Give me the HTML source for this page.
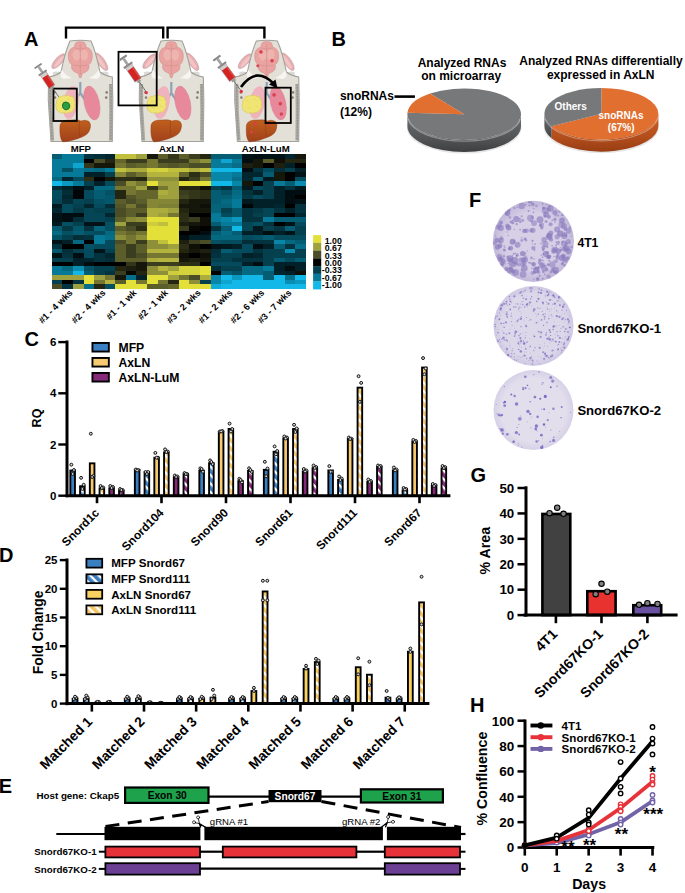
<!DOCTYPE html>
<html><head><meta charset="utf-8"><style>
html,body{margin:0;padding:0;background:#fff;}
body{width:685px;height:893px;overflow:hidden;}
svg{display:block;font-family:"Liberation Sans", sans-serif;}
</style></head><body>
<svg width="685" height="893" viewBox="0 0 685 893">
<rect width="685" height="893" fill="#fff"/>
<defs>
<pattern id="hb" patternUnits="userSpaceOnUse" width="6" height="6" patternTransform="rotate(45)"><rect width="6" height="6" fill="#3a7fc1"/><rect width="6" height="2.3" fill="#fff"/></pattern>
<pattern id="hy" patternUnits="userSpaceOnUse" width="6" height="6" patternTransform="rotate(45)"><rect width="6" height="6" fill="#f7c970"/><rect width="6" height="2.3" fill="#fff"/></pattern>
<pattern id="hp" patternUnits="userSpaceOnUse" width="6" height="6" patternTransform="rotate(45)"><rect width="6" height="6" fill="#842a78"/><rect width="6" height="2.3" fill="#fff"/></pattern>
<pattern id="hy2" patternUnits="userSpaceOnUse" width="6" height="6" patternTransform="rotate(45)"><rect width="6" height="6" fill="#f5c562"/><rect width="6" height="2.3" fill="#fff"/></pattern>
<linearGradient id="pieside" x1="0" x2="0" y1="0" y2="1"><stop offset="0" stop-color="#6c6d6f"/><stop offset="0.6" stop-color="#555658"/><stop offset="1" stop-color="#3e3f41"/></linearGradient>
<linearGradient id="piesideo" x1="0" x2="0" y1="0" y2="1"><stop offset="0" stop-color="#cc5e24"/><stop offset="0.6" stop-color="#b44e1c"/><stop offset="1" stop-color="#983e14"/></linearGradient>
<radialGradient id="plate1" cx="0.5" cy="0.5" r="0.5"><stop offset="0.7" stop-color="#d6cfe6"/><stop offset="1" stop-color="#c2b8da"/></radialGradient>
<radialGradient id="plate2" cx="0.5" cy="0.5" r="0.5"><stop offset="0.8" stop-color="#dcd7e9"/><stop offset="1" stop-color="#d0c9e3"/></radialGradient>
<radialGradient id="plate3" cx="0.5" cy="0.5" r="0.5"><stop offset="0.8" stop-color="#e2deec"/><stop offset="1" stop-color="#d6d1e6"/></radialGradient>
<linearGradient id="liver" x1="0" x2="0" y1="0" y2="1"><stop offset="0" stop-color="#c0601e"/><stop offset="1" stop-color="#a0401a"/></linearGradient>
</defs>
<text x="24.1" y="46.3" font-size="20" font-weight="bold" text-anchor="start" fill="#000">A</text>
<text x="331.4" y="46" font-size="20" font-weight="bold" text-anchor="start" fill="#000">B</text>
<text x="24.4" y="346" font-size="20" font-weight="bold" text-anchor="start" fill="#000">C</text>
<text x="-1" y="561.7" font-size="20" font-weight="bold" text-anchor="start" fill="#000">D</text>
<text x="-1.2" y="792.8" font-size="20" font-weight="bold" text-anchor="start" fill="#000">E</text>
<text x="469" y="207" font-size="20" font-weight="bold" text-anchor="start" fill="#000">F</text>
<text x="470.4" y="482.3" font-size="20" font-weight="bold" text-anchor="start" fill="#000">G</text>
<text x="470.1" y="711.9" font-size="20" font-weight="bold" text-anchor="start" fill="#000">H</text>
<path d="M66,38.5 L66,27.6 L163.2,27.6 L163.2,38.5" fill="none" stroke="#000" stroke-width="2.4"/>
<path d="M167.6,38.5 L167.6,27.6 L264.4,27.6 L264.4,38.5" fill="none" stroke="#000" stroke-width="2.4"/>
<g transform="translate(0.0,0)">
<path d="M52.6,72.5 Q57,70 62.5,73.5 L64,77 Q58,77.5 53.5,76 Z" fill="#d9d9d6"/>
<path d="M108.5,72.5 Q104,70 98.5,73.5 L97,78.5 Q103,79 108,77.5 Z" fill="#d9d9d6"/>
<ellipse cx="58.6" cy="61.2" rx="3.6" ry="9.4" transform="rotate(42 58.6 61.2)" fill="#e8aeb2" stroke="#b89a9a" stroke-width="0.5"/>
<ellipse cx="59.2" cy="61.5" rx="1.8" ry="7.2" transform="rotate(42 59.2 61.5)" fill="#f2c4c4"/>
<ellipse cx="101.4" cy="61.8" rx="3.6" ry="10.2" transform="rotate(-34 101.4 61.8)" fill="#e8aeb2" stroke="#b89a9a" stroke-width="0.5"/>
<ellipse cx="100.8" cy="62" rx="1.8" ry="8" transform="rotate(-34 100.8 62)" fill="#f2c4c4"/>
<path d="M70,41 Q80.3,39.5 91,41 C95,50 98,62 100,72 Q104,75.5 112.3,77 L112.8,100 L112.3,141.5 L51,141.5 L48.3,100 L48.6,77 Q57,75.5 61,72 C63,62 66,50 70,41 Z" fill="#e3e0d8" stroke="#a3a19a" stroke-width="1.1"/>
<path d="M50.4,84 L50.6,110 L52.5,140.5 M110.6,84 L111,110 L110.7,140.5" fill="none" stroke="#aaa9a3" stroke-width="3.4"/>
<path d="M50.2,84 L50.4,110 L52.3,140.5 M110.8,84 L111.2,110 L110.9,140.5" fill="none" stroke="#8a8880" stroke-width="0.9" stroke-dasharray="1.6,1.4"/>
<path d="M62,70 Q66,76 72,78 L64,79 Q58,77 62,70Z" fill="#f6f5f2"/>
<path d="M98.6,70 Q94.6,76 88.6,78 L96.6,79 Q102.6,77 98.6,70Z" fill="#f6f5f2"/>
<path d="M76.3,42.2 Q80.3,40.6 84.3,42.2 Q86.3,44 86.2,47.2 Q91.8,48.2 92.3,55 Q92.6,62 88.8,64.8 Q89.8,69.5 86.5,71.5 Q84,73 82.2,73.6 L81.2,77.6 L79.4,77.6 L78.4,73.6 Q76.6,73 74.1,71.5 Q70.8,69.5 71.8,64.8 Q68,62 68.3,55 Q68.8,48.2 74.4,47.2 Q74.3,44 76.3,42.2 Z" fill="#e9a3a1" stroke="#cf8784" stroke-width="0.5"/>
<ellipse cx="76.5" cy="55" rx="4" ry="5.5" fill="#f0bab5" opacity="0.7"/><ellipse cx="84.1" cy="55" rx="4" ry="5.5" fill="#f0bab5" opacity="0.7"/>
<path d="M80.3,44 L80.3,75 M73,65 Q80.3,67 87.6,65 M74.6,48 Q80.3,50 86,48" fill="none" stroke="#d38d8a" stroke-width="0.6"/>
<path d="M80.3,82 L80.3,93 L76,99.5 M80.3,93 L84.8,99.5" fill="none" stroke="#8fa3b7" stroke-width="2.2" stroke-linejoin="round"/>
<ellipse cx="70.8" cy="102.5" rx="7.8" ry="16.5" transform="rotate(10 70.8 102.5)" fill="#efb3bd"/>
<ellipse cx="91.8" cy="103" rx="7.6" ry="17.2" transform="rotate(-12 91.8 103)" fill="#e8899b" stroke="#d77a8c" stroke-width="0.4"/>
<path d="M57.5,99.5 Q58,96 61.5,96.5 Q63,94.8 66,95.8 Q68.5,94.6 70.5,96.5 Q74,96 74,99.5 Q76,101.5 74.8,104.5 Q76,107.5 73.5,109.5 Q73,112.5 69.5,112.3 Q67,114 64,112.8 Q60.5,114 59,111.5 Q55.5,110.5 56.3,107.5 Q54.8,105 56.5,103 Q55.8,100.5 57.5,99.5Z" fill="#f0e572" stroke="#d6c850" stroke-width="0.6"/>
<path d="M60,101 Q62,100 63,102 M67,99 Q69,98.5 70,100.5 M61,108 Q63,107 64,109 M69,106 Q71,105.5 72,107.5" fill="none" stroke="#d8cc58" stroke-width="0.5"/>
<circle cx="106.7" cy="92.4" r="1.3" fill="#8d7f70"/><circle cx="106.2" cy="97.6" r="1.3" fill="#8d7f70"/>
<circle cx="54.5" cy="92.4" r="1.3" fill="#8d7f70"/><circle cx="55.0" cy="97.6" r="1.3" fill="#8d7f70"/>
<path d="M60,125 Q61.5,119.6 71,120 Q78,119.2 81,121 Q85,119.2 89,121.5 Q91.5,124 90,129 Q88.5,134.5 82,137 Q72,141.2 63,142 Q59,139 60,125Z" fill="url(#liver)" stroke="#8d3a14" stroke-width="0.4"/>
<path d="M79.5,121 Q78.5,130 80,137" fill="none" stroke="#8d3a14" stroke-width="0.5"/>
<path d="M62.5,105 Q62.8,101.8 66,102 Q69.6,102.3 69.8,105.8 Q69.8,109.6 66.2,109.8 Q62.4,109.5 62.5,105Z" fill="#2a9e40" stroke="#12702a" stroke-width="1"/>
</g>
<g transform="translate(91.0,0)">
<path d="M52.6,72.5 Q57,70 62.5,73.5 L64,77 Q58,77.5 53.5,76 Z" fill="#d9d9d6"/>
<path d="M108.5,72.5 Q104,70 98.5,73.5 L97,78.5 Q103,79 108,77.5 Z" fill="#d9d9d6"/>
<ellipse cx="58.6" cy="61.2" rx="3.6" ry="9.4" transform="rotate(42 58.6 61.2)" fill="#e8aeb2" stroke="#b89a9a" stroke-width="0.5"/>
<ellipse cx="59.2" cy="61.5" rx="1.8" ry="7.2" transform="rotate(42 59.2 61.5)" fill="#f2c4c4"/>
<ellipse cx="101.4" cy="61.8" rx="3.6" ry="10.2" transform="rotate(-34 101.4 61.8)" fill="#e8aeb2" stroke="#b89a9a" stroke-width="0.5"/>
<ellipse cx="100.8" cy="62" rx="1.8" ry="8" transform="rotate(-34 100.8 62)" fill="#f2c4c4"/>
<path d="M70,41 Q80.3,39.5 91,41 C95,50 98,62 100,72 Q104,75.5 112.3,77 L112.8,100 L112.3,141.5 L51,141.5 L48.3,100 L48.6,77 Q57,75.5 61,72 C63,62 66,50 70,41 Z" fill="#e3e0d8" stroke="#a3a19a" stroke-width="1.1"/>
<path d="M50.4,84 L50.6,110 L52.5,140.5 M110.6,84 L111,110 L110.7,140.5" fill="none" stroke="#aaa9a3" stroke-width="3.4"/>
<path d="M50.2,84 L50.4,110 L52.3,140.5 M110.8,84 L111.2,110 L110.9,140.5" fill="none" stroke="#8a8880" stroke-width="0.9" stroke-dasharray="1.6,1.4"/>
<path d="M62,70 Q66,76 72,78 L64,79 Q58,77 62,70Z" fill="#f6f5f2"/>
<path d="M98.6,70 Q94.6,76 88.6,78 L96.6,79 Q102.6,77 98.6,70Z" fill="#f6f5f2"/>
<path d="M76.3,42.2 Q80.3,40.6 84.3,42.2 Q86.3,44 86.2,47.2 Q91.8,48.2 92.3,55 Q92.6,62 88.8,64.8 Q89.8,69.5 86.5,71.5 Q84,73 82.2,73.6 L81.2,77.6 L79.4,77.6 L78.4,73.6 Q76.6,73 74.1,71.5 Q70.8,69.5 71.8,64.8 Q68,62 68.3,55 Q68.8,48.2 74.4,47.2 Q74.3,44 76.3,42.2 Z" fill="#e9a3a1" stroke="#cf8784" stroke-width="0.5"/>
<ellipse cx="76.5" cy="55" rx="4" ry="5.5" fill="#f0bab5" opacity="0.7"/><ellipse cx="84.1" cy="55" rx="4" ry="5.5" fill="#f0bab5" opacity="0.7"/>
<path d="M80.3,44 L80.3,75 M73,65 Q80.3,67 87.6,65 M74.6,48 Q80.3,50 86,48" fill="none" stroke="#d38d8a" stroke-width="0.6"/>
<path d="M80.3,82 L80.3,93 L76,99.5 M80.3,93 L84.8,99.5" fill="none" stroke="#8fa3b7" stroke-width="2.2" stroke-linejoin="round"/>
<ellipse cx="70.8" cy="102.5" rx="7.8" ry="16.5" transform="rotate(10 70.8 102.5)" fill="#efb3bd"/>
<ellipse cx="91.8" cy="103" rx="7.6" ry="17.2" transform="rotate(-12 91.8 103)" fill="#e8899b" stroke="#d77a8c" stroke-width="0.4"/>
<path d="M57.5,99.5 Q58,96 61.5,96.5 Q63,94.8 66,95.8 Q68.5,94.6 70.5,96.5 Q74,96 74,99.5 Q76,101.5 74.8,104.5 Q76,107.5 73.5,109.5 Q73,112.5 69.5,112.3 Q67,114 64,112.8 Q60.5,114 59,111.5 Q55.5,110.5 56.3,107.5 Q54.8,105 56.5,103 Q55.8,100.5 57.5,99.5Z" fill="#f0e572" stroke="#d6c850" stroke-width="0.6"/>
<path d="M60,101 Q62,100 63,102 M67,99 Q69,98.5 70,100.5 M61,108 Q63,107 64,109 M69,106 Q71,105.5 72,107.5" fill="none" stroke="#d8cc58" stroke-width="0.5"/>
<circle cx="106.7" cy="92.4" r="1.3" fill="#8d7f70"/><circle cx="106.2" cy="97.6" r="1.3" fill="#8d7f70"/>
<circle cx="54.5" cy="92.4" r="1.3" fill="#8d7f70"/><circle cx="55.0" cy="97.6" r="1.3" fill="#8d7f70"/>
<path d="M60,125 Q61.5,119.6 71,120 Q78,119.2 81,121 Q85,119.2 89,121.5 Q91.5,124 90,129 Q88.5,134.5 82,137 Q72,141.2 63,142 Q59,139 60,125Z" fill="url(#liver)" stroke="#8d3a14" stroke-width="0.4"/>
<path d="M79.5,121 Q78.5,130 80,137" fill="none" stroke="#8d3a14" stroke-width="0.5"/>
</g>
<g transform="translate(186.4,0)">
<path d="M52.6,72.5 Q57,70 62.5,73.5 L64,77 Q58,77.5 53.5,76 Z" fill="#d9d9d6"/>
<path d="M108.5,72.5 Q104,70 98.5,73.5 L97,78.5 Q103,79 108,77.5 Z" fill="#d9d9d6"/>
<ellipse cx="58.6" cy="61.2" rx="3.6" ry="9.4" transform="rotate(42 58.6 61.2)" fill="#e8aeb2" stroke="#b89a9a" stroke-width="0.5"/>
<ellipse cx="59.2" cy="61.5" rx="1.8" ry="7.2" transform="rotate(42 59.2 61.5)" fill="#f2c4c4"/>
<ellipse cx="101.4" cy="61.8" rx="3.6" ry="10.2" transform="rotate(-34 101.4 61.8)" fill="#e8aeb2" stroke="#b89a9a" stroke-width="0.5"/>
<ellipse cx="100.8" cy="62" rx="1.8" ry="8" transform="rotate(-34 100.8 62)" fill="#f2c4c4"/>
<path d="M70,41 Q80.3,39.5 91,41 C95,50 98,62 100,72 Q104,75.5 112.3,77 L112.8,100 L112.3,141.5 L51,141.5 L48.3,100 L48.6,77 Q57,75.5 61,72 C63,62 66,50 70,41 Z" fill="#e3e0d8" stroke="#a3a19a" stroke-width="1.1"/>
<path d="M50.4,84 L50.6,110 L52.5,140.5 M110.6,84 L111,110 L110.7,140.5" fill="none" stroke="#aaa9a3" stroke-width="3.4"/>
<path d="M50.2,84 L50.4,110 L52.3,140.5 M110.8,84 L111.2,110 L110.9,140.5" fill="none" stroke="#8a8880" stroke-width="0.9" stroke-dasharray="1.6,1.4"/>
<path d="M62,70 Q66,76 72,78 L64,79 Q58,77 62,70Z" fill="#f6f5f2"/>
<path d="M98.6,70 Q94.6,76 88.6,78 L96.6,79 Q102.6,77 98.6,70Z" fill="#f6f5f2"/>
<path d="M76.3,42.2 Q80.3,40.6 84.3,42.2 Q86.3,44 86.2,47.2 Q91.8,48.2 92.3,55 Q92.6,62 88.8,64.8 Q89.8,69.5 86.5,71.5 Q84,73 82.2,73.6 L81.2,77.6 L79.4,77.6 L78.4,73.6 Q76.6,73 74.1,71.5 Q70.8,69.5 71.8,64.8 Q68,62 68.3,55 Q68.8,48.2 74.4,47.2 Q74.3,44 76.3,42.2 Z" fill="#e9a3a1" stroke="#cf8784" stroke-width="0.5"/>
<ellipse cx="76.5" cy="55" rx="4" ry="5.5" fill="#f0bab5" opacity="0.7"/><ellipse cx="84.1" cy="55" rx="4" ry="5.5" fill="#f0bab5" opacity="0.7"/>
<path d="M80.3,44 L80.3,75 M73,65 Q80.3,67 87.6,65 M74.6,48 Q80.3,50 86,48" fill="none" stroke="#d38d8a" stroke-width="0.6"/>
<path d="M80.3,82 L80.3,93 L76,99.5 M80.3,93 L84.8,99.5" fill="none" stroke="#8fa3b7" stroke-width="2.2" stroke-linejoin="round"/>
<ellipse cx="70.8" cy="102.5" rx="7.8" ry="16.5" transform="rotate(10 70.8 102.5)" fill="#efb3bd"/>
<ellipse cx="91.8" cy="103" rx="7.6" ry="17.2" transform="rotate(-12 91.8 103)" fill="#e8899b" stroke="#d77a8c" stroke-width="0.4"/>
<path d="M57.5,99.5 Q58,96 61.5,96.5 Q63,94.8 66,95.8 Q68.5,94.6 70.5,96.5 Q74,96 74,99.5 Q76,101.5 74.8,104.5 Q76,107.5 73.5,109.5 Q73,112.5 69.5,112.3 Q67,114 64,112.8 Q60.5,114 59,111.5 Q55.5,110.5 56.3,107.5 Q54.8,105 56.5,103 Q55.8,100.5 57.5,99.5Z" fill="#f0e572" stroke="#d6c850" stroke-width="0.6"/>
<path d="M60,101 Q62,100 63,102 M67,99 Q69,98.5 70,100.5 M61,108 Q63,107 64,109 M69,106 Q71,105.5 72,107.5" fill="none" stroke="#d8cc58" stroke-width="0.5"/>
<circle cx="106.7" cy="92.4" r="1.3" fill="#8d7f70"/><circle cx="106.2" cy="97.6" r="1.3" fill="#8d7f70"/>
<circle cx="54.5" cy="92.4" r="1.3" fill="#8d7f70"/><circle cx="55.0" cy="97.6" r="1.3" fill="#8d7f70"/>
<path d="M60,125 Q61.5,119.6 71,120 Q78,119.2 81,121 Q85,119.2 89,121.5 Q91.5,124 90,129 Q88.5,134.5 82,137 Q72,141.2 63,142 Q59,139 60,125Z" fill="url(#liver)" stroke="#8d3a14" stroke-width="0.4"/>
<path d="M79.5,121 Q78.5,130 80,137" fill="none" stroke="#8d3a14" stroke-width="0.5"/>
<circle cx="74.6" cy="51.9" r="1.6" fill="#e0444e" stroke="#c03040" stroke-width="0.3"/>
<circle cx="85.6" cy="60.7" r="1.6" fill="#e0444e" stroke="#c03040" stroke-width="0.3"/>
<circle cx="71.4" cy="65.8" r="1.3" fill="#e0444e" stroke="#c03040" stroke-width="0.3"/>
<circle cx="87.7" cy="94.9" r="1.6" fill="#e0444e" stroke="#c03040" stroke-width="0.3"/>
<circle cx="93.9" cy="103.7" r="1.6" fill="#e0444e" stroke="#c03040" stroke-width="0.3"/>
<circle cx="95" cy="114" r="1.5" fill="#e0444e" stroke="#c03040" stroke-width="0.3"/>
<circle cx="68.7" cy="123.8" r="1.5" fill="#e0444e" stroke="#c03040" stroke-width="0.3"/>
<circle cx="65.2" cy="132.1" r="1.5" fill="#e0444e" stroke="#c03040" stroke-width="0.3"/>
<circle cx="82.3" cy="124" r="1.3" fill="#e0444e" stroke="#c03040" stroke-width="0.3"/>
</g>
<rect x="53.4" y="88.6" width="23.4" height="32.4" fill="none" stroke="#000" stroke-width="1.8"/>
<g transform="translate(37.6,65.2) rotate(56.3) scale(1.000)">
<rect x="0" y="-4.2" width="2" height="8.4" rx="0.6" fill="#8a8a8a"/>
<rect x="2" y="-1.3" width="6.5" height="2.6" fill="#a4a4a4"/>
<rect x="8.2" y="-4.8" width="2" height="9.6" rx="0.5" fill="#8a8a8a"/>
<rect x="10.2" y="-3.4" width="15.5" height="6.8" fill="#d52321" stroke="#8a8a8a" stroke-width="0.5"/>
<rect x="10.2" y="-3.4" width="3.2" height="6.8" fill="#cfcfcf"/>
<rect x="14" y="-3.4" width="11.7" height="1.6" fill="#e85a55" opacity="0.6"/>
<rect x="25.7" y="-1.8" width="2.4" height="3.6" fill="#9a9a9a"/>
<line x1="28" y1="0" x2="38" y2="0" stroke="#6a6a6a" stroke-width="0.8"/>
</g>
<rect x="118.5" y="51.8" width="38.2" height="53.6" fill="none" stroke="#000" stroke-width="1.8"/>
<circle cx="146.3" cy="92.6" r="1.6" fill="#e03040"/>
<g transform="translate(122.4,56.9) rotate(55.8) scale(1.085)">
<rect x="0" y="-4.2" width="2" height="8.4" rx="0.6" fill="#8a8a8a"/>
<rect x="2" y="-1.3" width="6.5" height="2.6" fill="#a4a4a4"/>
<rect x="8.2" y="-4.8" width="2" height="9.6" rx="0.5" fill="#8a8a8a"/>
<rect x="10.2" y="-3.4" width="15.5" height="6.8" fill="#d52321" stroke="#8a8a8a" stroke-width="0.5"/>
<rect x="10.2" y="-3.4" width="3.2" height="6.8" fill="#cfcfcf"/>
<rect x="14" y="-3.4" width="11.7" height="1.6" fill="#e85a55" opacity="0.6"/>
<rect x="25.7" y="-1.8" width="2.4" height="3.6" fill="#9a9a9a"/>
<line x1="28" y1="0" x2="38" y2="0" stroke="#6a6a6a" stroke-width="0.8"/>
</g>
<circle cx="241.2" cy="91.4" r="1.7" fill="#e03040"/>
<g transform="translate(216.2,57.2) rotate(53.5) scale(1.067)">
<rect x="0" y="-4.2" width="2" height="8.4" rx="0.6" fill="#8a8a8a"/>
<rect x="2" y="-1.3" width="6.5" height="2.6" fill="#a4a4a4"/>
<rect x="8.2" y="-4.8" width="2" height="9.6" rx="0.5" fill="#8a8a8a"/>
<rect x="10.2" y="-3.4" width="15.5" height="6.8" fill="#d52321" stroke="#8a8a8a" stroke-width="0.5"/>
<rect x="10.2" y="-3.4" width="3.2" height="6.8" fill="#cfcfcf"/>
<rect x="14" y="-3.4" width="11.7" height="1.6" fill="#e85a55" opacity="0.6"/>
<rect x="25.7" y="-1.8" width="2.4" height="3.6" fill="#9a9a9a"/>
<line x1="28" y1="0" x2="38" y2="0" stroke="#6a6a6a" stroke-width="0.8"/>
</g>
<rect x="265.5" y="87.7" width="25.3" height="35.3" fill="none" stroke="#000" stroke-width="1.8"/>
<path d="M241,87 Q256,66 273.5,83.5" fill="none" stroke="#000" stroke-width="2.6"/>
<path d="M269,84.5 L277.5,88.5 L275.5,79.5 Z" fill="#000"/>
<text x="80.9" y="152.2" font-size="9.6" font-weight="bold" text-anchor="middle" fill="#000">MFP</text>
<text x="171.6" y="152.2" font-size="9.6" font-weight="bold" text-anchor="middle" fill="#000">AxLN</text>
<text x="265.7" y="152.2" font-size="9.6" font-weight="bold" text-anchor="middle" fill="#000">AxLN-LuM</text>
<rect x="51.80" y="154.30" width="11.08" height="4.99" fill="#055d73" shape-rendering="crispEdges"/>
<rect x="62.38" y="154.30" width="11.08" height="4.99" fill="#067a98" shape-rendering="crispEdges"/>
<rect x="72.96" y="154.30" width="11.08" height="4.99" fill="#067a98" shape-rendering="crispEdges"/>
<rect x="83.54" y="154.30" width="11.08" height="4.99" fill="#03333e" shape-rendering="crispEdges"/>
<rect x="94.12" y="154.30" width="11.08" height="4.99" fill="#032d37" shape-rendering="crispEdges"/>
<rect x="104.70" y="154.30" width="11.08" height="4.99" fill="#02262f" shape-rendering="crispEdges"/>
<rect x="115.28" y="154.30" width="11.08" height="4.99" fill="#c1c03c" shape-rendering="crispEdges"/>
<rect x="125.86" y="154.30" width="11.08" height="4.99" fill="#c1c03c" shape-rendering="crispEdges"/>
<rect x="136.44" y="154.30" width="11.08" height="4.99" fill="#9fa03e" shape-rendering="crispEdges"/>
<rect x="147.02" y="154.30" width="11.08" height="4.99" fill="#16170b" shape-rendering="crispEdges"/>
<rect x="157.60" y="154.30" width="11.08" height="4.99" fill="#5b5e2a" shape-rendering="crispEdges"/>
<rect x="168.18" y="154.30" width="11.08" height="4.99" fill="#34361a" shape-rendering="crispEdges"/>
<rect x="178.76" y="154.30" width="11.08" height="4.99" fill="#5b5e2a" shape-rendering="crispEdges"/>
<rect x="189.34" y="154.30" width="11.08" height="4.99" fill="#3b3e1e" shape-rendering="crispEdges"/>
<rect x="199.92" y="154.30" width="11.08" height="4.99" fill="#252612" shape-rendering="crispEdges"/>
<rect x="210.50" y="154.30" width="11.08" height="4.99" fill="#055d73" shape-rendering="crispEdges"/>
<rect x="221.08" y="154.30" width="11.08" height="4.99" fill="#055d73" shape-rendering="crispEdges"/>
<rect x="231.66" y="154.30" width="11.08" height="4.99" fill="#055d73" shape-rendering="crispEdges"/>
<rect x="242.24" y="154.30" width="11.08" height="4.99" fill="#011317" shape-rendering="crispEdges"/>
<rect x="252.82" y="154.30" width="11.08" height="4.99" fill="#010d10" shape-rendering="crispEdges"/>
<rect x="263.40" y="154.30" width="11.08" height="4.99" fill="#011317" shape-rendering="crispEdges"/>
<rect x="273.98" y="154.30" width="11.08" height="4.99" fill="#011317" shape-rendering="crispEdges"/>
<rect x="284.56" y="154.30" width="11.08" height="4.99" fill="#02262f" shape-rendering="crispEdges"/>
<rect x="295.14" y="154.30" width="11.08" height="4.99" fill="#16170b" shape-rendering="crispEdges"/>
<rect x="51.80" y="158.79" width="11.08" height="4.99" fill="#067a98" shape-rendering="crispEdges"/>
<rect x="62.38" y="158.79" width="11.08" height="4.99" fill="#067a98" shape-rendering="crispEdges"/>
<rect x="72.96" y="158.79" width="11.08" height="4.99" fill="#067a98" shape-rendering="crispEdges"/>
<rect x="83.54" y="158.79" width="11.08" height="4.99" fill="#000000" shape-rendering="crispEdges"/>
<rect x="94.12" y="158.79" width="11.08" height="4.99" fill="#4a4d25" shape-rendering="crispEdges"/>
<rect x="104.70" y="158.79" width="11.08" height="4.99" fill="#252612" shape-rendering="crispEdges"/>
<rect x="115.28" y="158.79" width="11.08" height="4.99" fill="#64662c" shape-rendering="crispEdges"/>
<rect x="125.86" y="158.79" width="11.08" height="4.99" fill="#3b3e1e" shape-rendering="crispEdges"/>
<rect x="136.44" y="158.79" width="11.08" height="4.99" fill="#3b3e1e" shape-rendering="crispEdges"/>
<rect x="147.02" y="158.79" width="11.08" height="4.99" fill="#747632" shape-rendering="crispEdges"/>
<rect x="157.60" y="158.79" width="11.08" height="4.99" fill="#3b3e1e" shape-rendering="crispEdges"/>
<rect x="168.18" y="158.79" width="11.08" height="4.99" fill="#3b3e1e" shape-rendering="crispEdges"/>
<rect x="178.76" y="158.79" width="11.08" height="4.99" fill="#3b3e1e" shape-rendering="crispEdges"/>
<rect x="189.34" y="158.79" width="11.08" height="4.99" fill="#747632" shape-rendering="crispEdges"/>
<rect x="199.92" y="158.79" width="11.08" height="4.99" fill="#8e8f39" shape-rendering="crispEdges"/>
<rect x="210.50" y="158.79" width="11.08" height="4.99" fill="#067a98" shape-rendering="crispEdges"/>
<rect x="221.08" y="158.79" width="11.08" height="4.99" fill="#0ea5d0" shape-rendering="crispEdges"/>
<rect x="231.66" y="158.79" width="11.08" height="4.99" fill="#067a98" shape-rendering="crispEdges"/>
<rect x="242.24" y="158.79" width="11.08" height="4.99" fill="#010d10" shape-rendering="crispEdges"/>
<rect x="252.82" y="158.79" width="11.08" height="4.99" fill="#16170b" shape-rendering="crispEdges"/>
<rect x="263.40" y="158.79" width="11.08" height="4.99" fill="#5b5e2a" shape-rendering="crispEdges"/>
<rect x="273.98" y="158.79" width="11.08" height="4.99" fill="#0f0f07" shape-rendering="crispEdges"/>
<rect x="284.56" y="158.79" width="11.08" height="4.99" fill="#252612" shape-rendering="crispEdges"/>
<rect x="295.14" y="158.79" width="11.08" height="4.99" fill="#252612" shape-rendering="crispEdges"/>
<rect x="51.80" y="163.27" width="11.08" height="4.99" fill="#067a98" shape-rendering="crispEdges"/>
<rect x="62.38" y="163.27" width="11.08" height="4.99" fill="#067a98" shape-rendering="crispEdges"/>
<rect x="72.96" y="163.27" width="11.08" height="4.99" fill="#0ea5d0" shape-rendering="crispEdges"/>
<rect x="83.54" y="163.27" width="11.08" height="4.99" fill="#34361a" shape-rendering="crispEdges"/>
<rect x="94.12" y="163.27" width="11.08" height="4.99" fill="#16170b" shape-rendering="crispEdges"/>
<rect x="104.70" y="163.27" width="11.08" height="4.99" fill="#16170b" shape-rendering="crispEdges"/>
<rect x="115.28" y="163.27" width="11.08" height="4.99" fill="#747632" shape-rendering="crispEdges"/>
<rect x="125.86" y="163.27" width="11.08" height="4.99" fill="#5b5e2a" shape-rendering="crispEdges"/>
<rect x="136.44" y="163.27" width="11.08" height="4.99" fill="#64662c" shape-rendering="crispEdges"/>
<rect x="147.02" y="163.27" width="11.08" height="4.99" fill="#747632" shape-rendering="crispEdges"/>
<rect x="157.60" y="163.27" width="11.08" height="4.99" fill="#5b5e2a" shape-rendering="crispEdges"/>
<rect x="168.18" y="163.27" width="11.08" height="4.99" fill="#525528" shape-rendering="crispEdges"/>
<rect x="178.76" y="163.27" width="11.08" height="4.99" fill="#5b5e2a" shape-rendering="crispEdges"/>
<rect x="189.34" y="163.27" width="11.08" height="4.99" fill="#4a4d25" shape-rendering="crispEdges"/>
<rect x="199.92" y="163.27" width="11.08" height="4.99" fill="#4a4d25" shape-rendering="crispEdges"/>
<rect x="210.50" y="163.27" width="11.08" height="4.99" fill="#067a98" shape-rendering="crispEdges"/>
<rect x="221.08" y="163.27" width="11.08" height="4.99" fill="#067a98" shape-rendering="crispEdges"/>
<rect x="231.66" y="163.27" width="11.08" height="4.99" fill="#066e89" shape-rendering="crispEdges"/>
<rect x="242.24" y="163.27" width="11.08" height="4.99" fill="#1e1f0f" shape-rendering="crispEdges"/>
<rect x="252.82" y="163.27" width="11.08" height="4.99" fill="#16170b" shape-rendering="crispEdges"/>
<rect x="263.40" y="163.27" width="11.08" height="4.99" fill="#000000" shape-rendering="crispEdges"/>
<rect x="273.98" y="163.27" width="11.08" height="4.99" fill="#1e1f0f" shape-rendering="crispEdges"/>
<rect x="284.56" y="163.27" width="11.08" height="4.99" fill="#022027" shape-rendering="crispEdges"/>
<rect x="295.14" y="163.27" width="11.08" height="4.99" fill="#000000" shape-rendering="crispEdges"/>
<rect x="51.80" y="167.76" width="11.08" height="4.99" fill="#067a98" shape-rendering="crispEdges"/>
<rect x="62.38" y="167.76" width="11.08" height="4.99" fill="#055164" shape-rendering="crispEdges"/>
<rect x="72.96" y="167.76" width="11.08" height="4.99" fill="#067a98" shape-rendering="crispEdges"/>
<rect x="83.54" y="167.76" width="11.08" height="4.99" fill="#066e89" shape-rendering="crispEdges"/>
<rect x="94.12" y="167.76" width="11.08" height="4.99" fill="#056982" shape-rendering="crispEdges"/>
<rect x="104.70" y="167.76" width="11.08" height="4.99" fill="#067a98" shape-rendering="crispEdges"/>
<rect x="115.28" y="167.76" width="11.08" height="4.99" fill="#c1c03c" shape-rendering="crispEdges"/>
<rect x="125.86" y="167.76" width="11.08" height="4.99" fill="#adad3d" shape-rendering="crispEdges"/>
<rect x="136.44" y="167.76" width="11.08" height="4.99" fill="#adad3d" shape-rendering="crispEdges"/>
<rect x="147.02" y="167.76" width="11.08" height="4.99" fill="#cfcd3b" shape-rendering="crispEdges"/>
<rect x="157.60" y="167.76" width="11.08" height="4.99" fill="#d5d33b" shape-rendering="crispEdges"/>
<rect x="168.18" y="167.76" width="11.08" height="4.99" fill="#c1c03c" shape-rendering="crispEdges"/>
<rect x="178.76" y="167.76" width="11.08" height="4.99" fill="#c1c03c" shape-rendering="crispEdges"/>
<rect x="189.34" y="167.76" width="11.08" height="4.99" fill="#adad3d" shape-rendering="crispEdges"/>
<rect x="199.92" y="167.76" width="11.08" height="4.99" fill="#c1c03c" shape-rendering="crispEdges"/>
<rect x="210.50" y="167.76" width="11.08" height="4.99" fill="#12b8e8" shape-rendering="crispEdges"/>
<rect x="221.08" y="167.76" width="11.08" height="4.99" fill="#12b8e8" shape-rendering="crispEdges"/>
<rect x="231.66" y="167.76" width="11.08" height="4.99" fill="#12b8e8" shape-rendering="crispEdges"/>
<rect x="242.24" y="167.76" width="11.08" height="4.99" fill="#010d10" shape-rendering="crispEdges"/>
<rect x="252.82" y="167.76" width="11.08" height="4.99" fill="#03333e" shape-rendering="crispEdges"/>
<rect x="263.40" y="167.76" width="11.08" height="4.99" fill="#044c5d" shape-rendering="crispEdges"/>
<rect x="273.98" y="167.76" width="11.08" height="4.99" fill="#032d37" shape-rendering="crispEdges"/>
<rect x="284.56" y="167.76" width="11.08" height="4.99" fill="#04404e" shape-rendering="crispEdges"/>
<rect x="295.14" y="167.76" width="11.08" height="4.99" fill="#022027" shape-rendering="crispEdges"/>
<rect x="51.80" y="172.25" width="11.08" height="4.99" fill="#067a98" shape-rendering="crispEdges"/>
<rect x="62.38" y="172.25" width="11.08" height="4.99" fill="#067a98" shape-rendering="crispEdges"/>
<rect x="72.96" y="172.25" width="11.08" height="4.99" fill="#067a98" shape-rendering="crispEdges"/>
<rect x="83.54" y="172.25" width="11.08" height="4.99" fill="#022027" shape-rendering="crispEdges"/>
<rect x="94.12" y="172.25" width="11.08" height="4.99" fill="#022027" shape-rendering="crispEdges"/>
<rect x="104.70" y="172.25" width="11.08" height="4.99" fill="#04404e" shape-rendering="crispEdges"/>
<rect x="115.28" y="172.25" width="11.08" height="4.99" fill="#868736" shape-rendering="crispEdges"/>
<rect x="125.86" y="172.25" width="11.08" height="4.99" fill="#5b5e2a" shape-rendering="crispEdges"/>
<rect x="136.44" y="172.25" width="11.08" height="4.99" fill="#747632" shape-rendering="crispEdges"/>
<rect x="147.02" y="172.25" width="11.08" height="4.99" fill="#b3b33d" shape-rendering="crispEdges"/>
<rect x="157.60" y="172.25" width="11.08" height="4.99" fill="#b3b33d" shape-rendering="crispEdges"/>
<rect x="168.18" y="172.25" width="11.08" height="4.99" fill="#b3b33d" shape-rendering="crispEdges"/>
<rect x="178.76" y="172.25" width="11.08" height="4.99" fill="#64662c" shape-rendering="crispEdges"/>
<rect x="189.34" y="172.25" width="11.08" height="4.99" fill="#2c2e16" shape-rendering="crispEdges"/>
<rect x="199.92" y="172.25" width="11.08" height="4.99" fill="#4a4d25" shape-rendering="crispEdges"/>
<rect x="210.50" y="172.25" width="11.08" height="4.99" fill="#0886a8" shape-rendering="crispEdges"/>
<rect x="221.08" y="172.25" width="11.08" height="4.99" fill="#0886a8" shape-rendering="crispEdges"/>
<rect x="231.66" y="172.25" width="11.08" height="4.99" fill="#067a98" shape-rendering="crispEdges"/>
<rect x="242.24" y="172.25" width="11.08" height="4.99" fill="#02262f" shape-rendering="crispEdges"/>
<rect x="252.82" y="172.25" width="11.08" height="4.99" fill="#02262f" shape-rendering="crispEdges"/>
<rect x="263.40" y="172.25" width="11.08" height="4.99" fill="#055d73" shape-rendering="crispEdges"/>
<rect x="273.98" y="172.25" width="11.08" height="4.99" fill="#16170b" shape-rendering="crispEdges"/>
<rect x="284.56" y="172.25" width="11.08" height="4.99" fill="#000000" shape-rendering="crispEdges"/>
<rect x="295.14" y="172.25" width="11.08" height="4.99" fill="#011317" shape-rendering="crispEdges"/>
<rect x="51.80" y="176.74" width="11.08" height="4.99" fill="#056982" shape-rendering="crispEdges"/>
<rect x="62.38" y="176.74" width="11.08" height="4.99" fill="#02262f" shape-rendering="crispEdges"/>
<rect x="72.96" y="176.74" width="11.08" height="4.99" fill="#044c5d" shape-rendering="crispEdges"/>
<rect x="83.54" y="176.74" width="11.08" height="4.99" fill="#2c2e16" shape-rendering="crispEdges"/>
<rect x="94.12" y="176.74" width="11.08" height="4.99" fill="#000000" shape-rendering="crispEdges"/>
<rect x="104.70" y="176.74" width="11.08" height="4.99" fill="#16170b" shape-rendering="crispEdges"/>
<rect x="115.28" y="176.74" width="11.08" height="4.99" fill="#2c2e16" shape-rendering="crispEdges"/>
<rect x="125.86" y="176.74" width="11.08" height="4.99" fill="#2c2e16" shape-rendering="crispEdges"/>
<rect x="136.44" y="176.74" width="11.08" height="4.99" fill="#252612" shape-rendering="crispEdges"/>
<rect x="147.02" y="176.74" width="11.08" height="4.99" fill="#8e8f39" shape-rendering="crispEdges"/>
<rect x="157.60" y="176.74" width="11.08" height="4.99" fill="#8e8f39" shape-rendering="crispEdges"/>
<rect x="168.18" y="176.74" width="11.08" height="4.99" fill="#8e8f39" shape-rendering="crispEdges"/>
<rect x="178.76" y="176.74" width="11.08" height="4.99" fill="#252612" shape-rendering="crispEdges"/>
<rect x="189.34" y="176.74" width="11.08" height="4.99" fill="#3b3e1e" shape-rendering="crispEdges"/>
<rect x="199.92" y="176.74" width="11.08" height="4.99" fill="#747632" shape-rendering="crispEdges"/>
<rect x="210.50" y="176.74" width="11.08" height="4.99" fill="#0886a8" shape-rendering="crispEdges"/>
<rect x="221.08" y="176.74" width="11.08" height="4.99" fill="#0886a8" shape-rendering="crispEdges"/>
<rect x="231.66" y="176.74" width="11.08" height="4.99" fill="#066e89" shape-rendering="crispEdges"/>
<rect x="242.24" y="176.74" width="11.08" height="4.99" fill="#02262f" shape-rendering="crispEdges"/>
<rect x="252.82" y="176.74" width="11.08" height="4.99" fill="#055d73" shape-rendering="crispEdges"/>
<rect x="263.40" y="176.74" width="11.08" height="4.99" fill="#021a1f" shape-rendering="crispEdges"/>
<rect x="273.98" y="176.74" width="11.08" height="4.99" fill="#16170b" shape-rendering="crispEdges"/>
<rect x="284.56" y="176.74" width="11.08" height="4.99" fill="#000000" shape-rendering="crispEdges"/>
<rect x="295.14" y="176.74" width="11.08" height="4.99" fill="#044c5d" shape-rendering="crispEdges"/>
<rect x="51.80" y="181.22" width="11.08" height="4.99" fill="#12b8e8" shape-rendering="crispEdges"/>
<rect x="62.38" y="181.22" width="11.08" height="4.99" fill="#0c99c0" shape-rendering="crispEdges"/>
<rect x="72.96" y="181.22" width="11.08" height="4.99" fill="#067a98" shape-rendering="crispEdges"/>
<rect x="83.54" y="181.22" width="11.08" height="4.99" fill="#04404e" shape-rendering="crispEdges"/>
<rect x="94.12" y="181.22" width="11.08" height="4.99" fill="#022027" shape-rendering="crispEdges"/>
<rect x="104.70" y="181.22" width="11.08" height="4.99" fill="#044c5d" shape-rendering="crispEdges"/>
<rect x="115.28" y="181.22" width="11.08" height="4.99" fill="#4a4d25" shape-rendering="crispEdges"/>
<rect x="125.86" y="181.22" width="11.08" height="4.99" fill="#8e8f39" shape-rendering="crispEdges"/>
<rect x="136.44" y="181.22" width="11.08" height="4.99" fill="#747632" shape-rendering="crispEdges"/>
<rect x="147.02" y="181.22" width="11.08" height="4.99" fill="#e3e03a" shape-rendering="crispEdges"/>
<rect x="157.60" y="181.22" width="11.08" height="4.99" fill="#9fa03e" shape-rendering="crispEdges"/>
<rect x="168.18" y="181.22" width="11.08" height="4.99" fill="#9fa03e" shape-rendering="crispEdges"/>
<rect x="178.76" y="181.22" width="11.08" height="4.99" fill="#e3e03a" shape-rendering="crispEdges"/>
<rect x="189.34" y="181.22" width="11.08" height="4.99" fill="#e3e03a" shape-rendering="crispEdges"/>
<rect x="199.92" y="181.22" width="11.08" height="4.99" fill="#e3e03a" shape-rendering="crispEdges"/>
<rect x="210.50" y="181.22" width="11.08" height="4.99" fill="#12b8e8" shape-rendering="crispEdges"/>
<rect x="221.08" y="181.22" width="11.08" height="4.99" fill="#12b8e8" shape-rendering="crispEdges"/>
<rect x="231.66" y="181.22" width="11.08" height="4.99" fill="#0886a8" shape-rendering="crispEdges"/>
<rect x="242.24" y="181.22" width="11.08" height="4.99" fill="#16170b" shape-rendering="crispEdges"/>
<rect x="252.82" y="181.22" width="11.08" height="4.99" fill="#000000" shape-rendering="crispEdges"/>
<rect x="263.40" y="181.22" width="11.08" height="4.99" fill="#04404e" shape-rendering="crispEdges"/>
<rect x="273.98" y="181.22" width="11.08" height="4.99" fill="#067a98" shape-rendering="crispEdges"/>
<rect x="284.56" y="181.22" width="11.08" height="4.99" fill="#055d73" shape-rendering="crispEdges"/>
<rect x="295.14" y="181.22" width="11.08" height="4.99" fill="#0a8db0" shape-rendering="crispEdges"/>
<rect x="51.80" y="185.71" width="11.08" height="4.99" fill="#032d37" shape-rendering="crispEdges"/>
<rect x="62.38" y="185.71" width="11.08" height="4.99" fill="#022027" shape-rendering="crispEdges"/>
<rect x="72.96" y="185.71" width="11.08" height="4.99" fill="#010d10" shape-rendering="crispEdges"/>
<rect x="83.54" y="185.71" width="11.08" height="4.99" fill="#022027" shape-rendering="crispEdges"/>
<rect x="94.12" y="185.71" width="11.08" height="4.99" fill="#056982" shape-rendering="crispEdges"/>
<rect x="104.70" y="185.71" width="11.08" height="4.99" fill="#056982" shape-rendering="crispEdges"/>
<rect x="115.28" y="185.71" width="11.08" height="4.99" fill="#747632" shape-rendering="crispEdges"/>
<rect x="125.86" y="185.71" width="11.08" height="4.99" fill="#747632" shape-rendering="crispEdges"/>
<rect x="136.44" y="185.71" width="11.08" height="4.99" fill="#9fa03e" shape-rendering="crispEdges"/>
<rect x="147.02" y="185.71" width="11.08" height="4.99" fill="#34361a" shape-rendering="crispEdges"/>
<rect x="157.60" y="185.71" width="11.08" height="4.99" fill="#747632" shape-rendering="crispEdges"/>
<rect x="168.18" y="185.71" width="11.08" height="4.99" fill="#9fa03e" shape-rendering="crispEdges"/>
<rect x="178.76" y="185.71" width="11.08" height="4.99" fill="#252612" shape-rendering="crispEdges"/>
<rect x="189.34" y="185.71" width="11.08" height="4.99" fill="#252612" shape-rendering="crispEdges"/>
<rect x="199.92" y="185.71" width="11.08" height="4.99" fill="#0f0f07" shape-rendering="crispEdges"/>
<rect x="210.50" y="185.71" width="11.08" height="4.99" fill="#04404e" shape-rendering="crispEdges"/>
<rect x="221.08" y="185.71" width="11.08" height="4.99" fill="#03333e" shape-rendering="crispEdges"/>
<rect x="231.66" y="185.71" width="11.08" height="4.99" fill="#055d73" shape-rendering="crispEdges"/>
<rect x="242.24" y="185.71" width="11.08" height="4.99" fill="#021a1f" shape-rendering="crispEdges"/>
<rect x="252.82" y="185.71" width="11.08" height="4.99" fill="#044c5d" shape-rendering="crispEdges"/>
<rect x="263.40" y="185.71" width="11.08" height="4.99" fill="#04404e" shape-rendering="crispEdges"/>
<rect x="273.98" y="185.71" width="11.08" height="4.99" fill="#022027" shape-rendering="crispEdges"/>
<rect x="284.56" y="185.71" width="11.08" height="4.99" fill="#03333e" shape-rendering="crispEdges"/>
<rect x="295.14" y="185.71" width="11.08" height="4.99" fill="#021a1f" shape-rendering="crispEdges"/>
<rect x="51.80" y="190.20" width="11.08" height="4.99" fill="#044c5d" shape-rendering="crispEdges"/>
<rect x="62.38" y="190.20" width="11.08" height="4.99" fill="#032d37" shape-rendering="crispEdges"/>
<rect x="72.96" y="190.20" width="11.08" height="4.99" fill="#000608" shape-rendering="crispEdges"/>
<rect x="83.54" y="190.20" width="11.08" height="4.99" fill="#044c5d" shape-rendering="crispEdges"/>
<rect x="94.12" y="190.20" width="11.08" height="4.99" fill="#055d73" shape-rendering="crispEdges"/>
<rect x="104.70" y="190.20" width="11.08" height="4.99" fill="#055164" shape-rendering="crispEdges"/>
<rect x="115.28" y="190.20" width="11.08" height="4.99" fill="#252612" shape-rendering="crispEdges"/>
<rect x="125.86" y="190.20" width="11.08" height="4.99" fill="#747632" shape-rendering="crispEdges"/>
<rect x="136.44" y="190.20" width="11.08" height="4.99" fill="#64662c" shape-rendering="crispEdges"/>
<rect x="147.02" y="190.20" width="11.08" height="4.99" fill="#64662c" shape-rendering="crispEdges"/>
<rect x="157.60" y="190.20" width="11.08" height="4.99" fill="#adad3d" shape-rendering="crispEdges"/>
<rect x="168.18" y="190.20" width="11.08" height="4.99" fill="#9fa03e" shape-rendering="crispEdges"/>
<rect x="178.76" y="190.20" width="11.08" height="4.99" fill="#3b3e1e" shape-rendering="crispEdges"/>
<rect x="189.34" y="190.20" width="11.08" height="4.99" fill="#34361a" shape-rendering="crispEdges"/>
<rect x="199.92" y="190.20" width="11.08" height="4.99" fill="#2c2e16" shape-rendering="crispEdges"/>
<rect x="210.50" y="190.20" width="11.08" height="4.99" fill="#055d73" shape-rendering="crispEdges"/>
<rect x="221.08" y="190.20" width="11.08" height="4.99" fill="#055164" shape-rendering="crispEdges"/>
<rect x="231.66" y="190.20" width="11.08" height="4.99" fill="#056982" shape-rendering="crispEdges"/>
<rect x="242.24" y="190.20" width="11.08" height="4.99" fill="#03333e" shape-rendering="crispEdges"/>
<rect x="252.82" y="190.20" width="11.08" height="4.99" fill="#022027" shape-rendering="crispEdges"/>
<rect x="263.40" y="190.20" width="11.08" height="4.99" fill="#04404e" shape-rendering="crispEdges"/>
<rect x="273.98" y="190.20" width="11.08" height="4.99" fill="#022027" shape-rendering="crispEdges"/>
<rect x="284.56" y="190.20" width="11.08" height="4.99" fill="#010d10" shape-rendering="crispEdges"/>
<rect x="295.14" y="190.20" width="11.08" height="4.99" fill="#010d10" shape-rendering="crispEdges"/>
<rect x="51.80" y="194.68" width="11.08" height="4.99" fill="#044c5d" shape-rendering="crispEdges"/>
<rect x="62.38" y="194.68" width="11.08" height="4.99" fill="#02262f" shape-rendering="crispEdges"/>
<rect x="72.96" y="194.68" width="11.08" height="4.99" fill="#000608" shape-rendering="crispEdges"/>
<rect x="83.54" y="194.68" width="11.08" height="4.99" fill="#044c5d" shape-rendering="crispEdges"/>
<rect x="94.12" y="194.68" width="11.08" height="4.99" fill="#055d73" shape-rendering="crispEdges"/>
<rect x="104.70" y="194.68" width="11.08" height="4.99" fill="#05576c" shape-rendering="crispEdges"/>
<rect x="115.28" y="194.68" width="11.08" height="4.99" fill="#252612" shape-rendering="crispEdges"/>
<rect x="125.86" y="194.68" width="11.08" height="4.99" fill="#525528" shape-rendering="crispEdges"/>
<rect x="136.44" y="194.68" width="11.08" height="4.99" fill="#64662c" shape-rendering="crispEdges"/>
<rect x="147.02" y="194.68" width="11.08" height="4.99" fill="#64662c" shape-rendering="crispEdges"/>
<rect x="157.60" y="194.68" width="11.08" height="4.99" fill="#9fa03e" shape-rendering="crispEdges"/>
<rect x="168.18" y="194.68" width="11.08" height="4.99" fill="#9fa03e" shape-rendering="crispEdges"/>
<rect x="178.76" y="194.68" width="11.08" height="4.99" fill="#434521" shape-rendering="crispEdges"/>
<rect x="189.34" y="194.68" width="11.08" height="4.99" fill="#34361a" shape-rendering="crispEdges"/>
<rect x="199.92" y="194.68" width="11.08" height="4.99" fill="#2c2e16" shape-rendering="crispEdges"/>
<rect x="210.50" y="194.68" width="11.08" height="4.99" fill="#055d73" shape-rendering="crispEdges"/>
<rect x="221.08" y="194.68" width="11.08" height="4.99" fill="#055d73" shape-rendering="crispEdges"/>
<rect x="231.66" y="194.68" width="11.08" height="4.99" fill="#066e89" shape-rendering="crispEdges"/>
<rect x="242.24" y="194.68" width="11.08" height="4.99" fill="#043a46" shape-rendering="crispEdges"/>
<rect x="252.82" y="194.68" width="11.08" height="4.99" fill="#044c5d" shape-rendering="crispEdges"/>
<rect x="263.40" y="194.68" width="11.08" height="4.99" fill="#04404e" shape-rendering="crispEdges"/>
<rect x="273.98" y="194.68" width="11.08" height="4.99" fill="#022027" shape-rendering="crispEdges"/>
<rect x="284.56" y="194.68" width="11.08" height="4.99" fill="#010d10" shape-rendering="crispEdges"/>
<rect x="295.14" y="194.68" width="11.08" height="4.99" fill="#000000" shape-rendering="crispEdges"/>
<rect x="51.80" y="199.17" width="11.08" height="4.99" fill="#044655" shape-rendering="crispEdges"/>
<rect x="62.38" y="199.17" width="11.08" height="4.99" fill="#032d37" shape-rendering="crispEdges"/>
<rect x="72.96" y="199.17" width="11.08" height="4.99" fill="#044655" shape-rendering="crispEdges"/>
<rect x="83.54" y="199.17" width="11.08" height="4.99" fill="#04404e" shape-rendering="crispEdges"/>
<rect x="94.12" y="199.17" width="11.08" height="4.99" fill="#055164" shape-rendering="crispEdges"/>
<rect x="104.70" y="199.17" width="11.08" height="4.99" fill="#05576c" shape-rendering="crispEdges"/>
<rect x="115.28" y="199.17" width="11.08" height="4.99" fill="#5b5e2a" shape-rendering="crispEdges"/>
<rect x="125.86" y="199.17" width="11.08" height="4.99" fill="#4a4d25" shape-rendering="crispEdges"/>
<rect x="136.44" y="199.17" width="11.08" height="4.99" fill="#5b5e2a" shape-rendering="crispEdges"/>
<rect x="147.02" y="199.17" width="11.08" height="4.99" fill="#868736" shape-rendering="crispEdges"/>
<rect x="157.60" y="199.17" width="11.08" height="4.99" fill="#868736" shape-rendering="crispEdges"/>
<rect x="168.18" y="199.17" width="11.08" height="4.99" fill="#868736" shape-rendering="crispEdges"/>
<rect x="178.76" y="199.17" width="11.08" height="4.99" fill="#252612" shape-rendering="crispEdges"/>
<rect x="189.34" y="199.17" width="11.08" height="4.99" fill="#16170b" shape-rendering="crispEdges"/>
<rect x="199.92" y="199.17" width="11.08" height="4.99" fill="#16170b" shape-rendering="crispEdges"/>
<rect x="210.50" y="199.17" width="11.08" height="4.99" fill="#055d73" shape-rendering="crispEdges"/>
<rect x="221.08" y="199.17" width="11.08" height="4.99" fill="#056982" shape-rendering="crispEdges"/>
<rect x="231.66" y="199.17" width="11.08" height="4.99" fill="#067a98" shape-rendering="crispEdges"/>
<rect x="242.24" y="199.17" width="11.08" height="4.99" fill="#021a1f" shape-rendering="crispEdges"/>
<rect x="252.82" y="199.17" width="11.08" height="4.99" fill="#022027" shape-rendering="crispEdges"/>
<rect x="263.40" y="199.17" width="11.08" height="4.99" fill="#022027" shape-rendering="crispEdges"/>
<rect x="273.98" y="199.17" width="11.08" height="4.99" fill="#022027" shape-rendering="crispEdges"/>
<rect x="284.56" y="199.17" width="11.08" height="4.99" fill="#010d10" shape-rendering="crispEdges"/>
<rect x="295.14" y="199.17" width="11.08" height="4.99" fill="#011317" shape-rendering="crispEdges"/>
<rect x="51.80" y="203.66" width="11.08" height="4.99" fill="#021a1f" shape-rendering="crispEdges"/>
<rect x="62.38" y="203.66" width="11.08" height="4.99" fill="#044c5d" shape-rendering="crispEdges"/>
<rect x="72.96" y="203.66" width="11.08" height="4.99" fill="#04404e" shape-rendering="crispEdges"/>
<rect x="83.54" y="203.66" width="11.08" height="4.99" fill="#02262f" shape-rendering="crispEdges"/>
<rect x="94.12" y="203.66" width="11.08" height="4.99" fill="#044c5d" shape-rendering="crispEdges"/>
<rect x="104.70" y="203.66" width="11.08" height="4.99" fill="#032d37" shape-rendering="crispEdges"/>
<rect x="115.28" y="203.66" width="11.08" height="4.99" fill="#525528" shape-rendering="crispEdges"/>
<rect x="125.86" y="203.66" width="11.08" height="4.99" fill="#747632" shape-rendering="crispEdges"/>
<rect x="136.44" y="203.66" width="11.08" height="4.99" fill="#4a4d25" shape-rendering="crispEdges"/>
<rect x="147.02" y="203.66" width="11.08" height="4.99" fill="#868736" shape-rendering="crispEdges"/>
<rect x="157.60" y="203.66" width="11.08" height="4.99" fill="#7d7f34" shape-rendering="crispEdges"/>
<rect x="168.18" y="203.66" width="11.08" height="4.99" fill="#7d7f34" shape-rendering="crispEdges"/>
<rect x="178.76" y="203.66" width="11.08" height="4.99" fill="#16170b" shape-rendering="crispEdges"/>
<rect x="189.34" y="203.66" width="11.08" height="4.99" fill="#16170b" shape-rendering="crispEdges"/>
<rect x="199.92" y="203.66" width="11.08" height="4.99" fill="#0f0f07" shape-rendering="crispEdges"/>
<rect x="210.50" y="203.66" width="11.08" height="4.99" fill="#05637a" shape-rendering="crispEdges"/>
<rect x="221.08" y="203.66" width="11.08" height="4.99" fill="#05637a" shape-rendering="crispEdges"/>
<rect x="231.66" y="203.66" width="11.08" height="4.99" fill="#067a98" shape-rendering="crispEdges"/>
<rect x="242.24" y="203.66" width="11.08" height="4.99" fill="#000608" shape-rendering="crispEdges"/>
<rect x="252.82" y="203.66" width="11.08" height="4.99" fill="#022027" shape-rendering="crispEdges"/>
<rect x="263.40" y="203.66" width="11.08" height="4.99" fill="#022027" shape-rendering="crispEdges"/>
<rect x="273.98" y="203.66" width="11.08" height="4.99" fill="#02262f" shape-rendering="crispEdges"/>
<rect x="284.56" y="203.66" width="11.08" height="4.99" fill="#000000" shape-rendering="crispEdges"/>
<rect x="295.14" y="203.66" width="11.08" height="4.99" fill="#03333e" shape-rendering="crispEdges"/>
<rect x="51.80" y="208.14" width="11.08" height="4.99" fill="#02262f" shape-rendering="crispEdges"/>
<rect x="62.38" y="208.14" width="11.08" height="4.99" fill="#044c5d" shape-rendering="crispEdges"/>
<rect x="72.96" y="208.14" width="11.08" height="4.99" fill="#043a46" shape-rendering="crispEdges"/>
<rect x="83.54" y="208.14" width="11.08" height="4.99" fill="#044655" shape-rendering="crispEdges"/>
<rect x="94.12" y="208.14" width="11.08" height="4.99" fill="#04404e" shape-rendering="crispEdges"/>
<rect x="104.70" y="208.14" width="11.08" height="4.99" fill="#04404e" shape-rendering="crispEdges"/>
<rect x="115.28" y="208.14" width="11.08" height="4.99" fill="#4a4d25" shape-rendering="crispEdges"/>
<rect x="125.86" y="208.14" width="11.08" height="4.99" fill="#5b5e2a" shape-rendering="crispEdges"/>
<rect x="136.44" y="208.14" width="11.08" height="4.99" fill="#5b5e2a" shape-rendering="crispEdges"/>
<rect x="147.02" y="208.14" width="11.08" height="4.99" fill="#adad3d" shape-rendering="crispEdges"/>
<rect x="157.60" y="208.14" width="11.08" height="4.99" fill="#adad3d" shape-rendering="crispEdges"/>
<rect x="168.18" y="208.14" width="11.08" height="4.99" fill="#9fa03e" shape-rendering="crispEdges"/>
<rect x="178.76" y="208.14" width="11.08" height="4.99" fill="#252612" shape-rendering="crispEdges"/>
<rect x="189.34" y="208.14" width="11.08" height="4.99" fill="#16170b" shape-rendering="crispEdges"/>
<rect x="199.92" y="208.14" width="11.08" height="4.99" fill="#16170b" shape-rendering="crispEdges"/>
<rect x="210.50" y="208.14" width="11.08" height="4.99" fill="#05637a" shape-rendering="crispEdges"/>
<rect x="221.08" y="208.14" width="11.08" height="4.99" fill="#04404e" shape-rendering="crispEdges"/>
<rect x="231.66" y="208.14" width="11.08" height="4.99" fill="#05576c" shape-rendering="crispEdges"/>
<rect x="242.24" y="208.14" width="11.08" height="4.99" fill="#03333e" shape-rendering="crispEdges"/>
<rect x="252.82" y="208.14" width="11.08" height="4.99" fill="#043a46" shape-rendering="crispEdges"/>
<rect x="263.40" y="208.14" width="11.08" height="4.99" fill="#044655" shape-rendering="crispEdges"/>
<rect x="273.98" y="208.14" width="11.08" height="4.99" fill="#03333e" shape-rendering="crispEdges"/>
<rect x="284.56" y="208.14" width="11.08" height="4.99" fill="#022027" shape-rendering="crispEdges"/>
<rect x="295.14" y="208.14" width="11.08" height="4.99" fill="#03333e" shape-rendering="crispEdges"/>
<rect x="51.80" y="212.63" width="11.08" height="4.99" fill="#011317" shape-rendering="crispEdges"/>
<rect x="62.38" y="212.63" width="11.08" height="4.99" fill="#010d10" shape-rendering="crispEdges"/>
<rect x="72.96" y="212.63" width="11.08" height="4.99" fill="#010d10" shape-rendering="crispEdges"/>
<rect x="83.54" y="212.63" width="11.08" height="4.99" fill="#044655" shape-rendering="crispEdges"/>
<rect x="94.12" y="212.63" width="11.08" height="4.99" fill="#044655" shape-rendering="crispEdges"/>
<rect x="104.70" y="212.63" width="11.08" height="4.99" fill="#02262f" shape-rendering="crispEdges"/>
<rect x="115.28" y="212.63" width="11.08" height="4.99" fill="#4a4d25" shape-rendering="crispEdges"/>
<rect x="125.86" y="212.63" width="11.08" height="4.99" fill="#5b5e2a" shape-rendering="crispEdges"/>
<rect x="136.44" y="212.63" width="11.08" height="4.99" fill="#3b3e1e" shape-rendering="crispEdges"/>
<rect x="147.02" y="212.63" width="11.08" height="4.99" fill="#adad3d" shape-rendering="crispEdges"/>
<rect x="157.60" y="212.63" width="11.08" height="4.99" fill="#9fa03e" shape-rendering="crispEdges"/>
<rect x="168.18" y="212.63" width="11.08" height="4.99" fill="#747632" shape-rendering="crispEdges"/>
<rect x="178.76" y="212.63" width="11.08" height="4.99" fill="#2c2e16" shape-rendering="crispEdges"/>
<rect x="189.34" y="212.63" width="11.08" height="4.99" fill="#000000" shape-rendering="crispEdges"/>
<rect x="199.92" y="212.63" width="11.08" height="4.99" fill="#000000" shape-rendering="crispEdges"/>
<rect x="210.50" y="212.63" width="11.08" height="4.99" fill="#067a98" shape-rendering="crispEdges"/>
<rect x="221.08" y="212.63" width="11.08" height="4.99" fill="#044c5d" shape-rendering="crispEdges"/>
<rect x="231.66" y="212.63" width="11.08" height="4.99" fill="#05576c" shape-rendering="crispEdges"/>
<rect x="242.24" y="212.63" width="11.08" height="4.99" fill="#03333e" shape-rendering="crispEdges"/>
<rect x="252.82" y="212.63" width="11.08" height="4.99" fill="#04404e" shape-rendering="crispEdges"/>
<rect x="263.40" y="212.63" width="11.08" height="4.99" fill="#044655" shape-rendering="crispEdges"/>
<rect x="273.98" y="212.63" width="11.08" height="4.99" fill="#000000" shape-rendering="crispEdges"/>
<rect x="284.56" y="212.63" width="11.08" height="4.99" fill="#000000" shape-rendering="crispEdges"/>
<rect x="295.14" y="212.63" width="11.08" height="4.99" fill="#02262f" shape-rendering="crispEdges"/>
<rect x="51.80" y="217.12" width="11.08" height="4.99" fill="#011317" shape-rendering="crispEdges"/>
<rect x="62.38" y="217.12" width="11.08" height="4.99" fill="#010d10" shape-rendering="crispEdges"/>
<rect x="72.96" y="217.12" width="11.08" height="4.99" fill="#032d37" shape-rendering="crispEdges"/>
<rect x="83.54" y="217.12" width="11.08" height="4.99" fill="#044655" shape-rendering="crispEdges"/>
<rect x="94.12" y="217.12" width="11.08" height="4.99" fill="#044655" shape-rendering="crispEdges"/>
<rect x="104.70" y="217.12" width="11.08" height="4.99" fill="#04404e" shape-rendering="crispEdges"/>
<rect x="115.28" y="217.12" width="11.08" height="4.99" fill="#5b5e2a" shape-rendering="crispEdges"/>
<rect x="125.86" y="217.12" width="11.08" height="4.99" fill="#868736" shape-rendering="crispEdges"/>
<rect x="136.44" y="217.12" width="11.08" height="4.99" fill="#8e8f39" shape-rendering="crispEdges"/>
<rect x="147.02" y="217.12" width="11.08" height="4.99" fill="#e3e03a" shape-rendering="crispEdges"/>
<rect x="157.60" y="217.12" width="11.08" height="4.99" fill="#e3e03a" shape-rendering="crispEdges"/>
<rect x="168.18" y="217.12" width="11.08" height="4.99" fill="#e3e03a" shape-rendering="crispEdges"/>
<rect x="178.76" y="217.12" width="11.08" height="4.99" fill="#2c2e16" shape-rendering="crispEdges"/>
<rect x="189.34" y="217.12" width="11.08" height="4.99" fill="#3b3e1e" shape-rendering="crispEdges"/>
<rect x="199.92" y="217.12" width="11.08" height="4.99" fill="#0f0f07" shape-rendering="crispEdges"/>
<rect x="210.50" y="217.12" width="11.08" height="4.99" fill="#067a98" shape-rendering="crispEdges"/>
<rect x="221.08" y="217.12" width="11.08" height="4.99" fill="#0886a8" shape-rendering="crispEdges"/>
<rect x="231.66" y="217.12" width="11.08" height="4.99" fill="#0c99c0" shape-rendering="crispEdges"/>
<rect x="242.24" y="217.12" width="11.08" height="4.99" fill="#03333e" shape-rendering="crispEdges"/>
<rect x="252.82" y="217.12" width="11.08" height="4.99" fill="#03333e" shape-rendering="crispEdges"/>
<rect x="263.40" y="217.12" width="11.08" height="4.99" fill="#067a98" shape-rendering="crispEdges"/>
<rect x="273.98" y="217.12" width="11.08" height="4.99" fill="#055d73" shape-rendering="crispEdges"/>
<rect x="284.56" y="217.12" width="11.08" height="4.99" fill="#055d73" shape-rendering="crispEdges"/>
<rect x="295.14" y="217.12" width="11.08" height="4.99" fill="#055d73" shape-rendering="crispEdges"/>
<rect x="51.80" y="221.61" width="11.08" height="4.99" fill="#021a1f" shape-rendering="crispEdges"/>
<rect x="62.38" y="221.61" width="11.08" height="4.99" fill="#055164" shape-rendering="crispEdges"/>
<rect x="72.96" y="221.61" width="11.08" height="4.99" fill="#04404e" shape-rendering="crispEdges"/>
<rect x="83.54" y="221.61" width="11.08" height="4.99" fill="#011317" shape-rendering="crispEdges"/>
<rect x="94.12" y="221.61" width="11.08" height="4.99" fill="#011317" shape-rendering="crispEdges"/>
<rect x="104.70" y="221.61" width="11.08" height="4.99" fill="#055164" shape-rendering="crispEdges"/>
<rect x="115.28" y="221.61" width="11.08" height="4.99" fill="#9fa03e" shape-rendering="crispEdges"/>
<rect x="125.86" y="221.61" width="11.08" height="4.99" fill="#3b3e1e" shape-rendering="crispEdges"/>
<rect x="136.44" y="221.61" width="11.08" height="4.99" fill="#3b3e1e" shape-rendering="crispEdges"/>
<rect x="147.02" y="221.61" width="11.08" height="4.99" fill="#cfcd3b" shape-rendering="crispEdges"/>
<rect x="157.60" y="221.61" width="11.08" height="4.99" fill="#c1c03c" shape-rendering="crispEdges"/>
<rect x="168.18" y="221.61" width="11.08" height="4.99" fill="#e3e03a" shape-rendering="crispEdges"/>
<rect x="178.76" y="221.61" width="11.08" height="4.99" fill="#1e1f0f" shape-rendering="crispEdges"/>
<rect x="189.34" y="221.61" width="11.08" height="4.99" fill="#16170b" shape-rendering="crispEdges"/>
<rect x="199.92" y="221.61" width="11.08" height="4.99" fill="#0f0f07" shape-rendering="crispEdges"/>
<rect x="210.50" y="221.61" width="11.08" height="4.99" fill="#055d73" shape-rendering="crispEdges"/>
<rect x="221.08" y="221.61" width="11.08" height="4.99" fill="#067a98" shape-rendering="crispEdges"/>
<rect x="231.66" y="221.61" width="11.08" height="4.99" fill="#067a98" shape-rendering="crispEdges"/>
<rect x="242.24" y="221.61" width="11.08" height="4.99" fill="#044655" shape-rendering="crispEdges"/>
<rect x="252.82" y="221.61" width="11.08" height="4.99" fill="#055164" shape-rendering="crispEdges"/>
<rect x="263.40" y="221.61" width="11.08" height="4.99" fill="#03333e" shape-rendering="crispEdges"/>
<rect x="273.98" y="221.61" width="11.08" height="4.99" fill="#000000" shape-rendering="crispEdges"/>
<rect x="284.56" y="221.61" width="11.08" height="4.99" fill="#011317" shape-rendering="crispEdges"/>
<rect x="295.14" y="221.61" width="11.08" height="4.99" fill="#044c5d" shape-rendering="crispEdges"/>
<rect x="51.80" y="226.09" width="11.08" height="4.99" fill="#055d73" shape-rendering="crispEdges"/>
<rect x="62.38" y="226.09" width="11.08" height="4.99" fill="#043a46" shape-rendering="crispEdges"/>
<rect x="72.96" y="226.09" width="11.08" height="4.99" fill="#05576c" shape-rendering="crispEdges"/>
<rect x="83.54" y="226.09" width="11.08" height="4.99" fill="#03333e" shape-rendering="crispEdges"/>
<rect x="94.12" y="226.09" width="11.08" height="4.99" fill="#05637a" shape-rendering="crispEdges"/>
<rect x="104.70" y="226.09" width="11.08" height="4.99" fill="#055164" shape-rendering="crispEdges"/>
<rect x="115.28" y="226.09" width="11.08" height="4.99" fill="#5b5e2a" shape-rendering="crispEdges"/>
<rect x="125.86" y="226.09" width="11.08" height="4.99" fill="#4a4d25" shape-rendering="crispEdges"/>
<rect x="136.44" y="226.09" width="11.08" height="4.99" fill="#2c2e16" shape-rendering="crispEdges"/>
<rect x="147.02" y="226.09" width="11.08" height="4.99" fill="#e3e03a" shape-rendering="crispEdges"/>
<rect x="157.60" y="226.09" width="11.08" height="4.99" fill="#e3e03a" shape-rendering="crispEdges"/>
<rect x="168.18" y="226.09" width="11.08" height="4.99" fill="#e3e03a" shape-rendering="crispEdges"/>
<rect x="178.76" y="226.09" width="11.08" height="4.99" fill="#3b3e1e" shape-rendering="crispEdges"/>
<rect x="189.34" y="226.09" width="11.08" height="4.99" fill="#070804" shape-rendering="crispEdges"/>
<rect x="199.92" y="226.09" width="11.08" height="4.99" fill="#000000" shape-rendering="crispEdges"/>
<rect x="210.50" y="226.09" width="11.08" height="4.99" fill="#03333e" shape-rendering="crispEdges"/>
<rect x="221.08" y="226.09" width="11.08" height="4.99" fill="#055d73" shape-rendering="crispEdges"/>
<rect x="231.66" y="226.09" width="11.08" height="4.99" fill="#12b8e8" shape-rendering="crispEdges"/>
<rect x="242.24" y="226.09" width="11.08" height="4.99" fill="#044655" shape-rendering="crispEdges"/>
<rect x="252.82" y="226.09" width="11.08" height="4.99" fill="#021a1f" shape-rendering="crispEdges"/>
<rect x="263.40" y="226.09" width="11.08" height="4.99" fill="#04404e" shape-rendering="crispEdges"/>
<rect x="273.98" y="226.09" width="11.08" height="4.99" fill="#03333e" shape-rendering="crispEdges"/>
<rect x="284.56" y="226.09" width="11.08" height="4.99" fill="#055d73" shape-rendering="crispEdges"/>
<rect x="295.14" y="226.09" width="11.08" height="4.99" fill="#04404e" shape-rendering="crispEdges"/>
<rect x="51.80" y="230.58" width="11.08" height="4.99" fill="#056982" shape-rendering="crispEdges"/>
<rect x="62.38" y="230.58" width="11.08" height="4.99" fill="#055164" shape-rendering="crispEdges"/>
<rect x="72.96" y="230.58" width="11.08" height="4.99" fill="#055d73" shape-rendering="crispEdges"/>
<rect x="83.54" y="230.58" width="11.08" height="4.99" fill="#055164" shape-rendering="crispEdges"/>
<rect x="94.12" y="230.58" width="11.08" height="4.99" fill="#044c5d" shape-rendering="crispEdges"/>
<rect x="104.70" y="230.58" width="11.08" height="4.99" fill="#056982" shape-rendering="crispEdges"/>
<rect x="115.28" y="230.58" width="11.08" height="4.99" fill="#747632" shape-rendering="crispEdges"/>
<rect x="125.86" y="230.58" width="11.08" height="4.99" fill="#64662c" shape-rendering="crispEdges"/>
<rect x="136.44" y="230.58" width="11.08" height="4.99" fill="#747632" shape-rendering="crispEdges"/>
<rect x="147.02" y="230.58" width="11.08" height="4.99" fill="#e3e03a" shape-rendering="crispEdges"/>
<rect x="157.60" y="230.58" width="11.08" height="4.99" fill="#e3e03a" shape-rendering="crispEdges"/>
<rect x="168.18" y="230.58" width="11.08" height="4.99" fill="#e3e03a" shape-rendering="crispEdges"/>
<rect x="178.76" y="230.58" width="11.08" height="4.99" fill="#000000" shape-rendering="crispEdges"/>
<rect x="189.34" y="230.58" width="11.08" height="4.99" fill="#000000" shape-rendering="crispEdges"/>
<rect x="199.92" y="230.58" width="11.08" height="4.99" fill="#010d10" shape-rendering="crispEdges"/>
<rect x="210.50" y="230.58" width="11.08" height="4.99" fill="#055d73" shape-rendering="crispEdges"/>
<rect x="221.08" y="230.58" width="11.08" height="4.99" fill="#066e89" shape-rendering="crispEdges"/>
<rect x="231.66" y="230.58" width="11.08" height="4.99" fill="#055d73" shape-rendering="crispEdges"/>
<rect x="242.24" y="230.58" width="11.08" height="4.99" fill="#022027" shape-rendering="crispEdges"/>
<rect x="252.82" y="230.58" width="11.08" height="4.99" fill="#022027" shape-rendering="crispEdges"/>
<rect x="263.40" y="230.58" width="11.08" height="4.99" fill="#010d10" shape-rendering="crispEdges"/>
<rect x="273.98" y="230.58" width="11.08" height="4.99" fill="#022027" shape-rendering="crispEdges"/>
<rect x="284.56" y="230.58" width="11.08" height="4.99" fill="#011317" shape-rendering="crispEdges"/>
<rect x="295.14" y="230.58" width="11.08" height="4.99" fill="#04404e" shape-rendering="crispEdges"/>
<rect x="51.80" y="235.07" width="11.08" height="4.99" fill="#055164" shape-rendering="crispEdges"/>
<rect x="62.38" y="235.07" width="11.08" height="4.99" fill="#04404e" shape-rendering="crispEdges"/>
<rect x="72.96" y="235.07" width="11.08" height="4.99" fill="#032d37" shape-rendering="crispEdges"/>
<rect x="83.54" y="235.07" width="11.08" height="4.99" fill="#03333e" shape-rendering="crispEdges"/>
<rect x="94.12" y="235.07" width="11.08" height="4.99" fill="#067a98" shape-rendering="crispEdges"/>
<rect x="104.70" y="235.07" width="11.08" height="4.99" fill="#066e89" shape-rendering="crispEdges"/>
<rect x="115.28" y="235.07" width="11.08" height="4.99" fill="#8e8f39" shape-rendering="crispEdges"/>
<rect x="125.86" y="235.07" width="11.08" height="4.99" fill="#747632" shape-rendering="crispEdges"/>
<rect x="136.44" y="235.07" width="11.08" height="4.99" fill="#8e8f39" shape-rendering="crispEdges"/>
<rect x="147.02" y="235.07" width="11.08" height="4.99" fill="#e3e03a" shape-rendering="crispEdges"/>
<rect x="157.60" y="235.07" width="11.08" height="4.99" fill="#e3e03a" shape-rendering="crispEdges"/>
<rect x="168.18" y="235.07" width="11.08" height="4.99" fill="#e3e03a" shape-rendering="crispEdges"/>
<rect x="178.76" y="235.07" width="11.08" height="4.99" fill="#010d10" shape-rendering="crispEdges"/>
<rect x="189.34" y="235.07" width="11.08" height="4.99" fill="#022027" shape-rendering="crispEdges"/>
<rect x="199.92" y="235.07" width="11.08" height="4.99" fill="#022027" shape-rendering="crispEdges"/>
<rect x="210.50" y="235.07" width="11.08" height="4.99" fill="#056982" shape-rendering="crispEdges"/>
<rect x="221.08" y="235.07" width="11.08" height="4.99" fill="#056982" shape-rendering="crispEdges"/>
<rect x="231.66" y="235.07" width="11.08" height="4.99" fill="#056982" shape-rendering="crispEdges"/>
<rect x="242.24" y="235.07" width="11.08" height="4.99" fill="#044c5d" shape-rendering="crispEdges"/>
<rect x="252.82" y="235.07" width="11.08" height="4.99" fill="#055164" shape-rendering="crispEdges"/>
<rect x="263.40" y="235.07" width="11.08" height="4.99" fill="#055d73" shape-rendering="crispEdges"/>
<rect x="273.98" y="235.07" width="11.08" height="4.99" fill="#044c5d" shape-rendering="crispEdges"/>
<rect x="284.56" y="235.07" width="11.08" height="4.99" fill="#044c5d" shape-rendering="crispEdges"/>
<rect x="295.14" y="235.07" width="11.08" height="4.99" fill="#044c5d" shape-rendering="crispEdges"/>
<rect x="51.80" y="239.55" width="11.08" height="4.99" fill="#011317" shape-rendering="crispEdges"/>
<rect x="62.38" y="239.55" width="11.08" height="4.99" fill="#022027" shape-rendering="crispEdges"/>
<rect x="72.96" y="239.55" width="11.08" height="4.99" fill="#056982" shape-rendering="crispEdges"/>
<rect x="83.54" y="239.55" width="11.08" height="4.99" fill="#000000" shape-rendering="crispEdges"/>
<rect x="94.12" y="239.55" width="11.08" height="4.99" fill="#067a98" shape-rendering="crispEdges"/>
<rect x="104.70" y="239.55" width="11.08" height="4.99" fill="#044c5d" shape-rendering="crispEdges"/>
<rect x="115.28" y="239.55" width="11.08" height="4.99" fill="#4a4d25" shape-rendering="crispEdges"/>
<rect x="125.86" y="239.55" width="11.08" height="4.99" fill="#747632" shape-rendering="crispEdges"/>
<rect x="136.44" y="239.55" width="11.08" height="4.99" fill="#3b3e1e" shape-rendering="crispEdges"/>
<rect x="147.02" y="239.55" width="11.08" height="4.99" fill="#8e8f39" shape-rendering="crispEdges"/>
<rect x="157.60" y="239.55" width="11.08" height="4.99" fill="#c1c03c" shape-rendering="crispEdges"/>
<rect x="168.18" y="239.55" width="11.08" height="4.99" fill="#e3e03a" shape-rendering="crispEdges"/>
<rect x="178.76" y="239.55" width="11.08" height="4.99" fill="#1e1f0f" shape-rendering="crispEdges"/>
<rect x="189.34" y="239.55" width="11.08" height="4.99" fill="#3b3e1e" shape-rendering="crispEdges"/>
<rect x="199.92" y="239.55" width="11.08" height="4.99" fill="#4a4d25" shape-rendering="crispEdges"/>
<rect x="210.50" y="239.55" width="11.08" height="4.99" fill="#055164" shape-rendering="crispEdges"/>
<rect x="221.08" y="239.55" width="11.08" height="4.99" fill="#044c5d" shape-rendering="crispEdges"/>
<rect x="231.66" y="239.55" width="11.08" height="4.99" fill="#044c5d" shape-rendering="crispEdges"/>
<rect x="242.24" y="239.55" width="11.08" height="4.99" fill="#032d37" shape-rendering="crispEdges"/>
<rect x="252.82" y="239.55" width="11.08" height="4.99" fill="#03333e" shape-rendering="crispEdges"/>
<rect x="263.40" y="239.55" width="11.08" height="4.99" fill="#03333e" shape-rendering="crispEdges"/>
<rect x="273.98" y="239.55" width="11.08" height="4.99" fill="#0886a8" shape-rendering="crispEdges"/>
<rect x="284.56" y="239.55" width="11.08" height="4.99" fill="#056982" shape-rendering="crispEdges"/>
<rect x="295.14" y="239.55" width="11.08" height="4.99" fill="#055d73" shape-rendering="crispEdges"/>
<rect x="51.80" y="244.04" width="11.08" height="4.99" fill="#03333e" shape-rendering="crispEdges"/>
<rect x="62.38" y="244.04" width="11.08" height="4.99" fill="#000000" shape-rendering="crispEdges"/>
<rect x="72.96" y="244.04" width="11.08" height="4.99" fill="#000000" shape-rendering="crispEdges"/>
<rect x="83.54" y="244.04" width="11.08" height="4.99" fill="#055164" shape-rendering="crispEdges"/>
<rect x="94.12" y="244.04" width="11.08" height="4.99" fill="#044c5d" shape-rendering="crispEdges"/>
<rect x="104.70" y="244.04" width="11.08" height="4.99" fill="#044c5d" shape-rendering="crispEdges"/>
<rect x="115.28" y="244.04" width="11.08" height="4.99" fill="#5b5e2a" shape-rendering="crispEdges"/>
<rect x="125.86" y="244.04" width="11.08" height="4.99" fill="#3b3e1e" shape-rendering="crispEdges"/>
<rect x="136.44" y="244.04" width="11.08" height="4.99" fill="#5b5e2a" shape-rendering="crispEdges"/>
<rect x="147.02" y="244.04" width="11.08" height="4.99" fill="#8e8f39" shape-rendering="crispEdges"/>
<rect x="157.60" y="244.04" width="11.08" height="4.99" fill="#8e8f39" shape-rendering="crispEdges"/>
<rect x="168.18" y="244.04" width="11.08" height="4.99" fill="#9fa03e" shape-rendering="crispEdges"/>
<rect x="178.76" y="244.04" width="11.08" height="4.99" fill="#2c2e16" shape-rendering="crispEdges"/>
<rect x="189.34" y="244.04" width="11.08" height="4.99" fill="#0f0f07" shape-rendering="crispEdges"/>
<rect x="199.92" y="244.04" width="11.08" height="4.99" fill="#000000" shape-rendering="crispEdges"/>
<rect x="210.50" y="244.04" width="11.08" height="4.99" fill="#011317" shape-rendering="crispEdges"/>
<rect x="221.08" y="244.04" width="11.08" height="4.99" fill="#021a1f" shape-rendering="crispEdges"/>
<rect x="231.66" y="244.04" width="11.08" height="4.99" fill="#022027" shape-rendering="crispEdges"/>
<rect x="242.24" y="244.04" width="11.08" height="4.99" fill="#044c5d" shape-rendering="crispEdges"/>
<rect x="252.82" y="244.04" width="11.08" height="4.99" fill="#010d10" shape-rendering="crispEdges"/>
<rect x="263.40" y="244.04" width="11.08" height="4.99" fill="#022027" shape-rendering="crispEdges"/>
<rect x="273.98" y="244.04" width="11.08" height="4.99" fill="#055d73" shape-rendering="crispEdges"/>
<rect x="284.56" y="244.04" width="11.08" height="4.99" fill="#03333e" shape-rendering="crispEdges"/>
<rect x="295.14" y="244.04" width="11.08" height="4.99" fill="#066e89" shape-rendering="crispEdges"/>
<rect x="51.80" y="248.53" width="11.08" height="4.99" fill="#05576c" shape-rendering="crispEdges"/>
<rect x="62.38" y="248.53" width="11.08" height="4.99" fill="#032d37" shape-rendering="crispEdges"/>
<rect x="72.96" y="248.53" width="11.08" height="4.99" fill="#04404e" shape-rendering="crispEdges"/>
<rect x="83.54" y="248.53" width="11.08" height="4.99" fill="#044c5d" shape-rendering="crispEdges"/>
<rect x="94.12" y="248.53" width="11.08" height="4.99" fill="#011317" shape-rendering="crispEdges"/>
<rect x="104.70" y="248.53" width="11.08" height="4.99" fill="#04404e" shape-rendering="crispEdges"/>
<rect x="115.28" y="248.53" width="11.08" height="4.99" fill="#5b5e2a" shape-rendering="crispEdges"/>
<rect x="125.86" y="248.53" width="11.08" height="4.99" fill="#3b3e1e" shape-rendering="crispEdges"/>
<rect x="136.44" y="248.53" width="11.08" height="4.99" fill="#5b5e2a" shape-rendering="crispEdges"/>
<rect x="147.02" y="248.53" width="11.08" height="4.99" fill="#b3b33d" shape-rendering="crispEdges"/>
<rect x="157.60" y="248.53" width="11.08" height="4.99" fill="#b3b33d" shape-rendering="crispEdges"/>
<rect x="168.18" y="248.53" width="11.08" height="4.99" fill="#b3b33d" shape-rendering="crispEdges"/>
<rect x="178.76" y="248.53" width="11.08" height="4.99" fill="#252612" shape-rendering="crispEdges"/>
<rect x="189.34" y="248.53" width="11.08" height="4.99" fill="#16170b" shape-rendering="crispEdges"/>
<rect x="199.92" y="248.53" width="11.08" height="4.99" fill="#1e1f0f" shape-rendering="crispEdges"/>
<rect x="210.50" y="248.53" width="11.08" height="4.99" fill="#032d37" shape-rendering="crispEdges"/>
<rect x="221.08" y="248.53" width="11.08" height="4.99" fill="#055d73" shape-rendering="crispEdges"/>
<rect x="231.66" y="248.53" width="11.08" height="4.99" fill="#044c5d" shape-rendering="crispEdges"/>
<rect x="242.24" y="248.53" width="11.08" height="4.99" fill="#044c5d" shape-rendering="crispEdges"/>
<rect x="252.82" y="248.53" width="11.08" height="4.99" fill="#03333e" shape-rendering="crispEdges"/>
<rect x="263.40" y="248.53" width="11.08" height="4.99" fill="#04404e" shape-rendering="crispEdges"/>
<rect x="273.98" y="248.53" width="11.08" height="4.99" fill="#04404e" shape-rendering="crispEdges"/>
<rect x="284.56" y="248.53" width="11.08" height="4.99" fill="#0a8db0" shape-rendering="crispEdges"/>
<rect x="295.14" y="248.53" width="11.08" height="4.99" fill="#04404e" shape-rendering="crispEdges"/>
<rect x="51.80" y="253.01" width="11.08" height="4.99" fill="#011317" shape-rendering="crispEdges"/>
<rect x="62.38" y="253.01" width="11.08" height="4.99" fill="#03333e" shape-rendering="crispEdges"/>
<rect x="72.96" y="253.01" width="11.08" height="4.99" fill="#010d10" shape-rendering="crispEdges"/>
<rect x="83.54" y="253.01" width="11.08" height="4.99" fill="#044c5d" shape-rendering="crispEdges"/>
<rect x="94.12" y="253.01" width="11.08" height="4.99" fill="#03333e" shape-rendering="crispEdges"/>
<rect x="104.70" y="253.01" width="11.08" height="4.99" fill="#02262f" shape-rendering="crispEdges"/>
<rect x="115.28" y="253.01" width="11.08" height="4.99" fill="#5b5e2a" shape-rendering="crispEdges"/>
<rect x="125.86" y="253.01" width="11.08" height="4.99" fill="#3b3e1e" shape-rendering="crispEdges"/>
<rect x="136.44" y="253.01" width="11.08" height="4.99" fill="#4a4d25" shape-rendering="crispEdges"/>
<rect x="147.02" y="253.01" width="11.08" height="4.99" fill="#747632" shape-rendering="crispEdges"/>
<rect x="157.60" y="253.01" width="11.08" height="4.99" fill="#747632" shape-rendering="crispEdges"/>
<rect x="168.18" y="253.01" width="11.08" height="4.99" fill="#747632" shape-rendering="crispEdges"/>
<rect x="178.76" y="253.01" width="11.08" height="4.99" fill="#0f0f07" shape-rendering="crispEdges"/>
<rect x="189.34" y="253.01" width="11.08" height="4.99" fill="#000000" shape-rendering="crispEdges"/>
<rect x="199.92" y="253.01" width="11.08" height="4.99" fill="#0f0f07" shape-rendering="crispEdges"/>
<rect x="210.50" y="253.01" width="11.08" height="4.99" fill="#03333e" shape-rendering="crispEdges"/>
<rect x="221.08" y="253.01" width="11.08" height="4.99" fill="#04404e" shape-rendering="crispEdges"/>
<rect x="231.66" y="253.01" width="11.08" height="4.99" fill="#04404e" shape-rendering="crispEdges"/>
<rect x="242.24" y="253.01" width="11.08" height="4.99" fill="#022027" shape-rendering="crispEdges"/>
<rect x="252.82" y="253.01" width="11.08" height="4.99" fill="#02262f" shape-rendering="crispEdges"/>
<rect x="263.40" y="253.01" width="11.08" height="4.99" fill="#04404e" shape-rendering="crispEdges"/>
<rect x="273.98" y="253.01" width="11.08" height="4.99" fill="#04404e" shape-rendering="crispEdges"/>
<rect x="284.56" y="253.01" width="11.08" height="4.99" fill="#04404e" shape-rendering="crispEdges"/>
<rect x="295.14" y="253.01" width="11.08" height="4.99" fill="#04404e" shape-rendering="crispEdges"/>
<rect x="51.80" y="257.50" width="11.08" height="4.99" fill="#04404e" shape-rendering="crispEdges"/>
<rect x="62.38" y="257.50" width="11.08" height="4.99" fill="#04404e" shape-rendering="crispEdges"/>
<rect x="72.96" y="257.50" width="11.08" height="4.99" fill="#022027" shape-rendering="crispEdges"/>
<rect x="83.54" y="257.50" width="11.08" height="4.99" fill="#02262f" shape-rendering="crispEdges"/>
<rect x="94.12" y="257.50" width="11.08" height="4.99" fill="#03333e" shape-rendering="crispEdges"/>
<rect x="104.70" y="257.50" width="11.08" height="4.99" fill="#032d37" shape-rendering="crispEdges"/>
<rect x="115.28" y="257.50" width="11.08" height="4.99" fill="#5b5e2a" shape-rendering="crispEdges"/>
<rect x="125.86" y="257.50" width="11.08" height="4.99" fill="#5b5e2a" shape-rendering="crispEdges"/>
<rect x="136.44" y="257.50" width="11.08" height="4.99" fill="#5b5e2a" shape-rendering="crispEdges"/>
<rect x="147.02" y="257.50" width="11.08" height="4.99" fill="#adad3d" shape-rendering="crispEdges"/>
<rect x="157.60" y="257.50" width="11.08" height="4.99" fill="#b3b33d" shape-rendering="crispEdges"/>
<rect x="168.18" y="257.50" width="11.08" height="4.99" fill="#b3b33d" shape-rendering="crispEdges"/>
<rect x="178.76" y="257.50" width="11.08" height="4.99" fill="#16170b" shape-rendering="crispEdges"/>
<rect x="189.34" y="257.50" width="11.08" height="4.99" fill="#1e1f0f" shape-rendering="crispEdges"/>
<rect x="199.92" y="257.50" width="11.08" height="4.99" fill="#16170b" shape-rendering="crispEdges"/>
<rect x="210.50" y="257.50" width="11.08" height="4.99" fill="#04404e" shape-rendering="crispEdges"/>
<rect x="221.08" y="257.50" width="11.08" height="4.99" fill="#04404e" shape-rendering="crispEdges"/>
<rect x="231.66" y="257.50" width="11.08" height="4.99" fill="#03333e" shape-rendering="crispEdges"/>
<rect x="242.24" y="257.50" width="11.08" height="4.99" fill="#03333e" shape-rendering="crispEdges"/>
<rect x="252.82" y="257.50" width="11.08" height="4.99" fill="#03333e" shape-rendering="crispEdges"/>
<rect x="263.40" y="257.50" width="11.08" height="4.99" fill="#04404e" shape-rendering="crispEdges"/>
<rect x="273.98" y="257.50" width="11.08" height="4.99" fill="#055d73" shape-rendering="crispEdges"/>
<rect x="284.56" y="257.50" width="11.08" height="4.99" fill="#044c5d" shape-rendering="crispEdges"/>
<rect x="295.14" y="257.50" width="11.08" height="4.99" fill="#055d73" shape-rendering="crispEdges"/>
<rect x="51.80" y="261.99" width="11.08" height="4.99" fill="#000000" shape-rendering="crispEdges"/>
<rect x="62.38" y="261.99" width="11.08" height="4.99" fill="#000000" shape-rendering="crispEdges"/>
<rect x="72.96" y="261.99" width="11.08" height="4.99" fill="#022027" shape-rendering="crispEdges"/>
<rect x="83.54" y="261.99" width="11.08" height="4.99" fill="#010d10" shape-rendering="crispEdges"/>
<rect x="94.12" y="261.99" width="11.08" height="4.99" fill="#000000" shape-rendering="crispEdges"/>
<rect x="104.70" y="261.99" width="11.08" height="4.99" fill="#000000" shape-rendering="crispEdges"/>
<rect x="115.28" y="261.99" width="11.08" height="4.99" fill="#000000" shape-rendering="crispEdges"/>
<rect x="125.86" y="261.99" width="11.08" height="4.99" fill="#34361a" shape-rendering="crispEdges"/>
<rect x="136.44" y="261.99" width="11.08" height="4.99" fill="#16170b" shape-rendering="crispEdges"/>
<rect x="147.02" y="261.99" width="11.08" height="4.99" fill="#3b3e1e" shape-rendering="crispEdges"/>
<rect x="157.60" y="261.99" width="11.08" height="4.99" fill="#3b3e1e" shape-rendering="crispEdges"/>
<rect x="168.18" y="261.99" width="11.08" height="4.99" fill="#3b3e1e" shape-rendering="crispEdges"/>
<rect x="178.76" y="261.99" width="11.08" height="4.99" fill="#2c2e16" shape-rendering="crispEdges"/>
<rect x="189.34" y="261.99" width="11.08" height="4.99" fill="#2c2e16" shape-rendering="crispEdges"/>
<rect x="199.92" y="261.99" width="11.08" height="4.99" fill="#000000" shape-rendering="crispEdges"/>
<rect x="210.50" y="261.99" width="11.08" height="4.99" fill="#044c5d" shape-rendering="crispEdges"/>
<rect x="221.08" y="261.99" width="11.08" height="4.99" fill="#044c5d" shape-rendering="crispEdges"/>
<rect x="231.66" y="261.99" width="11.08" height="4.99" fill="#044c5d" shape-rendering="crispEdges"/>
<rect x="242.24" y="261.99" width="11.08" height="4.99" fill="#022027" shape-rendering="crispEdges"/>
<rect x="252.82" y="261.99" width="11.08" height="4.99" fill="#010d10" shape-rendering="crispEdges"/>
<rect x="263.40" y="261.99" width="11.08" height="4.99" fill="#04404e" shape-rendering="crispEdges"/>
<rect x="273.98" y="261.99" width="11.08" height="4.99" fill="#022027" shape-rendering="crispEdges"/>
<rect x="284.56" y="261.99" width="11.08" height="4.99" fill="#022027" shape-rendering="crispEdges"/>
<rect x="295.14" y="261.99" width="11.08" height="4.99" fill="#022027" shape-rendering="crispEdges"/>
<rect x="51.80" y="266.48" width="11.08" height="4.99" fill="#067a98" shape-rendering="crispEdges"/>
<rect x="62.38" y="266.48" width="11.08" height="4.99" fill="#056982" shape-rendering="crispEdges"/>
<rect x="72.96" y="266.48" width="11.08" height="4.99" fill="#0a8db0" shape-rendering="crispEdges"/>
<rect x="83.54" y="266.48" width="11.08" height="4.99" fill="#055164" shape-rendering="crispEdges"/>
<rect x="94.12" y="266.48" width="11.08" height="4.99" fill="#04404e" shape-rendering="crispEdges"/>
<rect x="104.70" y="266.48" width="11.08" height="4.99" fill="#04404e" shape-rendering="crispEdges"/>
<rect x="115.28" y="266.48" width="11.08" height="4.99" fill="#252612" shape-rendering="crispEdges"/>
<rect x="125.86" y="266.48" width="11.08" height="4.99" fill="#1e1f0f" shape-rendering="crispEdges"/>
<rect x="136.44" y="266.48" width="11.08" height="4.99" fill="#16170b" shape-rendering="crispEdges"/>
<rect x="147.02" y="266.48" width="11.08" height="4.99" fill="#8e8f39" shape-rendering="crispEdges"/>
<rect x="157.60" y="266.48" width="11.08" height="4.99" fill="#b3b33d" shape-rendering="crispEdges"/>
<rect x="168.18" y="266.48" width="11.08" height="4.99" fill="#9fa03e" shape-rendering="crispEdges"/>
<rect x="178.76" y="266.48" width="11.08" height="4.99" fill="#d5d33b" shape-rendering="crispEdges"/>
<rect x="189.34" y="266.48" width="11.08" height="4.99" fill="#d5d33b" shape-rendering="crispEdges"/>
<rect x="199.92" y="266.48" width="11.08" height="4.99" fill="#e3e03a" shape-rendering="crispEdges"/>
<rect x="210.50" y="266.48" width="11.08" height="4.99" fill="#032d37" shape-rendering="crispEdges"/>
<rect x="221.08" y="266.48" width="11.08" height="4.99" fill="#04404e" shape-rendering="crispEdges"/>
<rect x="231.66" y="266.48" width="11.08" height="4.99" fill="#04404e" shape-rendering="crispEdges"/>
<rect x="242.24" y="266.48" width="11.08" height="4.99" fill="#056982" shape-rendering="crispEdges"/>
<rect x="252.82" y="266.48" width="11.08" height="4.99" fill="#056982" shape-rendering="crispEdges"/>
<rect x="263.40" y="266.48" width="11.08" height="4.99" fill="#067a98" shape-rendering="crispEdges"/>
<rect x="273.98" y="266.48" width="11.08" height="4.99" fill="#022027" shape-rendering="crispEdges"/>
<rect x="284.56" y="266.48" width="11.08" height="4.99" fill="#010d10" shape-rendering="crispEdges"/>
<rect x="295.14" y="266.48" width="11.08" height="4.99" fill="#022027" shape-rendering="crispEdges"/>
<rect x="51.80" y="270.96" width="11.08" height="4.99" fill="#067a98" shape-rendering="crispEdges"/>
<rect x="62.38" y="270.96" width="11.08" height="4.99" fill="#067a98" shape-rendering="crispEdges"/>
<rect x="72.96" y="270.96" width="11.08" height="4.99" fill="#12b8e8" shape-rendering="crispEdges"/>
<rect x="83.54" y="270.96" width="11.08" height="4.99" fill="#055d73" shape-rendering="crispEdges"/>
<rect x="94.12" y="270.96" width="11.08" height="4.99" fill="#04404e" shape-rendering="crispEdges"/>
<rect x="104.70" y="270.96" width="11.08" height="4.99" fill="#03333e" shape-rendering="crispEdges"/>
<rect x="115.28" y="270.96" width="11.08" height="4.99" fill="#3b3e1e" shape-rendering="crispEdges"/>
<rect x="125.86" y="270.96" width="11.08" height="4.99" fill="#070804" shape-rendering="crispEdges"/>
<rect x="136.44" y="270.96" width="11.08" height="4.99" fill="#252612" shape-rendering="crispEdges"/>
<rect x="147.02" y="270.96" width="11.08" height="4.99" fill="#8e8f39" shape-rendering="crispEdges"/>
<rect x="157.60" y="270.96" width="11.08" height="4.99" fill="#8e8f39" shape-rendering="crispEdges"/>
<rect x="168.18" y="270.96" width="11.08" height="4.99" fill="#cfcd3b" shape-rendering="crispEdges"/>
<rect x="178.76" y="270.96" width="11.08" height="4.99" fill="#d5d33b" shape-rendering="crispEdges"/>
<rect x="189.34" y="270.96" width="11.08" height="4.99" fill="#d5d33b" shape-rendering="crispEdges"/>
<rect x="199.92" y="270.96" width="11.08" height="4.99" fill="#e3e03a" shape-rendering="crispEdges"/>
<rect x="210.50" y="270.96" width="11.08" height="4.99" fill="#000000" shape-rendering="crispEdges"/>
<rect x="221.08" y="270.96" width="11.08" height="4.99" fill="#055d73" shape-rendering="crispEdges"/>
<rect x="231.66" y="270.96" width="11.08" height="4.99" fill="#055164" shape-rendering="crispEdges"/>
<rect x="242.24" y="270.96" width="11.08" height="4.99" fill="#056982" shape-rendering="crispEdges"/>
<rect x="252.82" y="270.96" width="11.08" height="4.99" fill="#056982" shape-rendering="crispEdges"/>
<rect x="263.40" y="270.96" width="11.08" height="4.99" fill="#055d73" shape-rendering="crispEdges"/>
<rect x="273.98" y="270.96" width="11.08" height="4.99" fill="#02262f" shape-rendering="crispEdges"/>
<rect x="284.56" y="270.96" width="11.08" height="4.99" fill="#022027" shape-rendering="crispEdges"/>
<rect x="295.14" y="270.96" width="11.08" height="4.99" fill="#0f0f07" shape-rendering="crispEdges"/>
<rect x="51.80" y="275.45" width="11.08" height="4.99" fill="#9fa03e" shape-rendering="crispEdges"/>
<rect x="62.38" y="275.45" width="11.08" height="4.99" fill="#9fa03e" shape-rendering="crispEdges"/>
<rect x="72.96" y="275.45" width="11.08" height="4.99" fill="#9fa03e" shape-rendering="crispEdges"/>
<rect x="83.54" y="275.45" width="11.08" height="4.99" fill="#e3e03a" shape-rendering="crispEdges"/>
<rect x="94.12" y="275.45" width="11.08" height="4.99" fill="#9fa03e" shape-rendering="crispEdges"/>
<rect x="104.70" y="275.45" width="11.08" height="4.99" fill="#747632" shape-rendering="crispEdges"/>
<rect x="115.28" y="275.45" width="11.08" height="4.99" fill="#16170b" shape-rendering="crispEdges"/>
<rect x="125.86" y="275.45" width="11.08" height="4.99" fill="#066e89" shape-rendering="crispEdges"/>
<rect x="136.44" y="275.45" width="11.08" height="4.99" fill="#022027" shape-rendering="crispEdges"/>
<rect x="147.02" y="275.45" width="11.08" height="4.99" fill="#e3e03a" shape-rendering="crispEdges"/>
<rect x="157.60" y="275.45" width="11.08" height="4.99" fill="#e3e03a" shape-rendering="crispEdges"/>
<rect x="168.18" y="275.45" width="11.08" height="4.99" fill="#9fa03e" shape-rendering="crispEdges"/>
<rect x="178.76" y="275.45" width="11.08" height="4.99" fill="#747632" shape-rendering="crispEdges"/>
<rect x="189.34" y="275.45" width="11.08" height="4.99" fill="#4a4d25" shape-rendering="crispEdges"/>
<rect x="199.92" y="275.45" width="11.08" height="4.99" fill="#adad3d" shape-rendering="crispEdges"/>
<rect x="210.50" y="275.45" width="11.08" height="4.99" fill="#0886a8" shape-rendering="crispEdges"/>
<rect x="221.08" y="275.45" width="11.08" height="4.99" fill="#12b8e8" shape-rendering="crispEdges"/>
<rect x="231.66" y="275.45" width="11.08" height="4.99" fill="#0c99c0" shape-rendering="crispEdges"/>
<rect x="242.24" y="275.45" width="11.08" height="4.99" fill="#12b8e8" shape-rendering="crispEdges"/>
<rect x="252.82" y="275.45" width="11.08" height="4.99" fill="#12b8e8" shape-rendering="crispEdges"/>
<rect x="263.40" y="275.45" width="11.08" height="4.99" fill="#055d73" shape-rendering="crispEdges"/>
<rect x="273.98" y="275.45" width="11.08" height="4.99" fill="#12b8e8" shape-rendering="crispEdges"/>
<rect x="284.56" y="275.45" width="11.08" height="4.99" fill="#066e89" shape-rendering="crispEdges"/>
<rect x="295.14" y="275.45" width="11.08" height="4.99" fill="#12b8e8" shape-rendering="crispEdges"/>
<rect x="51.80" y="279.94" width="11.08" height="4.99" fill="#04404e" shape-rendering="crispEdges"/>
<rect x="62.38" y="279.94" width="11.08" height="4.99" fill="#000000" shape-rendering="crispEdges"/>
<rect x="72.96" y="279.94" width="11.08" height="4.99" fill="#03333e" shape-rendering="crispEdges"/>
<rect x="83.54" y="279.94" width="11.08" height="4.99" fill="#e3e03a" shape-rendering="crispEdges"/>
<rect x="94.12" y="279.94" width="11.08" height="4.99" fill="#747632" shape-rendering="crispEdges"/>
<rect x="104.70" y="279.94" width="11.08" height="4.99" fill="#b3b33d" shape-rendering="crispEdges"/>
<rect x="115.28" y="279.94" width="11.08" height="4.99" fill="#5b5e2a" shape-rendering="crispEdges"/>
<rect x="125.86" y="279.94" width="11.08" height="4.99" fill="#e3e03a" shape-rendering="crispEdges"/>
<rect x="136.44" y="279.94" width="11.08" height="4.99" fill="#747632" shape-rendering="crispEdges"/>
<rect x="147.02" y="279.94" width="11.08" height="4.99" fill="#e3e03a" shape-rendering="crispEdges"/>
<rect x="157.60" y="279.94" width="11.08" height="4.99" fill="#747632" shape-rendering="crispEdges"/>
<rect x="168.18" y="279.94" width="11.08" height="4.99" fill="#252612" shape-rendering="crispEdges"/>
<rect x="178.76" y="279.94" width="11.08" height="4.99" fill="#e3e03a" shape-rendering="crispEdges"/>
<rect x="189.34" y="279.94" width="11.08" height="4.99" fill="#8e8f39" shape-rendering="crispEdges"/>
<rect x="199.92" y="279.94" width="11.08" height="4.99" fill="#04404e" shape-rendering="crispEdges"/>
<rect x="210.50" y="279.94" width="11.08" height="4.99" fill="#0886a8" shape-rendering="crispEdges"/>
<rect x="221.08" y="279.94" width="11.08" height="4.99" fill="#0ea5d0" shape-rendering="crispEdges"/>
<rect x="231.66" y="279.94" width="11.08" height="4.99" fill="#12b8e8" shape-rendering="crispEdges"/>
<rect x="242.24" y="279.94" width="11.08" height="4.99" fill="#12b8e8" shape-rendering="crispEdges"/>
<rect x="252.82" y="279.94" width="11.08" height="4.99" fill="#12b8e8" shape-rendering="crispEdges"/>
<rect x="263.40" y="279.94" width="11.08" height="4.99" fill="#12b8e8" shape-rendering="crispEdges"/>
<rect x="273.98" y="279.94" width="11.08" height="4.99" fill="#12b8e8" shape-rendering="crispEdges"/>
<rect x="284.56" y="279.94" width="11.08" height="4.99" fill="#0a8db0" shape-rendering="crispEdges"/>
<rect x="295.14" y="279.94" width="11.08" height="4.99" fill="#0c99c0" shape-rendering="crispEdges"/>
<rect x="51.80" y="284.42" width="11.08" height="4.99" fill="#4a4d25" shape-rendering="crispEdges"/>
<rect x="62.38" y="284.42" width="11.08" height="4.99" fill="#03333e" shape-rendering="crispEdges"/>
<rect x="72.96" y="284.42" width="11.08" height="4.99" fill="#9fa03e" shape-rendering="crispEdges"/>
<rect x="83.54" y="284.42" width="11.08" height="4.99" fill="#066e89" shape-rendering="crispEdges"/>
<rect x="94.12" y="284.42" width="11.08" height="4.99" fill="#252612" shape-rendering="crispEdges"/>
<rect x="104.70" y="284.42" width="11.08" height="4.99" fill="#055164" shape-rendering="crispEdges"/>
<rect x="115.28" y="284.42" width="11.08" height="4.99" fill="#e3e03a" shape-rendering="crispEdges"/>
<rect x="125.86" y="284.42" width="11.08" height="4.99" fill="#e3e03a" shape-rendering="crispEdges"/>
<rect x="136.44" y="284.42" width="11.08" height="4.99" fill="#e3e03a" shape-rendering="crispEdges"/>
<rect x="147.02" y="284.42" width="11.08" height="4.99" fill="#5b5e2a" shape-rendering="crispEdges"/>
<rect x="157.60" y="284.42" width="11.08" height="4.99" fill="#5b5e2a" shape-rendering="crispEdges"/>
<rect x="168.18" y="284.42" width="11.08" height="4.99" fill="#64662c" shape-rendering="crispEdges"/>
<rect x="178.76" y="284.42" width="11.08" height="4.99" fill="#e3e03a" shape-rendering="crispEdges"/>
<rect x="189.34" y="284.42" width="11.08" height="4.99" fill="#e3e03a" shape-rendering="crispEdges"/>
<rect x="199.92" y="284.42" width="11.08" height="4.99" fill="#e3e03a" shape-rendering="crispEdges"/>
<rect x="210.50" y="284.42" width="11.08" height="4.99" fill="#10acd8" shape-rendering="crispEdges"/>
<rect x="221.08" y="284.42" width="11.08" height="4.99" fill="#12b8e8" shape-rendering="crispEdges"/>
<rect x="231.66" y="284.42" width="11.08" height="4.99" fill="#12b8e8" shape-rendering="crispEdges"/>
<rect x="242.24" y="284.42" width="11.08" height="4.99" fill="#12b8e8" shape-rendering="crispEdges"/>
<rect x="252.82" y="284.42" width="11.08" height="4.99" fill="#12b8e8" shape-rendering="crispEdges"/>
<rect x="263.40" y="284.42" width="11.08" height="4.99" fill="#12b8e8" shape-rendering="crispEdges"/>
<rect x="273.98" y="284.42" width="11.08" height="4.99" fill="#12b8e8" shape-rendering="crispEdges"/>
<rect x="284.56" y="284.42" width="11.08" height="4.99" fill="#12b8e8" shape-rendering="crispEdges"/>
<rect x="295.14" y="284.42" width="11.08" height="4.99" fill="#12b8e8" shape-rendering="crispEdges"/>
<rect x="313.10" y="235.10" width="8.10" height="7.80" fill="#e3e03a"/>
<text x="341.8" y="244.0" font-size="8.8" font-weight="bold" text-anchor="end" fill="#000">1.00</text>
<rect x="313.10" y="242.85" width="8.10" height="7.80" fill="#9fa03e"/>
<text x="341.8" y="251.37" font-size="8.8" font-weight="bold" text-anchor="end" fill="#000">0.67</text>
<rect x="313.10" y="250.60" width="8.10" height="7.80" fill="#4a4d25"/>
<text x="341.8" y="258.74" font-size="8.8" font-weight="bold" text-anchor="end" fill="#000">0.33</text>
<rect x="313.10" y="258.35" width="8.10" height="7.80" fill="#000000"/>
<text x="341.8" y="266.11" font-size="8.8" font-weight="bold" text-anchor="end" fill="#000">0.00</text>
<rect x="313.10" y="266.10" width="8.10" height="7.80" fill="#04404e"/>
<text x="341.8" y="273.48" font-size="8.8" font-weight="bold" text-anchor="end" fill="#000">-0.33</text>
<rect x="313.10" y="273.85" width="8.10" height="7.80" fill="#067a98"/>
<text x="341.8" y="280.85" font-size="8.8" font-weight="bold" text-anchor="end" fill="#000">-0.67</text>
<rect x="313.10" y="281.60" width="8.10" height="7.80" fill="#12b8e8"/>
<text x="341.8" y="288.22" font-size="8.8" font-weight="bold" text-anchor="end" fill="#000">-1.00</text>
<text x="73.2" y="293.3" font-size="9.2" font-weight="bold" text-anchor="end" fill="#000" transform="rotate(-45 73.2 293.3)">#1 - 4 wks</text>
<text x="106" y="293.3" font-size="9.2" font-weight="bold" text-anchor="end" fill="#000" transform="rotate(-45 106 293.3)">#2 - 4 wks</text>
<text x="137.1" y="293.3" font-size="9.2" font-weight="bold" text-anchor="end" fill="#000" transform="rotate(-45 137.1 293.3)">#1 - 1 wk</text>
<text x="168.5" y="293.3" font-size="9.2" font-weight="bold" text-anchor="end" fill="#000" transform="rotate(-45 168.5 293.3)">#2 - 1 wk</text>
<text x="201.3" y="293.3" font-size="9.2" font-weight="bold" text-anchor="end" fill="#000" transform="rotate(-45 201.3 293.3)">#3 - 2 wks</text>
<text x="233.0" y="293.3" font-size="9.2" font-weight="bold" text-anchor="end" fill="#000" transform="rotate(-45 233.0 293.3)">#1 - 2 wks</text>
<text x="264.8" y="293.3" font-size="9.2" font-weight="bold" text-anchor="end" fill="#000" transform="rotate(-45 264.8 293.3)">#2 - 6 wks</text>
<text x="292.1" y="293.3" font-size="9.2" font-weight="bold" text-anchor="end" fill="#000" transform="rotate(-45 292.1 293.3)">#3 - 7 wks</text>
<ellipse cx="464.2" cy="127.8" rx="57.3" ry="25.8" fill="#e6e6e6"/>
<path d="M521.00,114.20 L521.00,126.20 A56.8,25.8 0 0 1 407.40,126.20 L407.40,114.20 A56.8,25.8 0 0 0 521.00,114.20 Z" fill="url(#pieside)"/>
<path d="M464.2,114.2 L430.02,93.60 A56.8,25.8 0 1 1 407.48,112.85 Z" fill="#77787a"/>
<path d="M464.2,114.2 L407.48,112.85 A56.8,25.8 0 0 1 430.02,93.60 Z" fill="#e16f2f"/>
<path d="M520.45,118.99 A56.8,25.8 0 0 1 407.95,118.99" fill="none" stroke="#ffffff" stroke-opacity="0.35" stroke-width="1.3"/>
<ellipse cx="601.4" cy="127.39999999999999" rx="57.5" ry="25.8" fill="#e6e6e6"/>
<path d="M658.40,113.80 L658.40,125.80 A57,25.8 0 0 1 551.55,138.31 L551.55,126.31 A57,25.8 0 0 0 658.40,113.80 Z" fill="url(#piesideo)"/>
<path d="M551.55,126.31 L551.55,138.31 A57,25.8 0 0 1 544.40,125.80 L544.40,113.80 A57,25.8 0 0 0 551.55,126.31 Z" fill="url(#pieside)"/>
<path d="M601.4,113.8 L601.40,88.00 A57,25.8 0 1 1 551.55,126.31 Z" fill="#e16f2f"/>
<path d="M601.4,113.8 L551.55,126.31 A57,25.8 0 0 1 601.40,88.00 Z" fill="#77787a"/>
<path d="M657.85,118.59 A57,25.8 0 0 1 544.95,118.59" fill="none" stroke="#ffffff" stroke-opacity="0.35" stroke-width="1.3"/>
<text x="462" y="66.5" font-size="12" font-weight="bold" text-anchor="middle" fill="#000">Analyzed RNAs</text>
<text x="461.2" y="80" font-size="12" font-weight="bold" text-anchor="middle" fill="#000">on microarray</text>
<text x="601" y="65.4" font-size="12" font-weight="bold" text-anchor="middle" fill="#000">Analyzed RNAs differentially</text>
<text x="600.7" y="79" font-size="12" font-weight="bold" text-anchor="middle" fill="#000">expressed in AxLN</text>
<text x="339.9" y="100.3" font-size="12" font-weight="bold" text-anchor="start" fill="#000">snoRNAs</text>
<text x="339.9" y="115.5" font-size="12" font-weight="bold" text-anchor="start" fill="#000">(12%)</text>
<line x1="394.5" y1="96.6" x2="414.9" y2="96.6" stroke="#000" stroke-width="2.6"/>
<text x="570.7" y="109.5" font-size="10" font-weight="bold" text-anchor="middle" fill="#fff">Others</text>
<text x="621" y="118.5" font-size="10" font-weight="bold" text-anchor="middle" fill="#fff">snoRNAs</text>
<text x="621.2" y="131" font-size="10" font-weight="bold" text-anchor="middle" fill="#fff">(67%)</text>
<rect x="70.35" y="470.55" width="4.60" height="25.15" fill="#3a7fc1" stroke="#000" stroke-width="1.9"/>
<rect x="80.09" y="486.25" width="4.60" height="9.45" fill="url(#hb)" stroke="#000" stroke-width="1.9"/>
<rect x="89.83" y="463.35" width="4.60" height="32.35" fill="#f7c970" stroke="#000" stroke-width="1.9"/>
<rect x="99.57" y="488.35" width="4.60" height="7.35" fill="url(#hy)" stroke="#000" stroke-width="1.9"/>
<rect x="109.31" y="488.35" width="4.60" height="7.35" fill="#842a78" stroke="#000" stroke-width="1.9"/>
<rect x="119.05" y="490.95" width="4.60" height="4.75" fill="url(#hp)" stroke="#000" stroke-width="1.9"/>
<rect x="134.85" y="469.95" width="4.60" height="25.75" fill="#3a7fc1" stroke="#000" stroke-width="1.9"/>
<rect x="144.59" y="472.25" width="4.60" height="23.45" fill="url(#hb)" stroke="#000" stroke-width="1.9"/>
<rect x="154.33" y="457.75" width="4.60" height="37.95" fill="#f7c970" stroke="#000" stroke-width="1.9"/>
<rect x="164.07" y="452.45" width="4.60" height="43.25" fill="url(#hy)" stroke="#000" stroke-width="1.9"/>
<rect x="173.81" y="477.15" width="4.60" height="18.55" fill="#842a78" stroke="#000" stroke-width="1.9"/>
<rect x="183.55" y="474.55" width="4.60" height="21.15" fill="url(#hp)" stroke="#000" stroke-width="1.9"/>
<rect x="199.35" y="470.65" width="4.60" height="25.05" fill="#3a7fc1" stroke="#000" stroke-width="1.9"/>
<rect x="209.09" y="463.15" width="4.60" height="32.55" fill="url(#hb)" stroke="#000" stroke-width="1.9"/>
<rect x="218.83" y="431.95" width="4.60" height="63.75" fill="#f7c970" stroke="#000" stroke-width="1.9"/>
<rect x="228.57" y="428.95" width="4.60" height="66.75" fill="url(#hy)" stroke="#000" stroke-width="1.9"/>
<rect x="238.31" y="481.15" width="4.60" height="14.55" fill="#842a78" stroke="#000" stroke-width="1.9"/>
<rect x="248.05" y="470.95" width="4.60" height="24.75" fill="url(#hp)" stroke="#000" stroke-width="1.9"/>
<rect x="263.85" y="469.85" width="4.60" height="25.85" fill="#3a7fc1" stroke="#000" stroke-width="1.9"/>
<rect x="273.59" y="451.75" width="4.60" height="43.95" fill="url(#hb)" stroke="#000" stroke-width="1.9"/>
<rect x="283.33" y="438.45" width="4.60" height="57.25" fill="#f7c970" stroke="#000" stroke-width="1.9"/>
<rect x="293.07" y="428.95" width="4.60" height="66.75" fill="url(#hy)" stroke="#000" stroke-width="1.9"/>
<rect x="302.81" y="471.45" width="4.60" height="24.25" fill="#842a78" stroke="#000" stroke-width="1.9"/>
<rect x="312.55" y="468.15" width="4.60" height="27.55" fill="url(#hp)" stroke="#000" stroke-width="1.9"/>
<rect x="328.35" y="470.45" width="4.60" height="25.25" fill="#3a7fc1" stroke="#000" stroke-width="1.9"/>
<rect x="338.09" y="479.95" width="4.60" height="15.75" fill="url(#hb)" stroke="#000" stroke-width="1.9"/>
<rect x="347.83" y="438.95" width="4.60" height="56.75" fill="#f7c970" stroke="#000" stroke-width="1.9"/>
<rect x="357.57" y="387.65" width="4.60" height="108.05" fill="url(#hy)" stroke="#000" stroke-width="1.9"/>
<rect x="367.31" y="481.95" width="4.60" height="13.75" fill="#842a78" stroke="#000" stroke-width="1.9"/>
<rect x="377.05" y="466.95" width="4.60" height="28.75" fill="url(#hp)" stroke="#000" stroke-width="1.9"/>
<rect x="392.85" y="470.35" width="4.60" height="25.35" fill="#3a7fc1" stroke="#000" stroke-width="1.9"/>
<rect x="402.59" y="490.35" width="4.60" height="5.35" fill="url(#hb)" stroke="#000" stroke-width="1.9"/>
<rect x="412.33" y="441.85" width="4.60" height="53.85" fill="#f7c970" stroke="#000" stroke-width="1.9"/>
<rect x="422.07" y="367.55" width="4.60" height="128.15" fill="url(#hy)" stroke="#000" stroke-width="1.9"/>
<rect x="431.81" y="485.55" width="4.60" height="10.15" fill="#842a78" stroke="#000" stroke-width="1.9"/>
<rect x="441.55" y="468.45" width="4.60" height="27.25" fill="url(#hp)" stroke="#000" stroke-width="1.9"/>
<circle cx="71.35" cy="464.70" r="1.45" fill="#d8d8d8" stroke="#111" stroke-width="1.0"/>
<circle cx="73.95" cy="470.00" r="1.45" fill="#d8d8d8" stroke="#111" stroke-width="1.0"/>
<circle cx="72.65" cy="474.00" r="1.45" fill="#d8d8d8" stroke="#111" stroke-width="1.0"/>
<circle cx="81.09" cy="477.80" r="1.45" fill="#d8d8d8" stroke="#111" stroke-width="1.0"/>
<circle cx="83.69" cy="484.80" r="1.45" fill="#d8d8d8" stroke="#111" stroke-width="1.0"/>
<circle cx="82.39" cy="489.00" r="1.45" fill="#d8d8d8" stroke="#111" stroke-width="1.0"/>
<circle cx="90.83" cy="433.70" r="1.45" fill="#d8d8d8" stroke="#111" stroke-width="1.0"/>
<circle cx="93.43" cy="476.00" r="1.45" fill="#d8d8d8" stroke="#111" stroke-width="1.0"/>
<circle cx="92.13" cy="477.00" r="1.45" fill="#d8d8d8" stroke="#111" stroke-width="1.0"/>
<circle cx="100.57" cy="486.00" r="1.45" fill="#d8d8d8" stroke="#111" stroke-width="1.0"/>
<circle cx="103.17" cy="487.50" r="1.45" fill="#d8d8d8" stroke="#111" stroke-width="1.0"/>
<circle cx="101.87" cy="488.00" r="1.45" fill="#d8d8d8" stroke="#111" stroke-width="1.0"/>
<circle cx="110.31" cy="486.00" r="1.45" fill="#d8d8d8" stroke="#111" stroke-width="1.0"/>
<circle cx="112.91" cy="487.00" r="1.45" fill="#d8d8d8" stroke="#111" stroke-width="1.0"/>
<circle cx="111.61" cy="488.00" r="1.45" fill="#d8d8d8" stroke="#111" stroke-width="1.0"/>
<circle cx="120.05" cy="489.00" r="1.45" fill="#d8d8d8" stroke="#111" stroke-width="1.0"/>
<circle cx="122.65" cy="490.00" r="1.45" fill="#d8d8d8" stroke="#111" stroke-width="1.0"/>
<circle cx="121.35" cy="490.00" r="1.45" fill="#d8d8d8" stroke="#111" stroke-width="1.0"/>
<circle cx="135.85" cy="469.50" r="1.45" fill="#d8d8d8" stroke="#111" stroke-width="1.0"/>
<circle cx="138.45" cy="470.00" r="1.45" fill="#d8d8d8" stroke="#111" stroke-width="1.0"/>
<circle cx="137.15" cy="470.50" r="1.45" fill="#d8d8d8" stroke="#111" stroke-width="1.0"/>
<circle cx="145.59" cy="472.00" r="1.45" fill="#d8d8d8" stroke="#111" stroke-width="1.0"/>
<circle cx="148.19" cy="472.00" r="1.45" fill="#d8d8d8" stroke="#111" stroke-width="1.0"/>
<circle cx="146.89" cy="474.00" r="1.45" fill="#d8d8d8" stroke="#111" stroke-width="1.0"/>
<circle cx="155.33" cy="452.90" r="1.45" fill="#d8d8d8" stroke="#111" stroke-width="1.0"/>
<circle cx="157.93" cy="457.70" r="1.45" fill="#d8d8d8" stroke="#111" stroke-width="1.0"/>
<circle cx="156.63" cy="457.70" r="1.45" fill="#d8d8d8" stroke="#111" stroke-width="1.0"/>
<circle cx="165.07" cy="449.40" r="1.45" fill="#d8d8d8" stroke="#111" stroke-width="1.0"/>
<circle cx="167.67" cy="451.50" r="1.45" fill="#d8d8d8" stroke="#111" stroke-width="1.0"/>
<circle cx="166.37" cy="452.00" r="1.45" fill="#d8d8d8" stroke="#111" stroke-width="1.0"/>
<circle cx="174.81" cy="475.50" r="1.45" fill="#d8d8d8" stroke="#111" stroke-width="1.0"/>
<circle cx="177.41" cy="476.50" r="1.45" fill="#d8d8d8" stroke="#111" stroke-width="1.0"/>
<circle cx="176.11" cy="477.00" r="1.45" fill="#d8d8d8" stroke="#111" stroke-width="1.0"/>
<circle cx="184.55" cy="473.00" r="1.45" fill="#d8d8d8" stroke="#111" stroke-width="1.0"/>
<circle cx="187.15" cy="474.00" r="1.45" fill="#d8d8d8" stroke="#111" stroke-width="1.0"/>
<circle cx="185.85" cy="474.00" r="1.45" fill="#d8d8d8" stroke="#111" stroke-width="1.0"/>
<circle cx="200.35" cy="468.30" r="1.45" fill="#d8d8d8" stroke="#111" stroke-width="1.0"/>
<circle cx="202.95" cy="471.80" r="1.45" fill="#d8d8d8" stroke="#111" stroke-width="1.0"/>
<circle cx="201.65" cy="469.00" r="1.45" fill="#d8d8d8" stroke="#111" stroke-width="1.0"/>
<circle cx="210.09" cy="460.40" r="1.45" fill="#d8d8d8" stroke="#111" stroke-width="1.0"/>
<circle cx="212.69" cy="464.00" r="1.45" fill="#d8d8d8" stroke="#111" stroke-width="1.0"/>
<circle cx="211.39" cy="462.00" r="1.45" fill="#d8d8d8" stroke="#111" stroke-width="1.0"/>
<circle cx="219.83" cy="431.50" r="1.45" fill="#d8d8d8" stroke="#111" stroke-width="1.0"/>
<circle cx="222.43" cy="431.00" r="1.45" fill="#d8d8d8" stroke="#111" stroke-width="1.0"/>
<circle cx="221.13" cy="431.50" r="1.45" fill="#d8d8d8" stroke="#111" stroke-width="1.0"/>
<circle cx="229.57" cy="423.60" r="1.45" fill="#d8d8d8" stroke="#111" stroke-width="1.0"/>
<circle cx="232.17" cy="429.00" r="1.45" fill="#d8d8d8" stroke="#111" stroke-width="1.0"/>
<circle cx="230.87" cy="431.50" r="1.45" fill="#d8d8d8" stroke="#111" stroke-width="1.0"/>
<circle cx="239.31" cy="478.80" r="1.45" fill="#d8d8d8" stroke="#111" stroke-width="1.0"/>
<circle cx="241.91" cy="482.30" r="1.45" fill="#d8d8d8" stroke="#111" stroke-width="1.0"/>
<circle cx="240.61" cy="480.00" r="1.45" fill="#d8d8d8" stroke="#111" stroke-width="1.0"/>
<circle cx="249.05" cy="468.30" r="1.45" fill="#d8d8d8" stroke="#111" stroke-width="1.0"/>
<circle cx="251.65" cy="471.80" r="1.45" fill="#d8d8d8" stroke="#111" stroke-width="1.0"/>
<circle cx="250.35" cy="470.00" r="1.45" fill="#d8d8d8" stroke="#111" stroke-width="1.0"/>
<circle cx="264.85" cy="461.80" r="1.45" fill="#d8d8d8" stroke="#111" stroke-width="1.0"/>
<circle cx="267.45" cy="468.50" r="1.45" fill="#d8d8d8" stroke="#111" stroke-width="1.0"/>
<circle cx="266.15" cy="476.20" r="1.45" fill="#d8d8d8" stroke="#111" stroke-width="1.0"/>
<circle cx="274.59" cy="446.40" r="1.45" fill="#d8d8d8" stroke="#111" stroke-width="1.0"/>
<circle cx="277.19" cy="451.00" r="1.45" fill="#d8d8d8" stroke="#111" stroke-width="1.0"/>
<circle cx="275.89" cy="454.30" r="1.45" fill="#d8d8d8" stroke="#111" stroke-width="1.0"/>
<circle cx="284.33" cy="436.50" r="1.45" fill="#d8d8d8" stroke="#111" stroke-width="1.0"/>
<circle cx="286.93" cy="437.50" r="1.45" fill="#d8d8d8" stroke="#111" stroke-width="1.0"/>
<circle cx="285.63" cy="438.50" r="1.45" fill="#d8d8d8" stroke="#111" stroke-width="1.0"/>
<circle cx="294.07" cy="424.80" r="1.45" fill="#d8d8d8" stroke="#111" stroke-width="1.0"/>
<circle cx="296.67" cy="428.50" r="1.45" fill="#d8d8d8" stroke="#111" stroke-width="1.0"/>
<circle cx="295.37" cy="432.00" r="1.45" fill="#d8d8d8" stroke="#111" stroke-width="1.0"/>
<circle cx="303.81" cy="469.00" r="1.45" fill="#d8d8d8" stroke="#111" stroke-width="1.0"/>
<circle cx="306.41" cy="470.50" r="1.45" fill="#d8d8d8" stroke="#111" stroke-width="1.0"/>
<circle cx="305.11" cy="471.50" r="1.45" fill="#d8d8d8" stroke="#111" stroke-width="1.0"/>
<circle cx="313.55" cy="465.50" r="1.45" fill="#d8d8d8" stroke="#111" stroke-width="1.0"/>
<circle cx="316.15" cy="467.00" r="1.45" fill="#d8d8d8" stroke="#111" stroke-width="1.0"/>
<circle cx="314.85" cy="468.00" r="1.45" fill="#d8d8d8" stroke="#111" stroke-width="1.0"/>
<circle cx="329.35" cy="466.10" r="1.45" fill="#d8d8d8" stroke="#111" stroke-width="1.0"/>
<circle cx="331.95" cy="471.80" r="1.45" fill="#d8d8d8" stroke="#111" stroke-width="1.0"/>
<circle cx="330.65" cy="471.80" r="1.45" fill="#d8d8d8" stroke="#111" stroke-width="1.0"/>
<circle cx="339.09" cy="476.50" r="1.45" fill="#d8d8d8" stroke="#111" stroke-width="1.0"/>
<circle cx="341.69" cy="478.50" r="1.45" fill="#d8d8d8" stroke="#111" stroke-width="1.0"/>
<circle cx="340.39" cy="480.00" r="1.45" fill="#d8d8d8" stroke="#111" stroke-width="1.0"/>
<circle cx="348.83" cy="437.50" r="1.45" fill="#d8d8d8" stroke="#111" stroke-width="1.0"/>
<circle cx="351.43" cy="438.70" r="1.45" fill="#d8d8d8" stroke="#111" stroke-width="1.0"/>
<circle cx="350.13" cy="439.00" r="1.45" fill="#d8d8d8" stroke="#111" stroke-width="1.0"/>
<circle cx="358.57" cy="376.20" r="1.45" fill="#d8d8d8" stroke="#111" stroke-width="1.0"/>
<circle cx="361.17" cy="382.90" r="1.45" fill="#d8d8d8" stroke="#111" stroke-width="1.0"/>
<circle cx="359.87" cy="401.90" r="1.45" fill="#d8d8d8" stroke="#111" stroke-width="1.0"/>
<circle cx="368.31" cy="479.50" r="1.45" fill="#d8d8d8" stroke="#111" stroke-width="1.0"/>
<circle cx="370.91" cy="481.00" r="1.45" fill="#d8d8d8" stroke="#111" stroke-width="1.0"/>
<circle cx="369.61" cy="482.00" r="1.45" fill="#d8d8d8" stroke="#111" stroke-width="1.0"/>
<circle cx="378.05" cy="465.50" r="1.45" fill="#d8d8d8" stroke="#111" stroke-width="1.0"/>
<circle cx="380.65" cy="466.00" r="1.45" fill="#d8d8d8" stroke="#111" stroke-width="1.0"/>
<circle cx="379.35" cy="467.00" r="1.45" fill="#d8d8d8" stroke="#111" stroke-width="1.0"/>
<circle cx="393.85" cy="467.50" r="1.45" fill="#d8d8d8" stroke="#111" stroke-width="1.0"/>
<circle cx="396.45" cy="469.50" r="1.45" fill="#d8d8d8" stroke="#111" stroke-width="1.0"/>
<circle cx="395.15" cy="470.40" r="1.45" fill="#d8d8d8" stroke="#111" stroke-width="1.0"/>
<circle cx="403.59" cy="488.00" r="1.45" fill="#d8d8d8" stroke="#111" stroke-width="1.0"/>
<circle cx="406.19" cy="489.00" r="1.45" fill="#d8d8d8" stroke="#111" stroke-width="1.0"/>
<circle cx="404.89" cy="489.50" r="1.45" fill="#d8d8d8" stroke="#111" stroke-width="1.0"/>
<circle cx="413.33" cy="439.90" r="1.45" fill="#d8d8d8" stroke="#111" stroke-width="1.0"/>
<circle cx="415.93" cy="441.00" r="1.45" fill="#d8d8d8" stroke="#111" stroke-width="1.0"/>
<circle cx="414.63" cy="442.00" r="1.45" fill="#d8d8d8" stroke="#111" stroke-width="1.0"/>
<circle cx="423.07" cy="358.10" r="1.45" fill="#d8d8d8" stroke="#111" stroke-width="1.0"/>
<circle cx="425.67" cy="368.50" r="1.45" fill="#d8d8d8" stroke="#111" stroke-width="1.0"/>
<circle cx="424.37" cy="374.30" r="1.45" fill="#d8d8d8" stroke="#111" stroke-width="1.0"/>
<circle cx="432.81" cy="484.00" r="1.45" fill="#d8d8d8" stroke="#111" stroke-width="1.0"/>
<circle cx="435.41" cy="485.00" r="1.45" fill="#d8d8d8" stroke="#111" stroke-width="1.0"/>
<circle cx="434.11" cy="486.00" r="1.45" fill="#d8d8d8" stroke="#111" stroke-width="1.0"/>
<circle cx="442.55" cy="466.00" r="1.45" fill="#d8d8d8" stroke="#111" stroke-width="1.0"/>
<circle cx="445.15" cy="467.10" r="1.45" fill="#d8d8d8" stroke="#111" stroke-width="1.0"/>
<circle cx="443.85" cy="468.00" r="1.45" fill="#d8d8d8" stroke="#111" stroke-width="1.0"/>
<line x1="67" y1="340.5" x2="67" y2="497.2" stroke="#000" stroke-width="3"/>
<line x1="65.5" y1="495.7" x2="450.4" y2="495.7" stroke="#000" stroke-width="3"/>
<line x1="58.3" y1="342.09999999999997" x2="67" y2="342.09999999999997" stroke="#000" stroke-width="2.4"/>
<text x="56.5" y="346.2" font-size="11.5" font-weight="bold" text-anchor="end" fill="#000">6</text>
<line x1="58.3" y1="393.29999999999995" x2="67" y2="393.29999999999995" stroke="#000" stroke-width="2.4"/>
<text x="56.5" y="397.4" font-size="11.5" font-weight="bold" text-anchor="end" fill="#000">4</text>
<line x1="58.3" y1="444.5" x2="67" y2="444.5" stroke="#000" stroke-width="2.4"/>
<text x="56.5" y="448.6" font-size="11.5" font-weight="bold" text-anchor="end" fill="#000">2</text>
<line x1="58.3" y1="495.7" x2="67" y2="495.7" stroke="#000" stroke-width="2.4"/>
<text x="56.5" y="499.8" font-size="11.5" font-weight="bold" text-anchor="end" fill="#000">0</text>
<line x1="97.0" y1="495.7" x2="97.0" y2="503.2" stroke="#000" stroke-width="2.6"/>
<text x="100.0" y="513.5" font-size="11.8" font-weight="bold" text-anchor="end" fill="#000" transform="rotate(-45 100.0 513.5)">Snord1c</text>
<line x1="161.5" y1="495.7" x2="161.5" y2="503.2" stroke="#000" stroke-width="2.6"/>
<text x="164.5" y="513.5" font-size="11.8" font-weight="bold" text-anchor="end" fill="#000" transform="rotate(-45 164.5 513.5)">Snord104</text>
<line x1="226.0" y1="495.7" x2="226.0" y2="503.2" stroke="#000" stroke-width="2.6"/>
<text x="229.0" y="513.5" font-size="11.8" font-weight="bold" text-anchor="end" fill="#000" transform="rotate(-45 229.0 513.5)">Snord90</text>
<line x1="290.5" y1="495.7" x2="290.5" y2="503.2" stroke="#000" stroke-width="2.6"/>
<text x="293.5" y="513.5" font-size="11.8" font-weight="bold" text-anchor="end" fill="#000" transform="rotate(-45 293.5 513.5)">Snord61</text>
<line x1="355.0" y1="495.7" x2="355.0" y2="503.2" stroke="#000" stroke-width="2.6"/>
<text x="358.0" y="513.5" font-size="11.8" font-weight="bold" text-anchor="end" fill="#000" transform="rotate(-45 358.0 513.5)">Snord111</text>
<line x1="419.5" y1="495.7" x2="419.5" y2="503.2" stroke="#000" stroke-width="2.6"/>
<text x="422.5" y="513.5" font-size="11.8" font-weight="bold" text-anchor="end" fill="#000" transform="rotate(-45 422.5 513.5)">Snord67</text>
<text x="41.2" y="418" font-size="12.5" font-weight="bold" text-anchor="middle" fill="#000" transform="rotate(-90 41.2 418)">RQ</text>
<rect x="92.45" y="342.95" width="16.40" height="8.60" fill="#3a7fc1" stroke="#000" stroke-width="1.9"/>
<text x="118.5" y="351.55" font-size="12.2" font-weight="bold" text-anchor="start" fill="#000">MFP</text>
<rect x="92.45" y="357.95" width="16.40" height="8.60" fill="#f7c970" stroke="#000" stroke-width="1.9"/>
<text x="118.5" y="366.55" font-size="12.2" font-weight="bold" text-anchor="start" fill="#000">AxLN</text>
<rect x="92.45" y="372.95" width="16.40" height="8.60" fill="#842a78" stroke="#000" stroke-width="1.9"/>
<text x="118.5" y="381.55" font-size="12.2" font-weight="bold" text-anchor="start" fill="#000">AxLN-LuM</text>
<rect x="72.65" y="698.81" width="4.80" height="4.79" fill="#3a7fc1" stroke="#000" stroke-width="1.9"/>
<rect x="83.85" y="698.81" width="4.80" height="4.79" fill="url(#hb)" stroke="#000" stroke-width="1.9"/>
<rect x="95.05" y="703.12" width="4.80" height="0.48" fill="#f9d160" stroke="#000" stroke-width="1.9"/>
<rect x="106.25" y="703.12" width="4.80" height="0.48" fill="url(#hy2)" stroke="#000" stroke-width="1.9"/>
<rect x="124.80" y="698.81" width="4.80" height="4.79" fill="#3a7fc1" stroke="#000" stroke-width="1.9"/>
<rect x="136.00" y="698.81" width="4.80" height="4.79" fill="url(#hb)" stroke="#000" stroke-width="1.9"/>
<rect x="147.20" y="703.40" width="4.80" height="0.20" fill="#f9d160" stroke="#000" stroke-width="1.9"/>
<rect x="158.40" y="703.86" width="4.80" height="-0.26" fill="url(#hy2)" stroke="#000" stroke-width="1.9"/>
<rect x="176.95" y="698.81" width="4.80" height="4.79" fill="#3a7fc1" stroke="#000" stroke-width="1.9"/>
<rect x="188.15" y="698.81" width="4.80" height="4.79" fill="url(#hb)" stroke="#000" stroke-width="1.9"/>
<rect x="199.35" y="698.81" width="4.80" height="4.79" fill="#f9d160" stroke="#000" stroke-width="1.9"/>
<rect x="210.55" y="697.66" width="4.80" height="5.94" fill="url(#hy2)" stroke="#000" stroke-width="1.9"/>
<rect x="229.10" y="698.81" width="4.80" height="4.79" fill="#3a7fc1" stroke="#000" stroke-width="1.9"/>
<rect x="240.30" y="698.81" width="4.80" height="4.79" fill="url(#hb)" stroke="#000" stroke-width="1.9"/>
<rect x="251.50" y="691.06" width="4.80" height="12.54" fill="#f9d160" stroke="#000" stroke-width="1.9"/>
<rect x="262.70" y="591.47" width="4.80" height="112.13" fill="url(#hy2)" stroke="#000" stroke-width="1.9"/>
<rect x="281.25" y="698.81" width="4.80" height="4.79" fill="#3a7fc1" stroke="#000" stroke-width="1.9"/>
<rect x="292.45" y="698.81" width="4.80" height="4.79" fill="url(#hb)" stroke="#000" stroke-width="1.9"/>
<rect x="303.65" y="668.96" width="4.80" height="34.64" fill="#f9d160" stroke="#000" stroke-width="1.9"/>
<rect x="314.85" y="662.07" width="4.80" height="41.53" fill="url(#hy2)" stroke="#000" stroke-width="1.9"/>
<rect x="333.40" y="698.81" width="4.80" height="4.79" fill="#3a7fc1" stroke="#000" stroke-width="1.9"/>
<rect x="344.60" y="698.81" width="4.80" height="4.79" fill="url(#hb)" stroke="#000" stroke-width="1.9"/>
<rect x="355.80" y="667.24" width="4.80" height="36.36" fill="#f9d160" stroke="#000" stroke-width="1.9"/>
<rect x="367.00" y="674.70" width="4.80" height="28.90" fill="url(#hy2)" stroke="#000" stroke-width="1.9"/>
<rect x="385.55" y="697.66" width="4.80" height="5.94" fill="#3a7fc1" stroke="#000" stroke-width="1.9"/>
<rect x="396.75" y="698.81" width="4.80" height="4.79" fill="url(#hb)" stroke="#000" stroke-width="1.9"/>
<rect x="407.95" y="651.74" width="4.80" height="51.86" fill="#f9d160" stroke="#000" stroke-width="1.9"/>
<rect x="419.15" y="602.38" width="4.80" height="101.22" fill="url(#hy2)" stroke="#000" stroke-width="1.9"/>
<circle cx="73.75" cy="699.01" r="1.45" fill="#d8d8d8" stroke="#111" stroke-width="1.0"/>
<circle cx="76.35" cy="697.86" r="1.45" fill="#d8d8d8" stroke="#111" stroke-width="1.0"/>
<circle cx="75.05" cy="696.71" r="1.45" fill="#d8d8d8" stroke="#111" stroke-width="1.0"/>
<circle cx="84.95" cy="699.01" r="1.45" fill="#d8d8d8" stroke="#111" stroke-width="1.0"/>
<circle cx="87.55" cy="697.29" r="1.45" fill="#d8d8d8" stroke="#111" stroke-width="1.0"/>
<circle cx="86.25" cy="695.56" r="1.45" fill="#d8d8d8" stroke="#111" stroke-width="1.0"/>
<circle cx="96.15" cy="702.45" r="1.45" fill="#d8d8d8" stroke="#111" stroke-width="1.0"/>
<circle cx="98.75" cy="701.88" r="1.45" fill="#d8d8d8" stroke="#111" stroke-width="1.0"/>
<circle cx="97.45" cy="701.88" r="1.45" fill="#d8d8d8" stroke="#111" stroke-width="1.0"/>
<circle cx="107.35" cy="702.45" r="1.45" fill="#d8d8d8" stroke="#111" stroke-width="1.0"/>
<circle cx="109.95" cy="701.88" r="1.45" fill="#d8d8d8" stroke="#111" stroke-width="1.0"/>
<circle cx="108.65" cy="701.88" r="1.45" fill="#d8d8d8" stroke="#111" stroke-width="1.0"/>
<circle cx="125.90" cy="699.01" r="1.45" fill="#d8d8d8" stroke="#111" stroke-width="1.0"/>
<circle cx="128.50" cy="697.86" r="1.45" fill="#d8d8d8" stroke="#111" stroke-width="1.0"/>
<circle cx="127.20" cy="696.71" r="1.45" fill="#d8d8d8" stroke="#111" stroke-width="1.0"/>
<circle cx="137.10" cy="699.01" r="1.45" fill="#d8d8d8" stroke="#111" stroke-width="1.0"/>
<circle cx="139.70" cy="697.29" r="1.45" fill="#d8d8d8" stroke="#111" stroke-width="1.0"/>
<circle cx="138.40" cy="696.14" r="1.45" fill="#d8d8d8" stroke="#111" stroke-width="1.0"/>
<circle cx="148.30" cy="702.74" r="1.45" fill="#d8d8d8" stroke="#111" stroke-width="1.0"/>
<circle cx="150.90" cy="702.45" r="1.45" fill="#d8d8d8" stroke="#111" stroke-width="1.0"/>
<circle cx="149.60" cy="702.17" r="1.45" fill="#d8d8d8" stroke="#111" stroke-width="1.0"/>
<circle cx="159.50" cy="703.03" r="1.45" fill="#d8d8d8" stroke="#111" stroke-width="1.0"/>
<circle cx="162.10" cy="703.03" r="1.45" fill="#d8d8d8" stroke="#111" stroke-width="1.0"/>
<circle cx="160.80" cy="702.74" r="1.45" fill="#d8d8d8" stroke="#111" stroke-width="1.0"/>
<circle cx="178.05" cy="699.01" r="1.45" fill="#d8d8d8" stroke="#111" stroke-width="1.0"/>
<circle cx="180.65" cy="697.86" r="1.45" fill="#d8d8d8" stroke="#111" stroke-width="1.0"/>
<circle cx="179.35" cy="697.00" r="1.45" fill="#d8d8d8" stroke="#111" stroke-width="1.0"/>
<circle cx="189.25" cy="698.72" r="1.45" fill="#d8d8d8" stroke="#111" stroke-width="1.0"/>
<circle cx="191.85" cy="697.86" r="1.45" fill="#d8d8d8" stroke="#111" stroke-width="1.0"/>
<circle cx="190.55" cy="697.00" r="1.45" fill="#d8d8d8" stroke="#111" stroke-width="1.0"/>
<circle cx="200.45" cy="699.01" r="1.45" fill="#d8d8d8" stroke="#111" stroke-width="1.0"/>
<circle cx="203.05" cy="697.86" r="1.45" fill="#d8d8d8" stroke="#111" stroke-width="1.0"/>
<circle cx="201.75" cy="696.71" r="1.45" fill="#d8d8d8" stroke="#111" stroke-width="1.0"/>
<circle cx="211.65" cy="699.01" r="1.45" fill="#d8d8d8" stroke="#111" stroke-width="1.0"/>
<circle cx="214.25" cy="695.56" r="1.45" fill="#d8d8d8" stroke="#111" stroke-width="1.0"/>
<circle cx="212.95" cy="689.82" r="1.45" fill="#d8d8d8" stroke="#111" stroke-width="1.0"/>
<circle cx="230.20" cy="698.72" r="1.45" fill="#d8d8d8" stroke="#111" stroke-width="1.0"/>
<circle cx="232.80" cy="697.86" r="1.45" fill="#d8d8d8" stroke="#111" stroke-width="1.0"/>
<circle cx="231.50" cy="697.00" r="1.45" fill="#d8d8d8" stroke="#111" stroke-width="1.0"/>
<circle cx="241.40" cy="698.72" r="1.45" fill="#d8d8d8" stroke="#111" stroke-width="1.0"/>
<circle cx="244.00" cy="697.86" r="1.45" fill="#d8d8d8" stroke="#111" stroke-width="1.0"/>
<circle cx="242.70" cy="697.00" r="1.45" fill="#d8d8d8" stroke="#111" stroke-width="1.0"/>
<circle cx="253.90" cy="690.97" r="1.45" fill="#d8d8d8" stroke="#111" stroke-width="1.0"/>
<circle cx="253.90" cy="687.82" r="1.45" fill="#d8d8d8" stroke="#111" stroke-width="1.0"/>
<circle cx="262.90" cy="600.28" r="1.45" fill="#d8d8d8" stroke="#111" stroke-width="1.0"/>
<circle cx="267.30" cy="600.28" r="1.45" fill="#d8d8d8" stroke="#111" stroke-width="1.0"/>
<circle cx="262.90" cy="580.76" r="1.45" fill="#d8d8d8" stroke="#111" stroke-width="1.0"/>
<circle cx="267.30" cy="580.76" r="1.45" fill="#d8d8d8" stroke="#111" stroke-width="1.0"/>
<circle cx="282.35" cy="698.72" r="1.45" fill="#d8d8d8" stroke="#111" stroke-width="1.0"/>
<circle cx="284.95" cy="697.86" r="1.45" fill="#d8d8d8" stroke="#111" stroke-width="1.0"/>
<circle cx="283.65" cy="697.00" r="1.45" fill="#d8d8d8" stroke="#111" stroke-width="1.0"/>
<circle cx="293.55" cy="698.72" r="1.45" fill="#d8d8d8" stroke="#111" stroke-width="1.0"/>
<circle cx="296.15" cy="697.86" r="1.45" fill="#d8d8d8" stroke="#111" stroke-width="1.0"/>
<circle cx="294.85" cy="697.00" r="1.45" fill="#d8d8d8" stroke="#111" stroke-width="1.0"/>
<circle cx="306.05" cy="665.72" r="1.45" fill="#d8d8d8" stroke="#111" stroke-width="1.0"/>
<circle cx="306.05" cy="668.59" r="1.45" fill="#d8d8d8" stroke="#111" stroke-width="1.0"/>
<circle cx="315.95" cy="658.83" r="1.45" fill="#d8d8d8" stroke="#111" stroke-width="1.0"/>
<circle cx="318.55" cy="660.55" r="1.45" fill="#d8d8d8" stroke="#111" stroke-width="1.0"/>
<circle cx="317.25" cy="663.99" r="1.45" fill="#d8d8d8" stroke="#111" stroke-width="1.0"/>
<circle cx="334.50" cy="698.72" r="1.45" fill="#d8d8d8" stroke="#111" stroke-width="1.0"/>
<circle cx="337.10" cy="697.86" r="1.45" fill="#d8d8d8" stroke="#111" stroke-width="1.0"/>
<circle cx="335.80" cy="697.00" r="1.45" fill="#d8d8d8" stroke="#111" stroke-width="1.0"/>
<circle cx="345.70" cy="698.72" r="1.45" fill="#d8d8d8" stroke="#111" stroke-width="1.0"/>
<circle cx="348.30" cy="697.86" r="1.45" fill="#d8d8d8" stroke="#111" stroke-width="1.0"/>
<circle cx="347.00" cy="697.00" r="1.45" fill="#d8d8d8" stroke="#111" stroke-width="1.0"/>
<circle cx="358.20" cy="658.25" r="1.45" fill="#d8d8d8" stroke="#111" stroke-width="1.0"/>
<circle cx="358.20" cy="674.33" r="1.45" fill="#d8d8d8" stroke="#111" stroke-width="1.0"/>
<circle cx="369.40" cy="661.70" r="1.45" fill="#d8d8d8" stroke="#111" stroke-width="1.0"/>
<circle cx="369.40" cy="685.23" r="1.45" fill="#d8d8d8" stroke="#111" stroke-width="1.0"/>
<circle cx="386.65" cy="690.97" r="1.45" fill="#d8d8d8" stroke="#111" stroke-width="1.0"/>
<circle cx="389.25" cy="699.01" r="1.45" fill="#d8d8d8" stroke="#111" stroke-width="1.0"/>
<circle cx="387.95" cy="697.86" r="1.45" fill="#d8d8d8" stroke="#111" stroke-width="1.0"/>
<circle cx="397.85" cy="698.43" r="1.45" fill="#d8d8d8" stroke="#111" stroke-width="1.0"/>
<circle cx="400.45" cy="697.86" r="1.45" fill="#d8d8d8" stroke="#111" stroke-width="1.0"/>
<circle cx="399.15" cy="697.29" r="1.45" fill="#d8d8d8" stroke="#111" stroke-width="1.0"/>
<circle cx="410.35" cy="648.50" r="1.45" fill="#d8d8d8" stroke="#111" stroke-width="1.0"/>
<circle cx="410.35" cy="651.94" r="1.45" fill="#d8d8d8" stroke="#111" stroke-width="1.0"/>
<circle cx="421.55" cy="576.75" r="1.45" fill="#d8d8d8" stroke="#111" stroke-width="1.0"/>
<circle cx="421.55" cy="624.39" r="1.45" fill="#d8d8d8" stroke="#111" stroke-width="1.0"/>
<line x1="67" y1="558.5" x2="67" y2="705.2" stroke="#000" stroke-width="3"/>
<line x1="65.5" y1="703.6" x2="429.4" y2="703.6" stroke="#000" stroke-width="3"/>
<line x1="59.8" y1="703.6" x2="67" y2="703.6" stroke="#000" stroke-width="2.4"/>
<text x="57.5" y="707.7" font-size="11.5" font-weight="bold" text-anchor="end" fill="#000">0</text>
<line x1="59.8" y1="674.9" x2="67" y2="674.9" stroke="#000" stroke-width="2.4"/>
<text x="57.5" y="679.0" font-size="11.5" font-weight="bold" text-anchor="end" fill="#000">5</text>
<line x1="59.8" y1="646.2" x2="67" y2="646.2" stroke="#000" stroke-width="2.4"/>
<text x="57.5" y="650.3000000000001" font-size="11.5" font-weight="bold" text-anchor="end" fill="#000">10</text>
<line x1="59.8" y1="617.5" x2="67" y2="617.5" stroke="#000" stroke-width="2.4"/>
<text x="57.5" y="621.6" font-size="11.5" font-weight="bold" text-anchor="end" fill="#000">15</text>
<line x1="59.8" y1="588.8" x2="67" y2="588.8" stroke="#000" stroke-width="2.4"/>
<text x="57.5" y="592.9" font-size="11.5" font-weight="bold" text-anchor="end" fill="#000">20</text>
<line x1="59.8" y1="560.1" x2="67" y2="560.1" stroke="#000" stroke-width="2.4"/>
<text x="57.5" y="564.2" font-size="11.5" font-weight="bold" text-anchor="end" fill="#000">25</text>
<line x1="91.85" y1="703.6" x2="91.85" y2="711.6" stroke="#000" stroke-width="2.6"/>
<text x="93.3" y="722.5" font-size="13.8" font-weight="bold" text-anchor="end" fill="#000" transform="rotate(-45 93.3 722.5)">Matched 1</text>
<line x1="143.99999999999997" y1="703.6" x2="143.99999999999997" y2="711.6" stroke="#000" stroke-width="2.6"/>
<text x="145.5" y="722.5" font-size="13.8" font-weight="bold" text-anchor="end" fill="#000" transform="rotate(-45 145.5 722.5)">Matched 2</text>
<line x1="196.15" y1="703.6" x2="196.15" y2="711.6" stroke="#000" stroke-width="2.6"/>
<text x="197.7" y="722.5" font-size="13.8" font-weight="bold" text-anchor="end" fill="#000" transform="rotate(-45 197.7 722.5)">Matched 3</text>
<line x1="248.29999999999998" y1="703.6" x2="248.29999999999998" y2="711.6" stroke="#000" stroke-width="2.6"/>
<text x="249.8" y="722.5" font-size="13.8" font-weight="bold" text-anchor="end" fill="#000" transform="rotate(-45 249.8 722.5)">Matched 4</text>
<line x1="300.45000000000005" y1="703.6" x2="300.45000000000005" y2="711.6" stroke="#000" stroke-width="2.6"/>
<text x="302.0" y="722.5" font-size="13.8" font-weight="bold" text-anchor="end" fill="#000" transform="rotate(-45 302.0 722.5)">Matched 5</text>
<line x1="352.6" y1="703.6" x2="352.6" y2="711.6" stroke="#000" stroke-width="2.6"/>
<text x="354.1" y="722.5" font-size="13.8" font-weight="bold" text-anchor="end" fill="#000" transform="rotate(-45 354.1 722.5)">Matched 6</text>
<line x1="404.75" y1="703.6" x2="404.75" y2="711.6" stroke="#000" stroke-width="2.6"/>
<text x="406.2" y="722.5" font-size="13.8" font-weight="bold" text-anchor="end" fill="#000" transform="rotate(-45 406.2 722.5)">Matched 7</text>
<text x="42.6" y="632.4" font-size="13.8" font-weight="bold" text-anchor="middle" fill="#000" transform="rotate(-90 42.6 632.4)">Fold Change</text>
<rect x="86.40" y="558.80" width="15.80" height="8.80" fill="#3a7fc1" stroke="#000" stroke-width="1.8"/>
<text x="111.2" y="567.4000000000001" font-size="11.6" font-weight="bold" text-anchor="start" fill="#000">MFP Snord67</text>
<rect x="86.40" y="574.35" width="15.80" height="8.80" fill="url(#hb)" stroke="#000" stroke-width="1.8"/>
<text x="111.2" y="582.95" font-size="11.6" font-weight="bold" text-anchor="start" fill="#000">MFP Snord111</text>
<rect x="86.40" y="589.90" width="15.80" height="8.80" fill="#f9d160" stroke="#000" stroke-width="1.8"/>
<text x="111.2" y="598.5000000000001" font-size="11.6" font-weight="bold" text-anchor="start" fill="#000">AxLN Snord67</text>
<rect x="86.40" y="605.45" width="15.80" height="8.80" fill="url(#hy2)" stroke="#000" stroke-width="1.8"/>
<text x="111.2" y="614.0500000000001" font-size="11.6" font-weight="bold" text-anchor="start" fill="#000">AxLN Snord111</text>
<text x="36.4" y="799.2" font-size="9.8" font-weight="bold" text-anchor="start" fill="#000">Host gene: Ckap5</text>
<line x1="209" y1="796.6" x2="269" y2="796.6" stroke="#000" stroke-width="2.2"/>
<line x1="321" y1="796.6" x2="360" y2="796.6" stroke="#000" stroke-width="2.2"/>
<rect x="125.10" y="787.50" width="83.40" height="15.40" fill="#1ea24c" stroke="#000" stroke-width="2.2"/>
<text x="167.2" y="799.4" font-size="10.2" font-weight="bold" text-anchor="middle" fill="#000">Exon 30</text>
<rect x="268.50" y="790.00" width="53.00" height="12.20" fill="#000"/>
<text x="295" y="800.2" font-size="10.2" font-weight="bold" text-anchor="middle" fill="#fff">Snord67</text>
<rect x="360.90" y="789.30" width="82.00" height="13.20" fill="#1ea24c" stroke="#000" stroke-width="2.2"/>
<text x="401.9" y="800.2" font-size="10.2" font-weight="bold" text-anchor="middle" fill="#000">Exon 31</text>
<path d="M105.5,826.5 L268.5,801.5" stroke="#000" stroke-width="3" stroke-dasharray="14,8.5" fill="none"/>
<path d="M321.5,801.5 L461,827.5" stroke="#000" stroke-width="3" stroke-dasharray="14,8.5" fill="none"/>
<line x1="56.3" y1="834" x2="106" y2="834" stroke="#000" stroke-width="2.2"/>
<rect x="104.50" y="826.80" width="95.90" height="13.40" fill="#000"/>
<rect x="204.40" y="826.80" width="178.50" height="13.40" fill="#000"/>
<rect x="386.90" y="826.80" width="74.10" height="13.40" fill="#000"/>
<line x1="460" y1="834" x2="465.5" y2="834" stroke="#000" stroke-width="2.2"/>
<text x="209.8" y="825" font-size="9.6" font-weight="normal" text-anchor="start" fill="#000">gRNA #1</text>
<text x="342" y="825.2" font-size="9.6" font-weight="normal" text-anchor="start" fill="#000">gRNA #2</text>
<g fill="none" stroke="#000" stroke-linecap="round">
<circle cx="194" cy="822.3" r="1.5" stroke-width="0.7"/><circle cx="198.1" cy="817.4" r="1.5" stroke-width="0.7"/>
<path d="M195.4,822.8 L199.3,823.5 M198.5,818.9 L199.3,823.5" stroke-width="0.8"/>
<path d="M199.3,823.5 L206,827.6 M199.3,823.5 L200.6,827" stroke-width="1.3"/>
<circle cx="388.1" cy="817" r="1.5" stroke-width="0.7"/><circle cx="393" cy="821.8" r="1.5" stroke-width="0.7"/>
<path d="M388.3,818.5 L387.1,822.8 M391.5,822 L387.1,822.8" stroke-width="0.8"/>
<path d="M387.1,822.8 L381,827.4 M387.1,822.8 L385.6,826.9" stroke-width="1.3"/>
</g>
<text x="96.6" y="854.5" font-size="9.75" font-weight="bold" text-anchor="end" fill="#000">Snord67KO-1</text>
<text x="96.6" y="873.4" font-size="9.75" font-weight="bold" text-anchor="end" fill="#000">Snord67KO-2</text>
<line x1="98.8" y1="851.7" x2="105" y2="851.7" stroke="#000" stroke-width="2"/>
<line x1="98.8" y1="868.9" x2="105" y2="868.9" stroke="#000" stroke-width="2"/>
<line x1="200" y1="851.7" x2="223" y2="851.7" stroke="#000" stroke-width="2.2"/>
<line x1="356" y1="851.7" x2="385" y2="851.7" stroke="#000" stroke-width="2.2"/>
<line x1="200" y1="868.6" x2="385" y2="868.6" stroke="#000" stroke-width="2.2"/>
<line x1="460" y1="851.7" x2="465.5" y2="851.7" stroke="#000" stroke-width="2"/>
<line x1="460" y1="868.9" x2="465.5" y2="868.9" stroke="#000" stroke-width="2"/>
<rect x="105.40" y="846.60" width="94.60" height="10.80" fill="#e8323a" stroke="#000" stroke-width="1.8"/>
<rect x="222.80" y="846.60" width="133.60" height="10.80" fill="#e8323a" stroke="#000" stroke-width="1.8"/>
<rect x="384.80" y="846.60" width="75.20" height="10.80" fill="#e8323a" stroke="#000" stroke-width="1.8"/>
<rect x="105.40" y="863.20" width="94.60" height="11.40" fill="#6a3f94" stroke="#000" stroke-width="1.8"/>
<rect x="384.80" y="863.20" width="75.20" height="11.40" fill="#6a3f94" stroke="#000" stroke-width="1.8"/>
<circle cx="533.4" cy="241.3" r="40.6" fill="url(#plate1)"/>
<circle cx="525.4" cy="257.2" r="1.89" fill="#8a7bbd" fill-opacity="0.52"/>
<circle cx="508.2" cy="235.5" r="0.71" fill="#8a7bbd" fill-opacity="0.61"/>
<circle cx="560.4" cy="247.8" r="0.71" fill="#8a7bbd" fill-opacity="0.52"/>
<circle cx="501.1" cy="257.9" r="0.74" fill="#8a7bbd" fill-opacity="0.55"/>
<circle cx="506.6" cy="213.7" r="1.63" fill="#8a7bbd" fill-opacity="0.59"/>
<circle cx="544.1" cy="239.7" r="2.76" fill="#8a7bbd" fill-opacity="0.57"/>
<circle cx="543.3" cy="253.9" r="0.97" fill="#8a7bbd" fill-opacity="0.68"/>
<circle cx="546.6" cy="269.7" r="1.84" fill="#8a7bbd" fill-opacity="0.58"/>
<circle cx="521.6" cy="237.7" r="0.71" fill="#8a7bbd" fill-opacity="0.55"/>
<circle cx="521.7" cy="216.3" r="0.98" fill="#8a7bbd" fill-opacity="0.63"/>
<circle cx="510.7" cy="248.2" r="2.47" fill="#8a7bbd" fill-opacity="0.65"/>
<circle cx="534.6" cy="272.5" r="1.47" fill="#8a7bbd" fill-opacity="0.69"/>
<circle cx="530.4" cy="218.1" r="3.39" fill="#8a7bbd" fill-opacity="0.53"/>
<circle cx="502.9" cy="258.5" r="0.76" fill="#8a7bbd" fill-opacity="0.61"/>
<circle cx="565.6" cy="249.4" r="2.34" fill="#8a7bbd" fill-opacity="0.63"/>
<circle cx="550.6" cy="224.2" r="2.05" fill="#8a7bbd" fill-opacity="0.63"/>
<circle cx="508.6" cy="227.7" r="2.68" fill="#8a7bbd" fill-opacity="0.71"/>
<circle cx="500.7" cy="246.7" r="0.71" fill="#8a7bbd" fill-opacity="0.66"/>
<circle cx="509.7" cy="210.0" r="1.33" fill="#8a7bbd" fill-opacity="0.57"/>
<circle cx="508.3" cy="263.2" r="0.70" fill="#8a7bbd" fill-opacity="0.60"/>
<circle cx="541.3" cy="255.2" r="0.71" fill="#8a7bbd" fill-opacity="0.67"/>
<circle cx="548.5" cy="257.2" r="1.13" fill="#8a7bbd" fill-opacity="0.69"/>
<circle cx="558.0" cy="254.9" r="1.55" fill="#8a7bbd" fill-opacity="0.69"/>
<circle cx="549.0" cy="207.7" r="0.92" fill="#8a7bbd" fill-opacity="0.59"/>
<circle cx="509.8" cy="270.3" r="3.20" fill="#8a7bbd" fill-opacity="0.54"/>
<circle cx="542.9" cy="260.4" r="0.85" fill="#8a7bbd" fill-opacity="0.61"/>
<circle cx="514.4" cy="229.4" r="0.70" fill="#8a7bbd" fill-opacity="0.59"/>
<circle cx="512.3" cy="264.0" r="3.24" fill="#8a7bbd" fill-opacity="0.65"/>
<circle cx="501.4" cy="238.2" r="1.98" fill="#8a7bbd" fill-opacity="0.52"/>
<circle cx="562.0" cy="220.4" r="2.84" fill="#8a7bbd" fill-opacity="0.68"/>
<circle cx="512.5" cy="258.1" r="0.73" fill="#8a7bbd" fill-opacity="0.64"/>
<circle cx="545.1" cy="246.1" r="0.82" fill="#8a7bbd" fill-opacity="0.54"/>
<circle cx="527.3" cy="250.9" r="0.70" fill="#8a7bbd" fill-opacity="0.54"/>
<circle cx="554.1" cy="256.6" r="0.70" fill="#8a7bbd" fill-opacity="0.69"/>
<circle cx="520.1" cy="229.7" r="0.88" fill="#8a7bbd" fill-opacity="0.58"/>
<circle cx="522.7" cy="253.6" r="2.72" fill="#8a7bbd" fill-opacity="0.72"/>
<circle cx="505.0" cy="247.5" r="0.72" fill="#8a7bbd" fill-opacity="0.53"/>
<circle cx="521.0" cy="260.1" r="2.62" fill="#8a7bbd" fill-opacity="0.54"/>
<circle cx="571.6" cy="246.9" r="1.48" fill="#8a7bbd" fill-opacity="0.54"/>
<circle cx="525.1" cy="239.0" r="1.48" fill="#8a7bbd" fill-opacity="0.72"/>
<circle cx="555.5" cy="215.7" r="0.89" fill="#8a7bbd" fill-opacity="0.58"/>
<circle cx="551.0" cy="271.9" r="1.49" fill="#8a7bbd" fill-opacity="0.67"/>
<circle cx="523.3" cy="259.7" r="2.54" fill="#8a7bbd" fill-opacity="0.72"/>
<circle cx="555.0" cy="212.6" r="2.58" fill="#8a7bbd" fill-opacity="0.66"/>
<circle cx="537.7" cy="270.8" r="1.05" fill="#8a7bbd" fill-opacity="0.51"/>
<circle cx="556.1" cy="245.3" r="0.89" fill="#8a7bbd" fill-opacity="0.65"/>
<circle cx="560.4" cy="233.7" r="3.16" fill="#8a7bbd" fill-opacity="0.72"/>
<circle cx="558.2" cy="234.1" r="0.84" fill="#8a7bbd" fill-opacity="0.55"/>
<circle cx="540.0" cy="260.4" r="1.79" fill="#8a7bbd" fill-opacity="0.70"/>
<circle cx="549.0" cy="216.9" r="1.89" fill="#8a7bbd" fill-opacity="0.68"/>
<circle cx="561.9" cy="258.1" r="3.02" fill="#8a7bbd" fill-opacity="0.67"/>
<circle cx="533.4" cy="212.4" r="0.79" fill="#8a7bbd" fill-opacity="0.67"/>
<circle cx="515.6" cy="272.5" r="3.34" fill="#8a7bbd" fill-opacity="0.59"/>
<circle cx="502.1" cy="263.7" r="2.11" fill="#8a7bbd" fill-opacity="0.54"/>
<circle cx="545.8" cy="254.1" r="2.99" fill="#8a7bbd" fill-opacity="0.68"/>
<circle cx="555.5" cy="270.2" r="3.39" fill="#8a7bbd" fill-opacity="0.65"/>
<circle cx="515.3" cy="266.0" r="0.75" fill="#8a7bbd" fill-opacity="0.51"/>
<circle cx="565.7" cy="235.3" r="1.48" fill="#8a7bbd" fill-opacity="0.71"/>
<circle cx="499.4" cy="256.3" r="2.61" fill="#8a7bbd" fill-opacity="0.55"/>
<circle cx="533.1" cy="264.8" r="0.86" fill="#8a7bbd" fill-opacity="0.63"/>
<circle cx="531.8" cy="268.6" r="0.75" fill="#8a7bbd" fill-opacity="0.70"/>
<circle cx="516.2" cy="263.9" r="1.65" fill="#8a7bbd" fill-opacity="0.70"/>
<circle cx="500.0" cy="259.5" r="1.40" fill="#8a7bbd" fill-opacity="0.62"/>
<circle cx="526.1" cy="240.2" r="1.24" fill="#8a7bbd" fill-opacity="0.54"/>
<circle cx="569.2" cy="242.2" r="0.78" fill="#8a7bbd" fill-opacity="0.61"/>
<circle cx="528.6" cy="210.9" r="1.00" fill="#8a7bbd" fill-opacity="0.62"/>
<circle cx="500.0" cy="229.2" r="0.73" fill="#8a7bbd" fill-opacity="0.63"/>
<circle cx="533.6" cy="264.3" r="2.37" fill="#8a7bbd" fill-opacity="0.61"/>
<circle cx="500.9" cy="228.0" r="3.03" fill="#8a7bbd" fill-opacity="0.60"/>
<circle cx="510.9" cy="222.1" r="1.43" fill="#8a7bbd" fill-opacity="0.65"/>
<circle cx="504.5" cy="250.2" r="1.34" fill="#8a7bbd" fill-opacity="0.71"/>
<circle cx="521.7" cy="205.9" r="3.19" fill="#8a7bbd" fill-opacity="0.56"/>
<circle cx="497.6" cy="227.3" r="2.17" fill="#8a7bbd" fill-opacity="0.53"/>
<circle cx="553.6" cy="260.6" r="0.71" fill="#8a7bbd" fill-opacity="0.56"/>
<circle cx="563.2" cy="256.1" r="2.42" fill="#8a7bbd" fill-opacity="0.70"/>
<circle cx="552.7" cy="269.5" r="1.92" fill="#8a7bbd" fill-opacity="0.53"/>
<circle cx="562.2" cy="215.2" r="0.84" fill="#8a7bbd" fill-opacity="0.71"/>
<circle cx="510.0" cy="258.7" r="3.44" fill="#8a7bbd" fill-opacity="0.68"/>
<circle cx="548.0" cy="264.8" r="1.44" fill="#8a7bbd" fill-opacity="0.58"/>
<circle cx="541.5" cy="264.3" r="2.16" fill="#8a7bbd" fill-opacity="0.51"/>
<circle cx="507.1" cy="232.0" r="0.70" fill="#8a7bbd" fill-opacity="0.58"/>
<circle cx="512.2" cy="220.4" r="0.71" fill="#8a7bbd" fill-opacity="0.72"/>
<circle cx="542.7" cy="203.5" r="0.73" fill="#8a7bbd" fill-opacity="0.56"/>
<circle cx="567.8" cy="250.0" r="0.90" fill="#8a7bbd" fill-opacity="0.53"/>
<circle cx="500.0" cy="259.1" r="2.58" fill="#8a7bbd" fill-opacity="0.56"/>
<circle cx="555.9" cy="272.0" r="1.61" fill="#8a7bbd" fill-opacity="0.66"/>
<circle cx="543.4" cy="247.6" r="2.03" fill="#8a7bbd" fill-opacity="0.60"/>
<circle cx="567.8" cy="258.2" r="1.83" fill="#8a7bbd" fill-opacity="0.68"/>
<circle cx="565.3" cy="259.8" r="0.71" fill="#8a7bbd" fill-opacity="0.69"/>
<circle cx="509.4" cy="248.5" r="1.56" fill="#8a7bbd" fill-opacity="0.70"/>
<circle cx="531.5" cy="257.9" r="1.48" fill="#8a7bbd" fill-opacity="0.56"/>
<circle cx="547.5" cy="252.9" r="0.71" fill="#8a7bbd" fill-opacity="0.55"/>
<circle cx="524.3" cy="263.4" r="2.32" fill="#8a7bbd" fill-opacity="0.57"/>
<circle cx="514.3" cy="241.3" r="1.04" fill="#8a7bbd" fill-opacity="0.51"/>
<circle cx="533.4" cy="248.1" r="2.20" fill="#8a7bbd" fill-opacity="0.62"/>
<circle cx="544.1" cy="268.0" r="3.15" fill="#8a7bbd" fill-opacity="0.53"/>
<circle cx="545.0" cy="216.2" r="1.39" fill="#8a7bbd" fill-opacity="0.68"/>
<circle cx="510.2" cy="259.7" r="2.02" fill="#8a7bbd" fill-opacity="0.72"/>
<circle cx="513.3" cy="271.7" r="2.10" fill="#8a7bbd" fill-opacity="0.64"/>
<circle cx="512.5" cy="255.5" r="0.71" fill="#8a7bbd" fill-opacity="0.53"/>
<circle cx="564.7" cy="256.2" r="0.88" fill="#8a7bbd" fill-opacity="0.54"/>
<circle cx="565.0" cy="259.8" r="2.82" fill="#8a7bbd" fill-opacity="0.65"/>
<circle cx="529.1" cy="262.6" r="0.94" fill="#8a7bbd" fill-opacity="0.60"/>
<circle cx="548.8" cy="264.7" r="0.89" fill="#8a7bbd" fill-opacity="0.71"/>
<circle cx="563.5" cy="236.1" r="0.87" fill="#8a7bbd" fill-opacity="0.71"/>
<circle cx="524.1" cy="265.1" r="0.70" fill="#8a7bbd" fill-opacity="0.59"/>
<circle cx="504.3" cy="246.0" r="0.81" fill="#8a7bbd" fill-opacity="0.61"/>
<circle cx="555.9" cy="242.0" r="0.72" fill="#8a7bbd" fill-opacity="0.59"/>
<circle cx="541.1" cy="243.4" r="0.96" fill="#8a7bbd" fill-opacity="0.55"/>
<circle cx="507.5" cy="225.9" r="2.28" fill="#8a7bbd" fill-opacity="0.65"/>
<circle cx="525.5" cy="204.8" r="1.12" fill="#8a7bbd" fill-opacity="0.57"/>
<circle cx="551.0" cy="239.6" r="2.17" fill="#8a7bbd" fill-opacity="0.64"/>
<circle cx="568.5" cy="251.2" r="2.93" fill="#8a7bbd" fill-opacity="0.64"/>
<circle cx="529.7" cy="205.4" r="0.75" fill="#8a7bbd" fill-opacity="0.62"/>
<circle cx="496.9" cy="240.3" r="2.51" fill="#8a7bbd" fill-opacity="0.68"/>
<circle cx="501.0" cy="222.4" r="2.01" fill="#8a7bbd" fill-opacity="0.65"/>
<circle cx="534.6" cy="250.4" r="0.75" fill="#8a7bbd" fill-opacity="0.58"/>
<circle cx="562.3" cy="263.7" r="1.57" fill="#8a7bbd" fill-opacity="0.64"/>
<circle cx="509.9" cy="217.4" r="1.37" fill="#8a7bbd" fill-opacity="0.50"/>
<circle cx="543.7" cy="208.0" r="1.41" fill="#8a7bbd" fill-opacity="0.62"/>
<circle cx="526.6" cy="230.7" r="2.22" fill="#8a7bbd" fill-opacity="0.56"/>
<circle cx="553.5" cy="251.5" r="2.19" fill="#8a7bbd" fill-opacity="0.55"/>
<circle cx="530.9" cy="202.4" r="1.38" fill="#8a7bbd" fill-opacity="0.59"/>
<circle cx="500.1" cy="245.7" r="2.35" fill="#8a7bbd" fill-opacity="0.64"/>
<circle cx="525.0" cy="230.8" r="0.76" fill="#8a7bbd" fill-opacity="0.56"/>
<circle cx="532.4" cy="217.4" r="1.60" fill="#8a7bbd" fill-opacity="0.51"/>
<circle cx="554.5" cy="249.7" r="1.96" fill="#8a7bbd" fill-opacity="0.65"/>
<circle cx="522.8" cy="220.4" r="1.45" fill="#8a7bbd" fill-opacity="0.60"/>
<circle cx="517.7" cy="244.7" r="2.94" fill="#8a7bbd" fill-opacity="0.55"/>
<circle cx="571.3" cy="236.1" r="0.70" fill="#8a7bbd" fill-opacity="0.60"/>
<circle cx="549.9" cy="206.1" r="1.27" fill="#8a7bbd" fill-opacity="0.56"/>
<circle cx="543.0" cy="278.5" r="0.82" fill="#8a7bbd" fill-opacity="0.63"/>
<circle cx="552.3" cy="264.6" r="3.24" fill="#8a7bbd" fill-opacity="0.53"/>
<circle cx="546.1" cy="214.5" r="2.90" fill="#8a7bbd" fill-opacity="0.66"/>
<circle cx="537.8" cy="278.7" r="1.36" fill="#8a7bbd" fill-opacity="0.51"/>
<circle cx="562.6" cy="242.0" r="1.27" fill="#8a7bbd" fill-opacity="0.57"/>
<circle cx="549.3" cy="260.8" r="0.98" fill="#8a7bbd" fill-opacity="0.69"/>
<circle cx="568.3" cy="241.7" r="2.67" fill="#8a7bbd" fill-opacity="0.53"/>
<circle cx="564.0" cy="226.1" r="2.98" fill="#8a7bbd" fill-opacity="0.57"/>
<circle cx="514.9" cy="260.4" r="3.49" fill="#8a7bbd" fill-opacity="0.63"/>
<circle cx="515.7" cy="262.5" r="0.91" fill="#8a7bbd" fill-opacity="0.51"/>
<circle cx="562.7" cy="263.1" r="0.93" fill="#8a7bbd" fill-opacity="0.71"/>
<circle cx="533.5" cy="263.9" r="1.43" fill="#8a7bbd" fill-opacity="0.55"/>
<circle cx="506.4" cy="268.9" r="1.95" fill="#8a7bbd" fill-opacity="0.68"/>
<circle cx="507.6" cy="213.5" r="2.69" fill="#8a7bbd" fill-opacity="0.62"/>
<circle cx="531.3" cy="230.4" r="2.20" fill="#8a7bbd" fill-opacity="0.60"/>
<circle cx="533.9" cy="208.6" r="0.93" fill="#8a7bbd" fill-opacity="0.51"/>
<circle cx="548.2" cy="233.9" r="1.32" fill="#8a7bbd" fill-opacity="0.58"/>
<circle cx="523.1" cy="274.4" r="3.37" fill="#8a7bbd" fill-opacity="0.56"/>
<circle cx="520.2" cy="221.5" r="1.57" fill="#8a7bbd" fill-opacity="0.59"/>
<circle cx="542.5" cy="257.2" r="0.82" fill="#8a7bbd" fill-opacity="0.70"/>
<circle cx="512.6" cy="241.7" r="3.00" fill="#8a7bbd" fill-opacity="0.72"/>
<circle cx="517.0" cy="246.6" r="0.80" fill="#8a7bbd" fill-opacity="0.52"/>
<circle cx="525.5" cy="253.4" r="0.86" fill="#8a7bbd" fill-opacity="0.56"/>
<circle cx="499.5" cy="225.4" r="2.27" fill="#8a7bbd" fill-opacity="0.59"/>
<circle cx="507.7" cy="256.8" r="1.10" fill="#8a7bbd" fill-opacity="0.58"/>
<circle cx="554.7" cy="250.0" r="3.32" fill="#8a7bbd" fill-opacity="0.53"/>
<circle cx="501.0" cy="240.6" r="2.78" fill="#8a7bbd" fill-opacity="0.55"/>
<circle cx="530.5" cy="263.1" r="1.15" fill="#8a7bbd" fill-opacity="0.60"/>
<circle cx="568.6" cy="230.8" r="2.83" fill="#8a7bbd" fill-opacity="0.51"/>
<circle cx="566.8" cy="248.2" r="2.95" fill="#8a7bbd" fill-opacity="0.61"/>
<circle cx="532.5" cy="240.8" r="1.13" fill="#8a7bbd" fill-opacity="0.70"/>
<circle cx="550.3" cy="208.5" r="3.35" fill="#8a7bbd" fill-opacity="0.56"/>
<circle cx="547.3" cy="252.7" r="1.46" fill="#8a7bbd" fill-opacity="0.65"/>
<circle cx="565.4" cy="229.0" r="1.87" fill="#8a7bbd" fill-opacity="0.67"/>
<circle cx="503.8" cy="249.4" r="0.70" fill="#8a7bbd" fill-opacity="0.67"/>
<circle cx="537.6" cy="279.1" r="1.87" fill="#8a7bbd" fill-opacity="0.57"/>
<circle cx="548.7" cy="257.2" r="1.83" fill="#8a7bbd" fill-opacity="0.65"/>
<circle cx="543.2" cy="249.7" r="1.47" fill="#8a7bbd" fill-opacity="0.63"/>
<circle cx="517.4" cy="254.9" r="1.71" fill="#8a7bbd" fill-opacity="0.51"/>
<circle cx="524.4" cy="268.3" r="3.27" fill="#8a7bbd" fill-opacity="0.64"/>
<circle cx="554.9" cy="222.1" r="0.85" fill="#8a7bbd" fill-opacity="0.56"/>
<circle cx="566.4" cy="233.0" r="0.96" fill="#8a7bbd" fill-opacity="0.51"/>
<circle cx="500.0" cy="241.7" r="1.19" fill="#8a7bbd" fill-opacity="0.56"/>
<circle cx="514.5" cy="208.2" r="0.84" fill="#8a7bbd" fill-opacity="0.51"/>
<circle cx="519.0" cy="264.6" r="2.00" fill="#8a7bbd" fill-opacity="0.55"/>
<circle cx="543.5" cy="208.1" r="1.41" fill="#8a7bbd" fill-opacity="0.55"/>
<circle cx="557.1" cy="236.8" r="2.58" fill="#8a7bbd" fill-opacity="0.55"/>
<circle cx="539.7" cy="275.8" r="0.94" fill="#8a7bbd" fill-opacity="0.71"/>
<circle cx="513.9" cy="241.8" r="0.84" fill="#8a7bbd" fill-opacity="0.59"/>
<circle cx="513.9" cy="208.1" r="0.76" fill="#8a7bbd" fill-opacity="0.59"/>
<circle cx="542.4" cy="279.2" r="0.76" fill="#8a7bbd" fill-opacity="0.52"/>
<circle cx="558.1" cy="251.1" r="2.96" fill="#8a7bbd" fill-opacity="0.69"/>
<circle cx="529.1" cy="202.2" r="1.26" fill="#8a7bbd" fill-opacity="0.58"/>
<circle cx="548.5" cy="276.5" r="2.26" fill="#8a7bbd" fill-opacity="0.51"/>
<circle cx="520.0" cy="218.8" r="1.09" fill="#8a7bbd" fill-opacity="0.58"/>
<circle cx="535.0" cy="244.2" r="0.92" fill="#8a7bbd" fill-opacity="0.58"/>
<circle cx="549.1" cy="236.8" r="3.30" fill="#8a7bbd" fill-opacity="0.55"/>
<circle cx="510.9" cy="269.7" r="2.59" fill="#8a7bbd" fill-opacity="0.60"/>
<circle cx="560.8" cy="250.1" r="1.09" fill="#8a7bbd" fill-opacity="0.70"/>
<circle cx="542.4" cy="265.4" r="2.95" fill="#8a7bbd" fill-opacity="0.51"/>
<circle cx="502.8" cy="260.5" r="2.35" fill="#8a7bbd" fill-opacity="0.51"/>
<circle cx="545.4" cy="244.0" r="3.07" fill="#8a7bbd" fill-opacity="0.56"/>
<circle cx="532.8" cy="203.7" r="1.02" fill="#8a7bbd" fill-opacity="0.56"/>
<circle cx="564.4" cy="232.9" r="0.89" fill="#8a7bbd" fill-opacity="0.66"/>
<circle cx="524.1" cy="262.3" r="0.70" fill="#8a7bbd" fill-opacity="0.67"/>
<circle cx="561.5" cy="225.0" r="3.19" fill="#8a7bbd" fill-opacity="0.51"/>
<circle cx="536.3" cy="270.0" r="3.26" fill="#8a7bbd" fill-opacity="0.71"/>
<circle cx="516.7" cy="255.7" r="1.22" fill="#8a7bbd" fill-opacity="0.61"/>
<circle cx="550.8" cy="232.9" r="2.50" fill="#8a7bbd" fill-opacity="0.66"/>
<circle cx="549.0" cy="209.6" r="1.73" fill="#8a7bbd" fill-opacity="0.57"/>
<circle cx="522.5" cy="264.6" r="2.41" fill="#8a7bbd" fill-opacity="0.52"/>
<circle cx="544.8" cy="274.4" r="0.87" fill="#8a7bbd" fill-opacity="0.52"/>
<circle cx="563.4" cy="247.8" r="1.00" fill="#8a7bbd" fill-opacity="0.72"/>
<circle cx="562.5" cy="215.1" r="0.90" fill="#8a7bbd" fill-opacity="0.52"/>
<circle cx="557.6" cy="258.0" r="2.11" fill="#8a7bbd" fill-opacity="0.60"/>
<circle cx="536.1" cy="268.4" r="1.78" fill="#8a7bbd" fill-opacity="0.65"/>
<circle cx="532.9" cy="204.6" r="1.94" fill="#8a7bbd" fill-opacity="0.53"/>
<circle cx="546.1" cy="221.5" r="1.60" fill="#8a7bbd" fill-opacity="0.58"/>
<circle cx="531.9" cy="221.4" r="0.87" fill="#8a7bbd" fill-opacity="0.56"/>
<circle cx="554.7" cy="272.0" r="1.64" fill="#8a7bbd" fill-opacity="0.57"/>
<circle cx="502.2" cy="265.2" r="1.34" fill="#8a7bbd" fill-opacity="0.55"/>
<circle cx="545.2" cy="210.6" r="3.45" fill="#8a7bbd" fill-opacity="0.53"/>
<circle cx="497.6" cy="247.0" r="2.68" fill="#8a7bbd" fill-opacity="0.70"/>
<circle cx="556.2" cy="247.2" r="0.74" fill="#8a7bbd" fill-opacity="0.54"/>
<circle cx="564.3" cy="236.0" r="3.12" fill="#8a7bbd" fill-opacity="0.58"/>
<circle cx="552.2" cy="220.3" r="0.89" fill="#8a7bbd" fill-opacity="0.67"/>
<circle cx="547.8" cy="236.2" r="1.70" fill="#8a7bbd" fill-opacity="0.64"/>
<circle cx="538.6" cy="266.7" r="0.76" fill="#8a7bbd" fill-opacity="0.55"/>
<circle cx="532.4" cy="273.0" r="1.89" fill="#8a7bbd" fill-opacity="0.55"/>
<circle cx="558.0" cy="243.1" r="1.99" fill="#8a7bbd" fill-opacity="0.54"/>
<circle cx="525.7" cy="260.0" r="2.47" fill="#8a7bbd" fill-opacity="0.62"/>
<circle cx="547.3" cy="247.1" r="1.14" fill="#8a7bbd" fill-opacity="0.62"/>
<circle cx="524.2" cy="230.3" r="0.78" fill="#8a7bbd" fill-opacity="0.65"/>
<circle cx="513.8" cy="253.8" r="0.96" fill="#8a7bbd" fill-opacity="0.71"/>
<circle cx="521.6" cy="270.0" r="1.06" fill="#8a7bbd" fill-opacity="0.59"/>
<circle cx="559.3" cy="211.7" r="1.07" fill="#8a7bbd" fill-opacity="0.55"/>
<circle cx="530.6" cy="221.3" r="0.70" fill="#8a7bbd" fill-opacity="0.70"/>
<circle cx="501.2" cy="258.0" r="1.16" fill="#8a7bbd" fill-opacity="0.69"/>
<circle cx="515.6" cy="245.8" r="0.70" fill="#8a7bbd" fill-opacity="0.62"/>
<circle cx="509.4" cy="212.0" r="0.72" fill="#8a7bbd" fill-opacity="0.64"/>
<circle cx="513.1" cy="262.7" r="0.76" fill="#8a7bbd" fill-opacity="0.57"/>
<circle cx="495.6" cy="236.2" r="0.73" fill="#8a7bbd" fill-opacity="0.61"/>
<circle cx="546.5" cy="204.8" r="0.81" fill="#8a7bbd" fill-opacity="0.53"/>
<circle cx="569.9" cy="227.7" r="1.35" fill="#8a7bbd" fill-opacity="0.52"/>
<circle cx="557.1" cy="229.5" r="2.99" fill="#8a7bbd" fill-opacity="0.64"/>
<circle cx="541.6" cy="225.0" r="2.43" fill="#8a7bbd" fill-opacity="0.55"/>
<circle cx="503.1" cy="262.0" r="2.63" fill="#8a7bbd" fill-opacity="0.54"/>
<circle cx="538.7" cy="267.6" r="1.45" fill="#8a7bbd" fill-opacity="0.59"/>
<circle cx="549.1" cy="256.6" r="2.17" fill="#8a7bbd" fill-opacity="0.70"/>
<circle cx="563.3" cy="249.2" r="2.31" fill="#8a7bbd" fill-opacity="0.51"/>
<circle cx="541.8" cy="227.7" r="1.71" fill="#8a7bbd" fill-opacity="0.62"/>
<circle cx="516.7" cy="224.1" r="1.19" fill="#8a7bbd" fill-opacity="0.63"/>
<circle cx="503.9" cy="256.2" r="1.26" fill="#8a7bbd" fill-opacity="0.60"/>
<circle cx="565.2" cy="246.0" r="1.37" fill="#8a7bbd" fill-opacity="0.55"/>
<circle cx="536.4" cy="205.9" r="1.29" fill="#8a7bbd" fill-opacity="0.54"/>
<circle cx="518.2" cy="243.9" r="0.75" fill="#8a7bbd" fill-opacity="0.60"/>
<circle cx="556.8" cy="256.5" r="1.43" fill="#8a7bbd" fill-opacity="0.51"/>
<circle cx="524.4" cy="230.9" r="2.21" fill="#8a7bbd" fill-opacity="0.67"/>
<circle cx="521.8" cy="240.5" r="1.41" fill="#8a7bbd" fill-opacity="0.59"/>
<circle cx="549.6" cy="236.1" r="2.76" fill="#8a7bbd" fill-opacity="0.72"/>
<circle cx="529.3" cy="205.4" r="0.81" fill="#8a7bbd" fill-opacity="0.72"/>
<circle cx="494.8" cy="243.3" r="1.94" fill="#8a7bbd" fill-opacity="0.54"/>
<circle cx="542.5" cy="204.2" r="0.71" fill="#8a7bbd" fill-opacity="0.58"/>
<circle cx="534.1" cy="223.1" r="2.95" fill="#8a7bbd" fill-opacity="0.56"/>
<circle cx="540.4" cy="225.3" r="1.41" fill="#8a7bbd" fill-opacity="0.70"/>
<circle cx="539.2" cy="263.0" r="1.42" fill="#8a7bbd" fill-opacity="0.57"/>
<circle cx="552.1" cy="245.7" r="0.77" fill="#8a7bbd" fill-opacity="0.71"/>
<circle cx="517.3" cy="207.3" r="0.78" fill="#8a7bbd" fill-opacity="0.67"/>
<circle cx="556.0" cy="261.3" r="1.83" fill="#8a7bbd" fill-opacity="0.58"/>
<circle cx="554.9" cy="219.3" r="1.64" fill="#8a7bbd" fill-opacity="0.69"/>
<circle cx="564.5" cy="265.3" r="1.33" fill="#8a7bbd" fill-opacity="0.59"/>
<circle cx="540.0" cy="219.8" r="3.45" fill="#8a7bbd" fill-opacity="0.63"/>
<circle cx="510.9" cy="268.4" r="1.25" fill="#8a7bbd" fill-opacity="0.54"/>
<circle cx="533.0" cy="230.3" r="2.58" fill="#8a7bbd" fill-opacity="0.56"/>
<circle cx="508.3" cy="211.3" r="1.48" fill="#8a7bbd" fill-opacity="0.65"/>
<circle cx="532.3" cy="243.9" r="0.70" fill="#8a7bbd" fill-opacity="0.54"/>
<circle cx="512.8" cy="222.9" r="1.44" fill="#8a7bbd" fill-opacity="0.70"/>
<circle cx="547.7" cy="256.9" r="1.89" fill="#8a7bbd" fill-opacity="0.51"/>
<circle cx="558.9" cy="241.7" r="0.73" fill="#8a7bbd" fill-opacity="0.58"/>
<circle cx="538.5" cy="272.3" r="1.67" fill="#8a7bbd" fill-opacity="0.55"/>
<circle cx="512.9" cy="221.1" r="0.75" fill="#8a7bbd" fill-opacity="0.71"/>
<circle cx="534.1" cy="259.0" r="0.73" fill="#8a7bbd" fill-opacity="0.64"/>
<circle cx="557.9" cy="215.6" r="1.15" fill="#8a7bbd" fill-opacity="0.56"/>
<circle cx="566.1" cy="243.7" r="1.59" fill="#8a7bbd" fill-opacity="0.58"/>
<circle cx="516.3" cy="219.1" r="3.16" fill="#8a7bbd" fill-opacity="0.66"/>
<circle cx="533.8" cy="279.0" r="0.71" fill="#8a7bbd" fill-opacity="0.62"/>
<circle cx="515.5" cy="253.3" r="0.71" fill="#8a7bbd" fill-opacity="0.67"/>
<circle cx="564.0" cy="243.7" r="3.18" fill="#8a7bbd" fill-opacity="0.53"/>
<circle cx="543.4" cy="271.7" r="1.42" fill="#8a7bbd" fill-opacity="0.64"/>
<circle cx="533.5" cy="325.9" r="40" fill="url(#plate2)"/>
<circle cx="541.0" cy="308.1" r="0.44" fill="#7466be" fill-opacity="0.59"/>
<circle cx="568.8" cy="337.0" r="0.90" fill="#7466be" fill-opacity="0.69"/>
<circle cx="569.7" cy="327.3" r="0.85" fill="#7466be" fill-opacity="0.63"/>
<circle cx="532.0" cy="297.7" r="0.40" fill="#7466be" fill-opacity="0.55"/>
<circle cx="534.7" cy="336.4" r="0.45" fill="#7466be" fill-opacity="0.69"/>
<circle cx="521.2" cy="291.8" r="0.81" fill="#7466be" fill-opacity="0.58"/>
<circle cx="507.2" cy="316.7" r="0.91" fill="#7466be" fill-opacity="0.64"/>
<circle cx="530.4" cy="358.2" r="1.19" fill="#7466be" fill-opacity="0.57"/>
<circle cx="538.8" cy="320.9" r="0.41" fill="#7466be" fill-opacity="0.58"/>
<circle cx="532.0" cy="288.0" r="0.85" fill="#7466be" fill-opacity="0.60"/>
<circle cx="551.6" cy="308.9" r="0.40" fill="#7466be" fill-opacity="0.73"/>
<circle cx="510.7" cy="301.4" r="0.75" fill="#7466be" fill-opacity="0.75"/>
<circle cx="498.0" cy="332.8" r="0.79" fill="#7466be" fill-opacity="0.72"/>
<circle cx="502.0" cy="339.0" r="0.64" fill="#7466be" fill-opacity="0.59"/>
<circle cx="541.1" cy="357.1" r="0.36" fill="#7466be" fill-opacity="0.73"/>
<circle cx="539.1" cy="333.1" r="0.36" fill="#7466be" fill-opacity="0.73"/>
<circle cx="523.5" cy="340.6" r="0.35" fill="#7466be" fill-opacity="0.53"/>
<circle cx="522.1" cy="295.6" r="0.79" fill="#7466be" fill-opacity="0.69"/>
<circle cx="562.3" cy="338.5" r="0.47" fill="#7466be" fill-opacity="0.71"/>
<circle cx="549.2" cy="292.3" r="0.35" fill="#7466be" fill-opacity="0.72"/>
<circle cx="566.1" cy="306.5" r="0.36" fill="#7466be" fill-opacity="0.57"/>
<circle cx="541.2" cy="332.4" r="1.00" fill="#7466be" fill-opacity="0.71"/>
<circle cx="509.6" cy="299.1" r="0.71" fill="#7466be" fill-opacity="0.59"/>
<circle cx="545.9" cy="334.9" r="0.87" fill="#7466be" fill-opacity="0.57"/>
<circle cx="521.9" cy="350.9" r="0.35" fill="#7466be" fill-opacity="0.58"/>
<circle cx="526.6" cy="359.1" r="0.47" fill="#7466be" fill-opacity="0.60"/>
<circle cx="562.2" cy="319.3" r="1.00" fill="#7466be" fill-opacity="0.66"/>
<circle cx="560.2" cy="331.2" r="0.52" fill="#7466be" fill-opacity="0.70"/>
<circle cx="514.2" cy="353.6" r="0.61" fill="#7466be" fill-opacity="0.57"/>
<circle cx="543.1" cy="314.6" r="0.95" fill="#7466be" fill-opacity="0.56"/>
<circle cx="554.0" cy="326.1" r="0.87" fill="#7466be" fill-opacity="0.75"/>
<circle cx="562.7" cy="326.7" r="0.57" fill="#7466be" fill-opacity="0.70"/>
<circle cx="545.2" cy="352.7" r="0.46" fill="#7466be" fill-opacity="0.71"/>
<circle cx="531.0" cy="363.7" r="0.42" fill="#7466be" fill-opacity="0.57"/>
<circle cx="524.3" cy="298.0" r="0.36" fill="#7466be" fill-opacity="0.67"/>
<circle cx="564.3" cy="343.1" r="0.79" fill="#7466be" fill-opacity="0.70"/>
<circle cx="515.7" cy="307.4" r="0.49" fill="#7466be" fill-opacity="0.61"/>
<circle cx="544.7" cy="316.7" r="1.06" fill="#7466be" fill-opacity="0.53"/>
<circle cx="539.7" cy="347.8" r="1.08" fill="#7466be" fill-opacity="0.64"/>
<circle cx="506.7" cy="351.3" r="0.40" fill="#7466be" fill-opacity="0.63"/>
<circle cx="499.5" cy="319.1" r="0.86" fill="#7466be" fill-opacity="0.67"/>
<circle cx="519.1" cy="346.1" r="0.37" fill="#7466be" fill-opacity="0.71"/>
<circle cx="515.4" cy="296.6" r="0.38" fill="#7466be" fill-opacity="0.62"/>
<circle cx="538.1" cy="295.1" r="0.36" fill="#7466be" fill-opacity="0.63"/>
<circle cx="549.9" cy="311.5" r="0.38" fill="#7466be" fill-opacity="0.59"/>
<circle cx="523.0" cy="291.2" r="0.37" fill="#7466be" fill-opacity="0.56"/>
<circle cx="533.9" cy="350.7" r="0.60" fill="#7466be" fill-opacity="0.56"/>
<circle cx="524.1" cy="343.5" r="1.21" fill="#7466be" fill-opacity="0.69"/>
<circle cx="564.2" cy="348.7" r="0.36" fill="#7466be" fill-opacity="0.61"/>
<circle cx="568.7" cy="322.3" r="0.83" fill="#7466be" fill-opacity="0.62"/>
<circle cx="544.3" cy="356.5" r="0.36" fill="#7466be" fill-opacity="0.57"/>
<circle cx="525.8" cy="332.4" r="0.49" fill="#7466be" fill-opacity="0.70"/>
<circle cx="523.3" cy="298.3" r="0.71" fill="#7466be" fill-opacity="0.63"/>
<circle cx="553.4" cy="350.6" r="0.50" fill="#7466be" fill-opacity="0.69"/>
<circle cx="556.7" cy="310.8" r="0.65" fill="#7466be" fill-opacity="0.69"/>
<circle cx="514.6" cy="336.1" r="0.82" fill="#7466be" fill-opacity="0.72"/>
<circle cx="538.6" cy="292.6" r="1.00" fill="#7466be" fill-opacity="0.68"/>
<circle cx="515.7" cy="303.9" r="0.44" fill="#7466be" fill-opacity="0.67"/>
<circle cx="555.9" cy="341.7" r="0.90" fill="#7466be" fill-opacity="0.69"/>
<circle cx="518.2" cy="309.7" r="0.51" fill="#7466be" fill-opacity="0.63"/>
<circle cx="513.9" cy="307.1" r="0.76" fill="#7466be" fill-opacity="0.73"/>
<circle cx="546.9" cy="355.8" r="0.90" fill="#7466be" fill-opacity="0.61"/>
<circle cx="495.2" cy="328.3" r="0.35" fill="#7466be" fill-opacity="0.65"/>
<circle cx="552.2" cy="355.7" r="1.15" fill="#7466be" fill-opacity="0.64"/>
<circle cx="558.5" cy="344.3" r="0.61" fill="#7466be" fill-opacity="0.69"/>
<circle cx="501.2" cy="323.4" r="0.97" fill="#7466be" fill-opacity="0.64"/>
<circle cx="501.4" cy="346.2" r="0.39" fill="#7466be" fill-opacity="0.68"/>
<circle cx="506.3" cy="347.7" r="0.36" fill="#7466be" fill-opacity="0.75"/>
<circle cx="525.9" cy="335.6" r="0.42" fill="#7466be" fill-opacity="0.61"/>
<circle cx="560.8" cy="328.2" r="0.51" fill="#7466be" fill-opacity="0.68"/>
<circle cx="519.8" cy="344.2" r="0.40" fill="#7466be" fill-opacity="0.69"/>
<circle cx="561.4" cy="314.8" r="0.39" fill="#7466be" fill-opacity="0.71"/>
<circle cx="517.3" cy="339.0" r="0.37" fill="#7466be" fill-opacity="0.70"/>
<circle cx="545.3" cy="295.8" r="0.55" fill="#7466be" fill-opacity="0.65"/>
<circle cx="539.2" cy="363.7" r="0.46" fill="#7466be" fill-opacity="0.67"/>
<circle cx="548.5" cy="293.4" r="0.55" fill="#7466be" fill-opacity="0.59"/>
<circle cx="517.4" cy="320.9" r="0.98" fill="#7466be" fill-opacity="0.60"/>
<circle cx="547.0" cy="307.4" r="0.48" fill="#7466be" fill-opacity="0.58"/>
<circle cx="515.8" cy="334.8" r="0.35" fill="#7466be" fill-opacity="0.69"/>
<circle cx="529.2" cy="347.6" r="0.43" fill="#7466be" fill-opacity="0.63"/>
<circle cx="504.3" cy="340.0" r="0.74" fill="#7466be" fill-opacity="0.61"/>
<circle cx="566.3" cy="310.1" r="0.35" fill="#7466be" fill-opacity="0.71"/>
<circle cx="562.7" cy="306.3" r="0.37" fill="#7466be" fill-opacity="0.71"/>
<circle cx="528.7" cy="320.5" r="0.35" fill="#7466be" fill-opacity="0.74"/>
<circle cx="521.1" cy="307.4" r="0.36" fill="#7466be" fill-opacity="0.56"/>
<circle cx="537.1" cy="360.8" r="0.46" fill="#7466be" fill-opacity="0.56"/>
<circle cx="562.6" cy="305.9" r="0.38" fill="#7466be" fill-opacity="0.73"/>
<circle cx="506.2" cy="303.8" r="0.75" fill="#7466be" fill-opacity="0.73"/>
<circle cx="542.1" cy="290.8" r="0.39" fill="#7466be" fill-opacity="0.68"/>
<circle cx="499.7" cy="319.3" r="0.52" fill="#7466be" fill-opacity="0.72"/>
<circle cx="512.1" cy="318.2" r="0.40" fill="#7466be" fill-opacity="0.56"/>
<circle cx="521.1" cy="326.4" r="0.55" fill="#7466be" fill-opacity="0.56"/>
<circle cx="504.2" cy="327.5" r="0.61" fill="#7466be" fill-opacity="0.72"/>
<circle cx="569.7" cy="327.4" r="0.55" fill="#7466be" fill-opacity="0.65"/>
<circle cx="515.1" cy="294.7" r="0.48" fill="#7466be" fill-opacity="0.62"/>
<circle cx="546.9" cy="322.5" r="0.72" fill="#7466be" fill-opacity="0.67"/>
<circle cx="564.8" cy="331.6" r="0.77" fill="#7466be" fill-opacity="0.73"/>
<circle cx="514.8" cy="359.6" r="0.58" fill="#7466be" fill-opacity="0.63"/>
<circle cx="541.5" cy="319.9" r="0.81" fill="#7466be" fill-opacity="0.67"/>
<circle cx="514.2" cy="356.9" r="0.47" fill="#7466be" fill-opacity="0.63"/>
<circle cx="499.0" cy="320.3" r="0.39" fill="#7466be" fill-opacity="0.62"/>
<circle cx="506.4" cy="340.3" r="0.97" fill="#7466be" fill-opacity="0.59"/>
<circle cx="546.2" cy="302.1" r="0.58" fill="#7466be" fill-opacity="0.59"/>
<circle cx="495.1" cy="324.4" r="0.74" fill="#7466be" fill-opacity="0.70"/>
<circle cx="521.6" cy="347.3" r="0.43" fill="#7466be" fill-opacity="0.66"/>
<circle cx="510.2" cy="299.5" r="0.35" fill="#7466be" fill-opacity="0.69"/>
<circle cx="556.4" cy="305.9" r="0.35" fill="#7466be" fill-opacity="0.59"/>
<circle cx="553.5" cy="326.7" r="1.11" fill="#7466be" fill-opacity="0.66"/>
<circle cx="514.2" cy="296.3" r="1.09" fill="#7466be" fill-opacity="0.66"/>
<circle cx="509.6" cy="304.4" r="0.79" fill="#7466be" fill-opacity="0.66"/>
<circle cx="524.7" cy="307.0" r="0.75" fill="#7466be" fill-opacity="0.63"/>
<circle cx="534.7" cy="310.4" r="0.38" fill="#7466be" fill-opacity="0.53"/>
<circle cx="539.2" cy="288.9" r="0.74" fill="#7466be" fill-opacity="0.61"/>
<circle cx="549.0" cy="294.3" r="0.63" fill="#7466be" fill-opacity="0.58"/>
<circle cx="524.7" cy="351.9" r="0.44" fill="#7466be" fill-opacity="0.62"/>
<circle cx="509.8" cy="296.5" r="0.35" fill="#7466be" fill-opacity="0.65"/>
<circle cx="549.5" cy="330.0" r="0.94" fill="#7466be" fill-opacity="0.65"/>
<circle cx="558.0" cy="312.1" r="0.35" fill="#7466be" fill-opacity="0.61"/>
<circle cx="501.8" cy="305.2" r="1.22" fill="#7466be" fill-opacity="0.63"/>
<circle cx="520.2" cy="334.0" r="0.72" fill="#7466be" fill-opacity="0.57"/>
<circle cx="537.7" cy="331.9" r="0.35" fill="#7466be" fill-opacity="0.68"/>
<circle cx="561.1" cy="352.4" r="0.36" fill="#7466be" fill-opacity="0.72"/>
<circle cx="538.8" cy="331.5" r="0.82" fill="#7466be" fill-opacity="0.58"/>
<circle cx="531.5" cy="306.1" r="0.35" fill="#7466be" fill-opacity="0.70"/>
<circle cx="525.2" cy="290.4" r="0.83" fill="#7466be" fill-opacity="0.54"/>
<circle cx="510.1" cy="301.4" r="0.54" fill="#7466be" fill-opacity="0.73"/>
<circle cx="532.5" cy="364.1" r="0.81" fill="#7466be" fill-opacity="0.53"/>
<circle cx="566.0" cy="328.9" r="0.95" fill="#7466be" fill-opacity="0.54"/>
<circle cx="520.7" cy="357.6" r="0.37" fill="#7466be" fill-opacity="0.72"/>
<circle cx="521.0" cy="327.0" r="0.47" fill="#7466be" fill-opacity="0.65"/>
<circle cx="502.7" cy="338.4" r="0.37" fill="#7466be" fill-opacity="0.70"/>
<circle cx="512.2" cy="350.6" r="0.71" fill="#7466be" fill-opacity="0.62"/>
<circle cx="507.0" cy="349.1" r="1.15" fill="#7466be" fill-opacity="0.70"/>
<circle cx="511.8" cy="316.2" r="0.35" fill="#7466be" fill-opacity="0.74"/>
<circle cx="523.1" cy="291.5" r="0.45" fill="#7466be" fill-opacity="0.66"/>
<circle cx="569.2" cy="320.8" r="0.68" fill="#7466be" fill-opacity="0.59"/>
<circle cx="500.2" cy="342.0" r="0.48" fill="#7466be" fill-opacity="0.68"/>
<circle cx="503.7" cy="303.7" r="0.94" fill="#7466be" fill-opacity="0.59"/>
<circle cx="556.2" cy="326.1" r="0.51" fill="#7466be" fill-opacity="0.66"/>
<circle cx="548.4" cy="292.0" r="0.35" fill="#7466be" fill-opacity="0.71"/>
<circle cx="547.4" cy="292.0" r="0.64" fill="#7466be" fill-opacity="0.59"/>
<circle cx="554.6" cy="297.2" r="0.77" fill="#7466be" fill-opacity="0.73"/>
<circle cx="525.2" cy="337.8" r="0.63" fill="#7466be" fill-opacity="0.70"/>
<circle cx="544.1" cy="358.8" r="1.13" fill="#7466be" fill-opacity="0.58"/>
<circle cx="507.5" cy="305.2" r="0.54" fill="#7466be" fill-opacity="0.57"/>
<circle cx="532.5" cy="360.5" r="0.91" fill="#7466be" fill-opacity="0.63"/>
<circle cx="563.8" cy="344.5" r="0.89" fill="#7466be" fill-opacity="0.58"/>
<circle cx="500.9" cy="308.1" r="1.06" fill="#7466be" fill-opacity="0.64"/>
<circle cx="502.4" cy="330.5" r="0.38" fill="#7466be" fill-opacity="0.57"/>
<circle cx="547.7" cy="356.4" r="0.47" fill="#7466be" fill-opacity="0.65"/>
<circle cx="509.1" cy="343.0" r="0.37" fill="#7466be" fill-opacity="0.54"/>
<circle cx="559.7" cy="325.4" r="0.36" fill="#7466be" fill-opacity="0.67"/>
<circle cx="537.8" cy="307.9" r="0.67" fill="#7466be" fill-opacity="0.60"/>
<circle cx="525.4" cy="324.9" r="0.35" fill="#7466be" fill-opacity="0.75"/>
<circle cx="552.9" cy="304.2" r="0.64" fill="#7466be" fill-opacity="0.58"/>
<circle cx="538.5" cy="298.8" r="1.16" fill="#7466be" fill-opacity="0.70"/>
<circle cx="549.5" cy="291.2" r="0.41" fill="#7466be" fill-opacity="0.53"/>
<circle cx="539.4" cy="344.6" r="0.36" fill="#7466be" fill-opacity="0.54"/>
<circle cx="499.2" cy="313.0" r="0.54" fill="#7466be" fill-opacity="0.74"/>
<circle cx="544.4" cy="319.0" r="0.67" fill="#7466be" fill-opacity="0.61"/>
<circle cx="561.3" cy="352.0" r="0.41" fill="#7466be" fill-opacity="0.65"/>
<circle cx="509.3" cy="296.4" r="0.75" fill="#7466be" fill-opacity="0.61"/>
<circle cx="515.8" cy="331.8" r="1.19" fill="#7466be" fill-opacity="0.75"/>
<circle cx="535.4" cy="336.3" r="0.41" fill="#7466be" fill-opacity="0.60"/>
<circle cx="564.0" cy="304.5" r="0.98" fill="#7466be" fill-opacity="0.54"/>
<circle cx="541.2" cy="293.0" r="0.73" fill="#7466be" fill-opacity="0.75"/>
<circle cx="550.3" cy="332.0" r="0.86" fill="#7466be" fill-opacity="0.74"/>
<circle cx="522.9" cy="304.4" r="0.66" fill="#7466be" fill-opacity="0.70"/>
<circle cx="553.0" cy="341.1" r="0.41" fill="#7466be" fill-opacity="0.55"/>
<circle cx="514.6" cy="328.1" r="0.40" fill="#7466be" fill-opacity="0.56"/>
<circle cx="530.5" cy="319.8" r="0.81" fill="#7466be" fill-opacity="0.57"/>
<circle cx="570.2" cy="334.3" r="0.39" fill="#7466be" fill-opacity="0.74"/>
<circle cx="558.3" cy="298.4" r="0.37" fill="#7466be" fill-opacity="0.63"/>
<circle cx="564.4" cy="347.5" r="0.99" fill="#7466be" fill-opacity="0.67"/>
<circle cx="509.4" cy="333.3" r="0.96" fill="#7466be" fill-opacity="0.63"/>
<circle cx="521.2" cy="313.1" r="0.39" fill="#7466be" fill-opacity="0.54"/>
<circle cx="526.6" cy="296.1" r="0.37" fill="#7466be" fill-opacity="0.72"/>
<circle cx="530.7" cy="353.0" r="0.37" fill="#7466be" fill-opacity="0.59"/>
<circle cx="546.9" cy="304.7" r="0.38" fill="#7466be" fill-opacity="0.64"/>
<circle cx="518.0" cy="359.8" r="0.36" fill="#7466be" fill-opacity="0.75"/>
<circle cx="568.3" cy="338.9" r="0.75" fill="#7466be" fill-opacity="0.57"/>
<circle cx="510.2" cy="329.2" r="0.41" fill="#7466be" fill-opacity="0.57"/>
<circle cx="508.1" cy="355.0" r="1.25" fill="#7466be" fill-opacity="0.73"/>
<circle cx="552.8" cy="339.5" r="1.07" fill="#7466be" fill-opacity="0.54"/>
<circle cx="530.0" cy="302.4" r="1.21" fill="#7466be" fill-opacity="0.53"/>
<circle cx="542.3" cy="302.3" r="0.37" fill="#7466be" fill-opacity="0.53"/>
<circle cx="548.3" cy="299.8" r="0.38" fill="#7466be" fill-opacity="0.62"/>
<circle cx="551.5" cy="314.8" r="0.64" fill="#7466be" fill-opacity="0.56"/>
<circle cx="548.4" cy="357.5" r="0.81" fill="#7466be" fill-opacity="0.57"/>
<circle cx="546.4" cy="332.9" r="0.68" fill="#7466be" fill-opacity="0.64"/>
<circle cx="530.4" cy="346.3" r="0.69" fill="#7466be" fill-opacity="0.68"/>
<circle cx="545.3" cy="296.9" r="0.39" fill="#7466be" fill-opacity="0.54"/>
<circle cx="530.6" cy="298.9" r="0.82" fill="#7466be" fill-opacity="0.54"/>
<circle cx="542.8" cy="302.6" r="0.99" fill="#7466be" fill-opacity="0.72"/>
<circle cx="526.2" cy="326.2" r="1.10" fill="#7466be" fill-opacity="0.63"/>
<circle cx="549.4" cy="309.4" r="0.38" fill="#7466be" fill-opacity="0.71"/>
<circle cx="520.9" cy="339.8" r="0.47" fill="#7466be" fill-opacity="0.66"/>
<circle cx="563.4" cy="326.8" r="0.53" fill="#7466be" fill-opacity="0.64"/>
<circle cx="558.1" cy="349.2" r="0.95" fill="#7466be" fill-opacity="0.72"/>
<circle cx="518.9" cy="356.4" r="0.48" fill="#7466be" fill-opacity="0.69"/>
<circle cx="567.6" cy="339.7" r="1.17" fill="#7466be" fill-opacity="0.64"/>
<circle cx="503.5" cy="323.4" r="0.61" fill="#7466be" fill-opacity="0.53"/>
<circle cx="554.4" cy="321.6" r="0.38" fill="#7466be" fill-opacity="0.55"/>
<circle cx="533.4" cy="361.7" r="0.35" fill="#7466be" fill-opacity="0.55"/>
<circle cx="527.1" cy="306.7" r="0.35" fill="#7466be" fill-opacity="0.66"/>
<circle cx="507.0" cy="312.1" r="0.79" fill="#7466be" fill-opacity="0.55"/>
<circle cx="556.7" cy="301.1" r="0.35" fill="#7466be" fill-opacity="0.55"/>
<circle cx="504.1" cy="327.1" r="0.42" fill="#7466be" fill-opacity="0.55"/>
<circle cx="519.0" cy="335.7" r="0.67" fill="#7466be" fill-opacity="0.72"/>
<circle cx="552.2" cy="350.7" r="0.85" fill="#7466be" fill-opacity="0.56"/>
<circle cx="550.9" cy="292.3" r="0.49" fill="#7466be" fill-opacity="0.62"/>
<circle cx="549.5" cy="300.5" r="0.49" fill="#7466be" fill-opacity="0.74"/>
<circle cx="537.7" cy="301.1" r="0.40" fill="#7466be" fill-opacity="0.60"/>
<circle cx="498.1" cy="341.1" r="0.93" fill="#7466be" fill-opacity="0.73"/>
<circle cx="547.9" cy="292.6" r="0.35" fill="#7466be" fill-opacity="0.64"/>
<circle cx="569.9" cy="316.0" r="0.41" fill="#7466be" fill-opacity="0.62"/>
<circle cx="516.1" cy="306.7" r="0.60" fill="#7466be" fill-opacity="0.54"/>
<circle cx="506.6" cy="338.0" r="0.35" fill="#7466be" fill-opacity="0.56"/>
<circle cx="567.9" cy="319.3" r="1.14" fill="#7466be" fill-opacity="0.67"/>
<circle cx="546.9" cy="291.5" r="1.05" fill="#7466be" fill-opacity="0.53"/>
<circle cx="519.1" cy="308.2" r="0.76" fill="#7466be" fill-opacity="0.59"/>
<circle cx="497.2" cy="316.0" r="0.70" fill="#7466be" fill-opacity="0.58"/>
<circle cx="505.9" cy="322.4" r="1.16" fill="#7466be" fill-opacity="0.59"/>
<circle cx="522.4" cy="356.6" r="0.36" fill="#7466be" fill-opacity="0.66"/>
<circle cx="562.1" cy="317.8" r="0.41" fill="#7466be" fill-opacity="0.63"/>
<circle cx="515.8" cy="322.1" r="0.36" fill="#7466be" fill-opacity="0.55"/>
<circle cx="526.2" cy="352.0" r="0.42" fill="#7466be" fill-opacity="0.58"/>
<circle cx="559.4" cy="341.9" r="0.98" fill="#7466be" fill-opacity="0.66"/>
<circle cx="504.0" cy="312.0" r="0.39" fill="#7466be" fill-opacity="0.68"/>
<circle cx="503.9" cy="333.3" r="0.69" fill="#7466be" fill-opacity="0.63"/>
<circle cx="525.3" cy="346.3" r="0.39" fill="#7466be" fill-opacity="0.64"/>
<circle cx="510.2" cy="346.9" r="0.35" fill="#7466be" fill-opacity="0.60"/>
<circle cx="547.6" cy="309.2" r="0.63" fill="#7466be" fill-opacity="0.64"/>
<circle cx="525.1" cy="363.6" r="0.43" fill="#7466be" fill-opacity="0.70"/>
<circle cx="540.6" cy="336.9" r="1.03" fill="#7466be" fill-opacity="0.62"/>
<circle cx="558.1" cy="336.0" r="0.52" fill="#7466be" fill-opacity="0.69"/>
<circle cx="550.0" cy="339.4" r="1.18" fill="#7466be" fill-opacity="0.69"/>
<circle cx="547.7" cy="346.6" r="0.46" fill="#7466be" fill-opacity="0.68"/>
<circle cx="506.4" cy="301.6" r="0.96" fill="#7466be" fill-opacity="0.64"/>
<circle cx="531.1" cy="291.5" r="0.87" fill="#7466be" fill-opacity="0.63"/>
<circle cx="540.9" cy="292.9" r="1.10" fill="#7466be" fill-opacity="0.55"/>
<circle cx="536.5" cy="322.7" r="0.88" fill="#7466be" fill-opacity="0.66"/>
<circle cx="495.3" cy="326.4" r="0.64" fill="#7466be" fill-opacity="0.62"/>
<circle cx="541.2" cy="290.0" r="0.68" fill="#7466be" fill-opacity="0.61"/>
<circle cx="506.4" cy="334.3" r="0.82" fill="#7466be" fill-opacity="0.59"/>
<circle cx="509.8" cy="345.3" r="0.48" fill="#7466be" fill-opacity="0.60"/>
<circle cx="541.9" cy="290.5" r="0.57" fill="#7466be" fill-opacity="0.62"/>
<circle cx="543.2" cy="348.0" r="0.37" fill="#7466be" fill-opacity="0.65"/>
<circle cx="520.7" cy="318.7" r="1.11" fill="#7466be" fill-opacity="0.60"/>
<circle cx="553.5" cy="295.8" r="1.18" fill="#7466be" fill-opacity="0.57"/>
<circle cx="500.0" cy="342.6" r="0.35" fill="#7466be" fill-opacity="0.54"/>
<circle cx="506.6" cy="314.3" r="1.11" fill="#7466be" fill-opacity="0.70"/>
<circle cx="495.9" cy="316.6" r="0.59" fill="#7466be" fill-opacity="0.64"/>
<circle cx="523.0" cy="301.5" r="0.47" fill="#7466be" fill-opacity="0.66"/>
<circle cx="511.0" cy="356.5" r="0.76" fill="#7466be" fill-opacity="0.64"/>
<circle cx="554.8" cy="341.2" r="0.49" fill="#7466be" fill-opacity="0.65"/>
<circle cx="500.6" cy="309.4" r="1.19" fill="#7466be" fill-opacity="0.63"/>
<circle cx="503.6" cy="337.7" r="1.24" fill="#7466be" fill-opacity="0.60"/>
<circle cx="498.4" cy="319.2" r="0.38" fill="#7466be" fill-opacity="0.60"/>
<circle cx="569.1" cy="321.0" r="0.59" fill="#7466be" fill-opacity="0.55"/>
<circle cx="559.9" cy="305.3" r="0.96" fill="#7466be" fill-opacity="0.75"/>
<circle cx="554.4" cy="308.2" r="0.37" fill="#7466be" fill-opacity="0.59"/>
<circle cx="504.1" cy="323.7" r="0.38" fill="#7466be" fill-opacity="0.57"/>
<circle cx="511.8" cy="302.8" r="0.46" fill="#7466be" fill-opacity="0.75"/>
<circle cx="526.3" cy="317.6" r="0.50" fill="#7466be" fill-opacity="0.70"/>
<circle cx="521.8" cy="357.3" r="0.35" fill="#7466be" fill-opacity="0.59"/>
<circle cx="550.6" cy="299.7" r="0.75" fill="#7466be" fill-opacity="0.57"/>
<circle cx="502.9" cy="326.3" r="0.41" fill="#7466be" fill-opacity="0.67"/>
<circle cx="495.5" cy="318.3" r="0.65" fill="#7466be" fill-opacity="0.62"/>
<circle cx="546.9" cy="338.7" r="0.87" fill="#7466be" fill-opacity="0.55"/>
<circle cx="549.0" cy="337.2" r="0.60" fill="#7466be" fill-opacity="0.71"/>
<circle cx="506.5" cy="302.7" r="0.35" fill="#7466be" fill-opacity="0.53"/>
<circle cx="536.7" cy="301.4" r="0.81" fill="#7466be" fill-opacity="0.60"/>
<circle cx="544.6" cy="345.9" r="0.36" fill="#7466be" fill-opacity="0.73"/>
<circle cx="511.4" cy="313.3" r="0.53" fill="#7466be" fill-opacity="0.61"/>
<circle cx="568.4" cy="338.4" r="0.66" fill="#7466be" fill-opacity="0.74"/>
<circle cx="503.7" cy="337.8" r="0.41" fill="#7466be" fill-opacity="0.53"/>
<circle cx="566.6" cy="310.6" r="0.44" fill="#7466be" fill-opacity="0.73"/>
<circle cx="543.2" cy="303.8" r="0.68" fill="#7466be" fill-opacity="0.74"/>
<circle cx="495.5" cy="327.0" r="0.40" fill="#7466be" fill-opacity="0.61"/>
<circle cx="529.3" cy="305.1" r="0.44" fill="#7466be" fill-opacity="0.72"/>
<circle cx="498.3" cy="329.4" r="0.40" fill="#7466be" fill-opacity="0.56"/>
<circle cx="521.0" cy="341.3" r="1.20" fill="#7466be" fill-opacity="0.59"/>
<circle cx="518.4" cy="319.7" r="0.61" fill="#7466be" fill-opacity="0.61"/>
<circle cx="522.8" cy="333.3" r="0.36" fill="#7466be" fill-opacity="0.71"/>
<circle cx="520.4" cy="343.7" r="0.38" fill="#7466be" fill-opacity="0.59"/>
<circle cx="534.3" cy="336.0" r="0.75" fill="#7466be" fill-opacity="0.60"/>
<circle cx="552.3" cy="353.9" r="0.36" fill="#7466be" fill-opacity="0.59"/>
<circle cx="542.2" cy="311.2" r="0.53" fill="#7466be" fill-opacity="0.71"/>
<circle cx="539.8" cy="308.4" r="0.46" fill="#7466be" fill-opacity="0.69"/>
<circle cx="506.2" cy="352.6" r="0.39" fill="#7466be" fill-opacity="0.74"/>
<circle cx="512.1" cy="325.2" r="0.53" fill="#7466be" fill-opacity="0.55"/>
<circle cx="527.4" cy="304.1" r="1.08" fill="#7466be" fill-opacity="0.66"/>
<circle cx="518.5" cy="342.2" r="0.68" fill="#7466be" fill-opacity="0.57"/>
<circle cx="545.2" cy="313.9" r="0.59" fill="#7466be" fill-opacity="0.65"/>
<circle cx="529.0" cy="360.6" r="0.48" fill="#7466be" fill-opacity="0.67"/>
<circle cx="511.4" cy="315.9" r="0.49" fill="#7466be" fill-opacity="0.54"/>
<circle cx="549.6" cy="358.5" r="0.44" fill="#7466be" fill-opacity="0.67"/>
<circle cx="557.4" cy="345.4" r="0.47" fill="#7466be" fill-opacity="0.64"/>
<circle cx="529.7" cy="338.4" r="0.44" fill="#7466be" fill-opacity="0.58"/>
<circle cx="557.3" cy="350.1" r="0.42" fill="#7466be" fill-opacity="0.62"/>
<circle cx="563.0" cy="306.9" r="1.05" fill="#7466be" fill-opacity="0.72"/>
<circle cx="549.2" cy="343.0" r="0.35" fill="#7466be" fill-opacity="0.68"/>
<circle cx="520.3" cy="304.0" r="0.50" fill="#7466be" fill-opacity="0.67"/>
<circle cx="526.5" cy="304.8" r="1.00" fill="#7466be" fill-opacity="0.60"/>
<circle cx="520.0" cy="311.7" r="0.36" fill="#7466be" fill-opacity="0.73"/>
<circle cx="530.1" cy="292.2" r="0.35" fill="#7466be" fill-opacity="0.53"/>
<circle cx="544.2" cy="343.2" r="0.43" fill="#7466be" fill-opacity="0.61"/>
<circle cx="557.1" cy="331.8" r="0.72" fill="#7466be" fill-opacity="0.57"/>
<circle cx="550.0" cy="299.7" r="0.81" fill="#7466be" fill-opacity="0.58"/>
<circle cx="502.9" cy="339.2" r="0.46" fill="#7466be" fill-opacity="0.53"/>
<circle cx="551.2" cy="295.6" r="0.42" fill="#7466be" fill-opacity="0.53"/>
<circle cx="552.8" cy="300.7" r="0.35" fill="#7466be" fill-opacity="0.58"/>
<circle cx="560.6" cy="348.6" r="0.39" fill="#7466be" fill-opacity="0.73"/>
<circle cx="533.5" cy="311.3" r="0.78" fill="#7466be" fill-opacity="0.61"/>
<circle cx="532.9" cy="289.9" r="0.42" fill="#7466be" fill-opacity="0.55"/>
<circle cx="559.5" cy="316.8" r="1.13" fill="#7466be" fill-opacity="0.68"/>
<circle cx="530.9" cy="290.0" r="0.71" fill="#7466be" fill-opacity="0.63"/>
<circle cx="565.2" cy="337.1" r="0.52" fill="#7466be" fill-opacity="0.64"/>
<circle cx="548.8" cy="318.5" r="0.87" fill="#7466be" fill-opacity="0.53"/>
<circle cx="523.1" cy="291.9" r="0.41" fill="#7466be" fill-opacity="0.65"/>
<circle cx="565.3" cy="319.7" r="0.62" fill="#7466be" fill-opacity="0.58"/>
<circle cx="557.5" cy="335.3" r="0.50" fill="#7466be" fill-opacity="0.57"/>
<circle cx="527.0" cy="342.1" r="0.80" fill="#7466be" fill-opacity="0.68"/>
<circle cx="535.2" cy="347.8" r="0.59" fill="#7466be" fill-opacity="0.63"/>
<circle cx="557.0" cy="315.9" r="0.43" fill="#7466be" fill-opacity="0.72"/>
<circle cx="552.9" cy="349.9" r="0.45" fill="#7466be" fill-opacity="0.71"/>
<circle cx="500.3" cy="315.5" r="0.38" fill="#7466be" fill-opacity="0.67"/>
<circle cx="510.3" cy="309.4" r="0.88" fill="#7466be" fill-opacity="0.71"/>
<circle cx="551.3" cy="341.5" r="0.47" fill="#7466be" fill-opacity="0.57"/>
<circle cx="555.2" cy="334.5" r="0.38" fill="#7466be" fill-opacity="0.68"/>
<circle cx="518.1" cy="331.1" r="0.44" fill="#7466be" fill-opacity="0.63"/>
<circle cx="521.1" cy="340.3" r="0.35" fill="#7466be" fill-opacity="0.53"/>
<circle cx="568.0" cy="324.2" r="0.36" fill="#7466be" fill-opacity="0.69"/>
<circle cx="564.1" cy="322.1" r="0.36" fill="#7466be" fill-opacity="0.63"/>
<circle cx="515.2" cy="333.9" r="0.62" fill="#7466be" fill-opacity="0.53"/>
<circle cx="562.0" cy="310.1" r="0.70" fill="#7466be" fill-opacity="0.74"/>
<circle cx="520.7" cy="307.6" r="0.40" fill="#7466be" fill-opacity="0.56"/>
<circle cx="568.0" cy="332.0" r="0.98" fill="#7466be" fill-opacity="0.59"/>
<circle cx="546.2" cy="355.7" r="0.99" fill="#7466be" fill-opacity="0.73"/>
<circle cx="550.8" cy="356.6" r="0.97" fill="#7466be" fill-opacity="0.69"/>
<circle cx="524.4" cy="343.4" r="0.96" fill="#7466be" fill-opacity="0.60"/>
<circle cx="512.8" cy="348.4" r="0.47" fill="#7466be" fill-opacity="0.71"/>
<circle cx="534.2" cy="336.7" r="0.64" fill="#7466be" fill-opacity="0.67"/>
<circle cx="547.8" cy="295.3" r="1.09" fill="#7466be" fill-opacity="0.74"/>
<circle cx="504.1" cy="326.9" r="0.37" fill="#7466be" fill-opacity="0.59"/>
<circle cx="521.2" cy="319.0" r="0.78" fill="#7466be" fill-opacity="0.56"/>
<circle cx="497.6" cy="339.3" r="0.36" fill="#7466be" fill-opacity="0.53"/>
<circle cx="514.9" cy="333.3" r="0.82" fill="#7466be" fill-opacity="0.53"/>
<circle cx="553.2" cy="295.2" r="0.91" fill="#7466be" fill-opacity="0.62"/>
<circle cx="526.7" cy="358.1" r="0.59" fill="#7466be" fill-opacity="0.62"/>
<circle cx="518.7" cy="349.6" r="0.75" fill="#7466be" fill-opacity="0.71"/>
<circle cx="549.0" cy="315.2" r="0.43" fill="#7466be" fill-opacity="0.62"/>
<circle cx="510.1" cy="316.0" r="0.38" fill="#7466be" fill-opacity="0.54"/>
<circle cx="520.8" cy="351.4" r="1.20" fill="#7466be" fill-opacity="0.73"/>
<circle cx="559.0" cy="297.2" r="1.18" fill="#7466be" fill-opacity="0.66"/>
<circle cx="538.2" cy="314.2" r="0.76" fill="#7466be" fill-opacity="0.66"/>
<circle cx="524.5" cy="355.6" r="1.17" fill="#7466be" fill-opacity="0.63"/>
<circle cx="519.1" cy="306.8" r="0.46" fill="#7466be" fill-opacity="0.72"/>
<circle cx="553.1" cy="329.4" r="0.76" fill="#7466be" fill-opacity="0.63"/>
<circle cx="561.8" cy="342.7" r="0.47" fill="#7466be" fill-opacity="0.66"/>
<circle cx="507.5" cy="341.0" r="0.64" fill="#7466be" fill-opacity="0.61"/>
<circle cx="548.2" cy="338.8" r="1.06" fill="#7466be" fill-opacity="0.65"/>
<circle cx="561.3" cy="349.6" r="0.41" fill="#7466be" fill-opacity="0.55"/>
<circle cx="511.6" cy="321.6" r="0.57" fill="#7466be" fill-opacity="0.65"/>
<circle cx="538.1" cy="356.6" r="0.36" fill="#7466be" fill-opacity="0.64"/>
<circle cx="521.5" cy="318.4" r="0.50" fill="#7466be" fill-opacity="0.54"/>
<circle cx="499.5" cy="339.5" r="0.62" fill="#7466be" fill-opacity="0.69"/>
<circle cx="534.2" cy="309.6" r="1.23" fill="#7466be" fill-opacity="0.69"/>
<circle cx="562.4" cy="347.5" r="0.49" fill="#7466be" fill-opacity="0.56"/>
<circle cx="563.4" cy="318.2" r="0.89" fill="#7466be" fill-opacity="0.56"/>
<circle cx="535.5" cy="313.7" r="0.40" fill="#7466be" fill-opacity="0.61"/>
<circle cx="564.9" cy="328.9" r="0.39" fill="#7466be" fill-opacity="0.59"/>
<circle cx="526.2" cy="299.3" r="1.06" fill="#7466be" fill-opacity="0.66"/>
<circle cx="554.9" cy="303.7" r="1.11" fill="#7466be" fill-opacity="0.72"/>
<circle cx="550.5" cy="355.9" r="0.45" fill="#7466be" fill-opacity="0.70"/>
<circle cx="518.3" cy="293.3" r="0.36" fill="#7466be" fill-opacity="0.61"/>
<circle cx="530.5" cy="288.0" r="0.82" fill="#7466be" fill-opacity="0.53"/>
<circle cx="521.2" cy="316.5" r="0.62" fill="#7466be" fill-opacity="0.71"/>
<circle cx="562.0" cy="350.4" r="0.76" fill="#7466be" fill-opacity="0.58"/>
<circle cx="543.3" cy="352.2" r="0.98" fill="#7466be" fill-opacity="0.66"/>
<circle cx="539.8" cy="331.3" r="0.36" fill="#7466be" fill-opacity="0.71"/>
<circle cx="545.6" cy="354.0" r="0.43" fill="#7466be" fill-opacity="0.68"/>
<circle cx="520.4" cy="338.1" r="1.04" fill="#7466be" fill-opacity="0.65"/>
<circle cx="520.3" cy="292.8" r="1.16" fill="#7466be" fill-opacity="0.53"/>
<circle cx="523.5" cy="341.1" r="0.58" fill="#7466be" fill-opacity="0.72"/>
<circle cx="536.7" cy="316.2" r="0.38" fill="#7466be" fill-opacity="0.71"/>
<circle cx="522.1" cy="301.8" r="0.55" fill="#7466be" fill-opacity="0.56"/>
<circle cx="548.5" cy="303.8" r="1.04" fill="#7466be" fill-opacity="0.66"/>
<circle cx="555.6" cy="337.3" r="0.39" fill="#7466be" fill-opacity="0.73"/>
<circle cx="524.1" cy="320.0" r="0.38" fill="#7466be" fill-opacity="0.61"/>
<circle cx="503.0" cy="332.2" r="0.49" fill="#7466be" fill-opacity="0.60"/>
<circle cx="564.7" cy="327.1" r="0.45" fill="#7466be" fill-opacity="0.53"/>
<circle cx="496.2" cy="335.6" r="0.35" fill="#7466be" fill-opacity="0.56"/>
<circle cx="522.5" cy="305.6" r="0.42" fill="#7466be" fill-opacity="0.64"/>
<circle cx="531.2" cy="356.8" r="0.60" fill="#7466be" fill-opacity="0.74"/>
<circle cx="543.5" cy="325.4" r="0.63" fill="#7466be" fill-opacity="0.70"/>
<circle cx="557.9" cy="300.7" r="0.71" fill="#7466be" fill-opacity="0.67"/>
<circle cx="518.3" cy="343.6" r="0.92" fill="#7466be" fill-opacity="0.72"/>
<circle cx="564.3" cy="313.4" r="0.43" fill="#7466be" fill-opacity="0.70"/>
<circle cx="531.6" cy="296.4" r="0.71" fill="#7466be" fill-opacity="0.60"/>
<circle cx="507.8" cy="317.4" r="0.35" fill="#7466be" fill-opacity="0.60"/>
<circle cx="516.4" cy="360.5" r="0.56" fill="#7466be" fill-opacity="0.61"/>
<circle cx="534.4" cy="347.6" r="0.46" fill="#7466be" fill-opacity="0.56"/>
<circle cx="570.2" cy="327.6" r="0.53" fill="#7466be" fill-opacity="0.63"/>
<circle cx="511.7" cy="315.8" r="0.38" fill="#7466be" fill-opacity="0.54"/>
<circle cx="525.8" cy="348.9" r="0.83" fill="#7466be" fill-opacity="0.65"/>
<circle cx="556.8" cy="316.2" r="1.11" fill="#7466be" fill-opacity="0.66"/>
<circle cx="550.6" cy="335.3" r="0.65" fill="#7466be" fill-opacity="0.75"/>
<circle cx="511.7" cy="353.3" r="0.52" fill="#7466be" fill-opacity="0.72"/>
<circle cx="559.9" cy="337.9" r="1.08" fill="#7466be" fill-opacity="0.59"/>
<circle cx="533.1" cy="334.5" r="0.37" fill="#7466be" fill-opacity="0.59"/>
<circle cx="527.5" cy="305.7" r="0.49" fill="#7466be" fill-opacity="0.57"/>
<circle cx="504.3" cy="303.9" r="0.73" fill="#7466be" fill-opacity="0.57"/>
<circle cx="529.6" cy="287.9" r="0.68" fill="#7466be" fill-opacity="0.54"/>
<circle cx="546.9" cy="291.6" r="0.45" fill="#7466be" fill-opacity="0.56"/>
<circle cx="545.0" cy="353.9" r="1.04" fill="#7466be" fill-opacity="0.67"/>
<circle cx="552.0" cy="316.2" r="0.45" fill="#7466be" fill-opacity="0.69"/>
<circle cx="517.5" cy="304.1" r="0.76" fill="#7466be" fill-opacity="0.60"/>
<circle cx="559.0" cy="335.5" r="0.35" fill="#7466be" fill-opacity="0.67"/>
<circle cx="533.5" cy="410.1" r="40" fill="url(#plate3)"/>
<circle cx="519.2" cy="434.5" r="0.97" fill="#6656bb" fill-opacity="0.66"/>
<circle cx="528.0" cy="411.4" r="1.69" fill="#6656bb" fill-opacity="0.74"/>
<circle cx="544.1" cy="409.3" r="1.00" fill="#6656bb" fill-opacity="0.78"/>
<circle cx="527.1" cy="421.8" r="0.49" fill="#6656bb" fill-opacity="0.63"/>
<circle cx="534.9" cy="397.1" r="1.41" fill="#6656bb" fill-opacity="0.70"/>
<circle cx="503.8" cy="402.7" r="0.90" fill="#6656bb" fill-opacity="0.76"/>
<circle cx="514.6" cy="396.0" r="1.25" fill="#6656bb" fill-opacity="0.66"/>
<circle cx="525.3" cy="376.7" r="1.32" fill="#6656bb" fill-opacity="0.67"/>
<circle cx="538.9" cy="372.1" r="0.75" fill="#6656bb" fill-opacity="0.67"/>
<circle cx="496.2" cy="404.6" r="0.48" fill="#6656bb" fill-opacity="0.60"/>
<circle cx="501.8" cy="415.0" r="1.32" fill="#6656bb" fill-opacity="0.69"/>
<circle cx="553.4" cy="408.8" r="1.28" fill="#6656bb" fill-opacity="0.62"/>
<circle cx="549.0" cy="412.8" r="0.46" fill="#6656bb" fill-opacity="0.72"/>
<circle cx="516.6" cy="404.0" r="1.73" fill="#6656bb" fill-opacity="0.69"/>
<circle cx="544.0" cy="424.5" r="1.24" fill="#6656bb" fill-opacity="0.83"/>
<circle cx="537.6" cy="416.8" r="1.33" fill="#6656bb" fill-opacity="0.66"/>
<circle cx="561.7" cy="407.0" r="1.04" fill="#6656bb" fill-opacity="0.68"/>
<circle cx="542.0" cy="384.1" r="0.60" fill="#6656bb" fill-opacity="0.83"/>
<circle cx="559.8" cy="431.3" r="0.46" fill="#6656bb" fill-opacity="0.76"/>
<circle cx="503.9" cy="431.1" r="0.46" fill="#6656bb" fill-opacity="0.74"/>
<circle cx="502.0" cy="430.1" r="1.74" fill="#6656bb" fill-opacity="0.75"/>
<circle cx="536.9" cy="430.7" r="0.55" fill="#6656bb" fill-opacity="0.71"/>
<circle cx="535.7" cy="428.9" r="1.29" fill="#6656bb" fill-opacity="0.76"/>
<circle cx="521.9" cy="447.0" r="0.52" fill="#6656bb" fill-opacity="0.74"/>
<circle cx="553.6" cy="440.4" r="1.55" fill="#6656bb" fill-opacity="0.66"/>
<circle cx="533.8" cy="374.6" r="0.57" fill="#6656bb" fill-opacity="0.68"/>
<circle cx="496.8" cy="413.4" r="0.49" fill="#6656bb" fill-opacity="0.77"/>
<circle cx="511.3" cy="394.5" r="0.94" fill="#6656bb" fill-opacity="0.82"/>
<circle cx="542.7" cy="445.6" r="0.64" fill="#6656bb" fill-opacity="0.79"/>
<circle cx="545.3" cy="396.4" r="1.53" fill="#6656bb" fill-opacity="0.85"/>
<circle cx="531.3" cy="417.1" r="0.47" fill="#6656bb" fill-opacity="0.84"/>
<circle cx="570.7" cy="412.3" r="0.48" fill="#6656bb" fill-opacity="0.78"/>
<circle cx="547.8" cy="420.1" r="1.13" fill="#6656bb" fill-opacity="0.62"/>
<circle cx="513.6" cy="441.7" r="1.19" fill="#6656bb" fill-opacity="0.82"/>
<circle cx="541.8" cy="409.0" r="0.53" fill="#6656bb" fill-opacity="0.80"/>
<circle cx="530.2" cy="401.8" r="0.82" fill="#6656bb" fill-opacity="0.65"/>
<circle cx="520.8" cy="416.0" r="0.45" fill="#6656bb" fill-opacity="0.85"/>
<circle cx="518.6" cy="443.6" r="0.47" fill="#6656bb" fill-opacity="0.72"/>
<circle cx="550.9" cy="430.1" r="0.50" fill="#6656bb" fill-opacity="0.77"/>
<circle cx="553.7" cy="437.2" r="0.81" fill="#6656bb" fill-opacity="0.62"/>
<circle cx="516.4" cy="432.6" r="1.67" fill="#6656bb" fill-opacity="0.68"/>
<circle cx="541.8" cy="447.4" r="1.58" fill="#6656bb" fill-opacity="0.78"/>
<circle cx="530.9" cy="427.7" r="0.55" fill="#6656bb" fill-opacity="0.61"/>
<circle cx="561.1" cy="417.8" r="0.69" fill="#6656bb" fill-opacity="0.74"/>
<circle cx="530.2" cy="413.9" r="1.14" fill="#6656bb" fill-opacity="0.76"/>
<circle cx="505.0" cy="402.0" r="1.14" fill="#6656bb" fill-opacity="0.85"/>
<circle cx="557.0" cy="386.3" r="0.68" fill="#6656bb" fill-opacity="0.68"/>
<circle cx="500.0" cy="428.7" r="0.67" fill="#6656bb" fill-opacity="0.69"/>
<circle cx="519.8" cy="418.8" r="1.90" fill="#6656bb" fill-opacity="0.60"/>
<circle cx="504.3" cy="386.6" r="0.54" fill="#6656bb" fill-opacity="0.75"/>
<circle cx="518.9" cy="424.4" r="0.51" fill="#6656bb" fill-opacity="0.62"/>
<circle cx="552.7" cy="381.1" r="1.65" fill="#6656bb" fill-opacity="0.61"/>
<circle cx="525.5" cy="388.1" r="1.06" fill="#6656bb" fill-opacity="0.73"/>
<circle cx="518.2" cy="445.2" r="0.45" fill="#6656bb" fill-opacity="0.79"/>
<circle cx="550.8" cy="387.3" r="0.96" fill="#6656bb" fill-opacity="0.85"/>
<circle cx="536.6" cy="441.5" r="1.25" fill="#6656bb" fill-opacity="0.69"/>
<circle cx="527.5" cy="385.3" r="0.85" fill="#6656bb" fill-opacity="0.75"/>
<circle cx="523.2" cy="389.2" r="1.02" fill="#6656bb" fill-opacity="0.73"/>
<circle cx="538.7" cy="440.8" r="0.55" fill="#6656bb" fill-opacity="0.83"/>
<circle cx="500.5" cy="415.7" r="0.85" fill="#6656bb" fill-opacity="0.72"/>
<circle cx="536.4" cy="426.0" r="1.70" fill="#6656bb" fill-opacity="0.73"/>
<circle cx="504.7" cy="405.7" r="1.41" fill="#6656bb" fill-opacity="0.66"/>
<circle cx="550.2" cy="441.5" r="0.76" fill="#6656bb" fill-opacity="0.76"/>
<circle cx="550.8" cy="377.5" r="1.54" fill="#6656bb" fill-opacity="0.61"/>
<circle cx="507.3" cy="434.3" r="1.42" fill="#6656bb" fill-opacity="0.63"/>
<circle cx="545.3" cy="427.3" r="0.47" fill="#6656bb" fill-opacity="0.69"/>
<circle cx="543.0" cy="382.8" r="0.75" fill="#6656bb" fill-opacity="0.62"/>
<circle cx="502.8" cy="433.7" r="1.15" fill="#6656bb" fill-opacity="0.71"/>
<circle cx="498.8" cy="414.9" r="1.28" fill="#6656bb" fill-opacity="0.63"/>
<circle cx="523.0" cy="387.7" r="0.84" fill="#6656bb" fill-opacity="0.66"/>
<circle cx="517.1" cy="427.4" r="0.66" fill="#6656bb" fill-opacity="0.60"/>
<circle cx="542.7" cy="438.8" r="0.45" fill="#6656bb" fill-opacity="0.64"/>
<circle cx="529.2" cy="388.8" r="0.60" fill="#6656bb" fill-opacity="0.66"/>
<circle cx="540.2" cy="398.7" r="1.04" fill="#6656bb" fill-opacity="0.81"/>
<circle cx="541.4" cy="435.2" r="1.36" fill="#6656bb" fill-opacity="0.75"/>
<text x="577.4" y="247.4" font-size="12.2" font-weight="bold" text-anchor="start" fill="#000">4T1</text>
<text x="577.4" y="333.2" font-size="13.1" font-weight="bold" text-anchor="start" fill="#000">Snord67KO-1</text>
<text x="577.4" y="414.7" font-size="13.1" font-weight="bold" text-anchor="start" fill="#000">Snord67KO-2</text>
<rect x="542.40" y="513.96" width="27.90" height="101.14" fill="#414141" stroke="#000" stroke-width="2.6"/>
<rect x="587.30" y="591.23" width="28.30" height="23.87" fill="#e8322f" stroke="#000" stroke-width="2.6"/>
<rect x="633.30" y="605.22" width="27.90" height="9.88" fill="#6a50a0" stroke="#000" stroke-width="2.6"/>
<circle cx="549.5" cy="513.2" r="2.7" fill="#808080" stroke="#000" stroke-width="1.1"/>
<circle cx="557.2" cy="507.7" r="2.7" fill="#808080" stroke="#000" stroke-width="1.1"/>
<circle cx="563.5" cy="513.8" r="2.7" fill="#808080" stroke="#000" stroke-width="1.1"/>
<circle cx="595.7" cy="594.2" r="2.7" fill="#808080" stroke="#000" stroke-width="1.1"/>
<circle cx="601.5" cy="583.8" r="2.7" fill="#808080" stroke="#000" stroke-width="1.1"/>
<circle cx="607.3" cy="591.7" r="2.7" fill="#808080" stroke="#000" stroke-width="1.1"/>
<circle cx="639" cy="604.8" r="2.7" fill="#808080" stroke="#000" stroke-width="1.1"/>
<circle cx="647.4" cy="603.2" r="2.7" fill="#808080" stroke="#000" stroke-width="1.1"/>
<circle cx="657.5" cy="604" r="2.7" fill="#808080" stroke="#000" stroke-width="1.1"/>
<line x1="526" y1="486.3" x2="526" y2="616.6" stroke="#000" stroke-width="3"/>
<line x1="523.5" y1="615.1" x2="677.6" y2="615.1" stroke="#000" stroke-width="3"/>
<line x1="517.5" y1="615.1" x2="526" y2="615.1" stroke="#000" stroke-width="2.5"/>
<text x="514.2" y="619.8000000000001" font-size="13.3" font-weight="bold" text-anchor="end" fill="#000">0</text>
<line x1="517.5" y1="589.6800000000001" x2="526" y2="589.6800000000001" stroke="#000" stroke-width="2.5"/>
<text x="514.2" y="594.3800000000001" font-size="13.3" font-weight="bold" text-anchor="end" fill="#000">10</text>
<line x1="517.5" y1="564.26" x2="526" y2="564.26" stroke="#000" stroke-width="2.5"/>
<text x="514.2" y="568.96" font-size="13.3" font-weight="bold" text-anchor="end" fill="#000">20</text>
<line x1="517.5" y1="538.84" x2="526" y2="538.84" stroke="#000" stroke-width="2.5"/>
<text x="514.2" y="543.5400000000001" font-size="13.3" font-weight="bold" text-anchor="end" fill="#000">30</text>
<line x1="517.5" y1="513.4200000000001" x2="526" y2="513.4200000000001" stroke="#000" stroke-width="2.5"/>
<text x="514.2" y="518.1200000000001" font-size="13.3" font-weight="bold" text-anchor="end" fill="#000">40</text>
<line x1="517.5" y1="488.0" x2="526" y2="488.0" stroke="#000" stroke-width="2.5"/>
<text x="514.2" y="492.7" font-size="13.3" font-weight="bold" text-anchor="end" fill="#000">50</text>
<line x1="555.9" y1="615.1" x2="555.9" y2="623.2" stroke="#000" stroke-width="2.6"/>
<text x="558.2" y="635" font-size="14.1" font-weight="bold" text-anchor="end" fill="#000" transform="rotate(-45 558.2 635)">4T1</text>
<line x1="601.5" y1="615.1" x2="601.5" y2="623.2" stroke="#000" stroke-width="2.6"/>
<text x="603.8" y="635" font-size="14.1" font-weight="bold" text-anchor="end" fill="#000" transform="rotate(-45 603.8 635)">Snord67KO-1</text>
<line x1="647.4" y1="615.1" x2="647.4" y2="623.2" stroke="#000" stroke-width="2.6"/>
<text x="649.7" y="635" font-size="14.1" font-weight="bold" text-anchor="end" fill="#000" transform="rotate(-45 649.7 635)">Snord67KO-2</text>
<text x="490" y="550.7" font-size="14.2" font-weight="bold" text-anchor="middle" fill="#000" transform="rotate(-90 490 550.7)">% Area</text>
<line x1="525" y1="719.5" x2="525" y2="849" stroke="#000" stroke-width="3"/>
<line x1="523.5" y1="847.5" x2="654.3" y2="847.5" stroke="#000" stroke-width="3"/>
<line x1="517.5" y1="847.5" x2="525" y2="847.5" stroke="#000" stroke-width="2.5"/>
<text x="514.2" y="852.3" font-size="13.5" font-weight="bold" text-anchor="end" fill="#000">0</text>
<line x1="517.5" y1="822.14" x2="525" y2="822.14" stroke="#000" stroke-width="2.5"/>
<text x="514.2" y="826.9399999999999" font-size="13.5" font-weight="bold" text-anchor="end" fill="#000">20</text>
<line x1="517.5" y1="796.78" x2="525" y2="796.78" stroke="#000" stroke-width="2.5"/>
<text x="514.2" y="801.5799999999999" font-size="13.5" font-weight="bold" text-anchor="end" fill="#000">40</text>
<line x1="517.5" y1="771.42" x2="525" y2="771.42" stroke="#000" stroke-width="2.5"/>
<text x="514.2" y="776.2199999999999" font-size="13.5" font-weight="bold" text-anchor="end" fill="#000">60</text>
<line x1="517.5" y1="746.06" x2="525" y2="746.06" stroke="#000" stroke-width="2.5"/>
<text x="514.2" y="750.8599999999999" font-size="13.5" font-weight="bold" text-anchor="end" fill="#000">80</text>
<line x1="517.5" y1="720.7" x2="525" y2="720.7" stroke="#000" stroke-width="2.5"/>
<text x="514.2" y="725.5" font-size="13.5" font-weight="bold" text-anchor="end" fill="#000">100</text>
<line x1="524.8" y1="847.5" x2="524.8" y2="855.6" stroke="#000" stroke-width="2.6"/>
<text x="524.8" y="872.3" font-size="13.5" font-weight="bold" text-anchor="middle" fill="#000">0</text>
<line x1="556.7299999999999" y1="847.5" x2="556.7299999999999" y2="855.6" stroke="#000" stroke-width="2.6"/>
<text x="556.7299999999999" y="872.3" font-size="13.5" font-weight="bold" text-anchor="middle" fill="#000">1</text>
<line x1="588.66" y1="847.5" x2="588.66" y2="855.6" stroke="#000" stroke-width="2.6"/>
<text x="588.66" y="872.3" font-size="13.5" font-weight="bold" text-anchor="middle" fill="#000">2</text>
<line x1="620.5899999999999" y1="847.5" x2="620.5899999999999" y2="855.6" stroke="#000" stroke-width="2.6"/>
<text x="620.5899999999999" y="872.3" font-size="13.5" font-weight="bold" text-anchor="middle" fill="#000">3</text>
<line x1="652.52" y1="847.5" x2="652.52" y2="855.6" stroke="#000" stroke-width="2.6"/>
<text x="652.52" y="872.3" font-size="13.5" font-weight="bold" text-anchor="middle" fill="#000">4</text>
<text x="589.1" y="889.3" font-size="14.2" font-weight="bold" text-anchor="middle" fill="#000">Days</text>
<text x="487.4" y="778.6" font-size="14.2" font-weight="bold" text-anchor="middle" fill="#000" transform="rotate(-90 487.4 778.6)">% Confluence</text>
<polyline points="524.8,845.3 556.7,843.1 588.7,834.3 620.6,822.3 652.5,801.0" fill="none" stroke="#7262a8" stroke-width="3.8" stroke-linejoin="round"/>
<circle cx="556.7" cy="842.5" r="2.2" fill="#fff" stroke="#7262a8" stroke-width="1.4"/>
<circle cx="588.7" cy="833.2" r="2.2" fill="#fff" stroke="#7262a8" stroke-width="1.4"/>
<circle cx="588.7" cy="835.4" r="2.2" fill="#fff" stroke="#7262a8" stroke-width="1.4"/>
<circle cx="620.6" cy="819" r="2.2" fill="#fff" stroke="#7262a8" stroke-width="1.4"/>
<circle cx="620.6" cy="822.3" r="2.2" fill="#fff" stroke="#7262a8" stroke-width="1.4"/>
<circle cx="620.6" cy="824.5" r="2.2" fill="#fff" stroke="#7262a8" stroke-width="1.4"/>
<circle cx="652.5" cy="794.9" r="2.2" fill="#fff" stroke="#7262a8" stroke-width="1.4"/>
<circle cx="652.5" cy="800.4" r="2.2" fill="#fff" stroke="#7262a8" stroke-width="1.4"/>
<circle cx="652.5" cy="802.6" r="2.2" fill="#fff" stroke="#7262a8" stroke-width="1.4"/>
<circle cx="524.8" cy="845.3" r="3" fill="#7262a8"/>
<polyline points="524.8,845.3 556.7,840.9 588.7,830.0 620.6,808.1 652.5,781.8" fill="none" stroke="#e8323a" stroke-width="3.8" stroke-linejoin="round"/>
<circle cx="556.7" cy="840" r="2.2" fill="#fff" stroke="#e8323a" stroke-width="1.4"/>
<circle cx="588.7" cy="828.9" r="2.2" fill="#fff" stroke="#e8323a" stroke-width="1.4"/>
<circle cx="588.7" cy="831" r="2.2" fill="#fff" stroke="#e8323a" stroke-width="1.4"/>
<circle cx="620.6" cy="804.3" r="2.2" fill="#fff" stroke="#e8323a" stroke-width="1.4"/>
<circle cx="620.6" cy="807" r="2.2" fill="#fff" stroke="#e8323a" stroke-width="1.4"/>
<circle cx="620.6" cy="810.2" r="2.2" fill="#fff" stroke="#e8323a" stroke-width="1.4"/>
<circle cx="620.6" cy="811.3" r="2.2" fill="#fff" stroke="#e8323a" stroke-width="1.4"/>
<circle cx="652.5" cy="775.9" r="2.2" fill="#fff" stroke="#e8323a" stroke-width="1.4"/>
<circle cx="652.5" cy="779.6" r="2.2" fill="#fff" stroke="#e8323a" stroke-width="1.4"/>
<circle cx="652.5" cy="782.9" r="2.2" fill="#fff" stroke="#e8323a" stroke-width="1.4"/>
<circle cx="652.5" cy="784.6" r="2.2" fill="#fff" stroke="#e8323a" stroke-width="1.4"/>
<circle cx="524.8" cy="845.3" r="3" fill="#e8323a"/>
<polyline points="524.8,845.3 556.7,837.6 588.7,817.9 620.6,778.5 652.5,741.3" fill="none" stroke="#000" stroke-width="3.8" stroke-linejoin="round"/>
<circle cx="556.7" cy="835.4" r="2.2" fill="#fff" stroke="#000" stroke-width="1.4"/>
<circle cx="556.7" cy="838.7" r="2.2" fill="#fff" stroke="#000" stroke-width="1.4"/>
<circle cx="588.7" cy="810.2" r="2.2" fill="#fff" stroke="#000" stroke-width="1.4"/>
<circle cx="588.7" cy="814.6" r="2.2" fill="#fff" stroke="#000" stroke-width="1.4"/>
<circle cx="588.7" cy="822.3" r="2.2" fill="#fff" stroke="#000" stroke-width="1.4"/>
<circle cx="588.7" cy="824.5" r="2.2" fill="#fff" stroke="#000" stroke-width="1.4"/>
<circle cx="620.6" cy="762.1" r="2.2" fill="#fff" stroke="#000" stroke-width="1.4"/>
<circle cx="620.6" cy="778.5" r="2.2" fill="#fff" stroke="#000" stroke-width="1.4"/>
<circle cx="620.6" cy="786.8" r="2.2" fill="#fff" stroke="#000" stroke-width="1.4"/>
<circle cx="620.6" cy="793.4" r="2.2" fill="#fff" stroke="#000" stroke-width="1.4"/>
<circle cx="652.5" cy="727" r="2.2" fill="#fff" stroke="#000" stroke-width="1.4"/>
<circle cx="652.5" cy="738.6" r="2.2" fill="#fff" stroke="#000" stroke-width="1.4"/>
<circle cx="652.5" cy="743.5" r="2.2" fill="#fff" stroke="#000" stroke-width="1.4"/>
<circle cx="652.5" cy="754.4" r="2.2" fill="#fff" stroke="#000" stroke-width="1.4"/>
<circle cx="524.8" cy="845.3" r="3" fill="#000"/>
<text x="652.5" y="777.5" font-size="17" font-weight="bold" text-anchor="middle" fill="#000">*</text>
<text x="653.3" y="820.2" font-size="17" font-weight="bold" text-anchor="middle" fill="#000">***</text>
<text x="621.4" y="839.5" font-size="17" font-weight="bold" text-anchor="middle" fill="#000">**</text>
<text x="589.6" y="851" font-size="17" font-weight="bold" text-anchor="middle" fill="#000">**</text>
<text x="567.9" y="853.2" font-size="17" font-weight="bold" text-anchor="middle" fill="#000">**</text>
<line x1="530.5" y1="725.5" x2="552.4" y2="725.5" stroke="#000" stroke-width="3.9"/>
<circle cx="540.8" cy="725.5" r="3.2" fill="#000"/>
<text x="561.6" y="729.8" font-size="11.6" font-weight="bold" text-anchor="start" fill="#000">4T1</text>
<line x1="530.5" y1="737.2" x2="552.4" y2="737.2" stroke="#e8323a" stroke-width="3.9"/>
<circle cx="540.8" cy="737.2" r="3.2" fill="#e8323a"/>
<text x="561.6" y="741.5" font-size="11.6" font-weight="bold" text-anchor="start" fill="#000">Snord67KO-1</text>
<line x1="530.5" y1="748.9" x2="552.4" y2="748.9" stroke="#7262a8" stroke-width="3.9"/>
<circle cx="540.8" cy="748.9" r="3.2" fill="#7262a8"/>
<text x="561.6" y="753.1999999999999" font-size="11.6" font-weight="bold" text-anchor="start" fill="#000">Snord67KO-2</text>
</svg></body></html>
